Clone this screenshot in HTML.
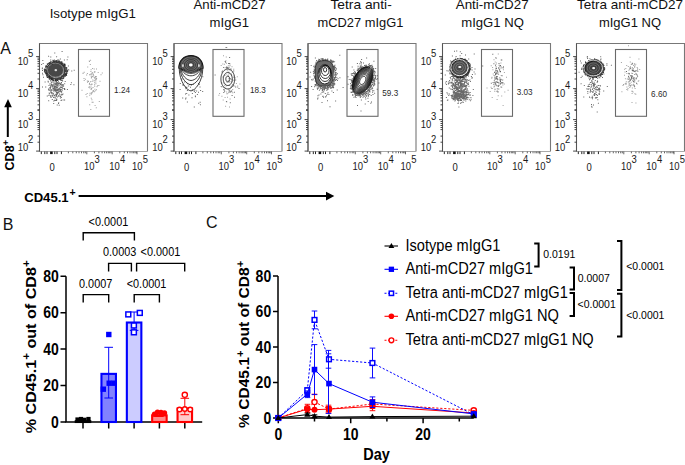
<!DOCTYPE html><html><head><meta charset="utf-8"><style>
html,body{margin:0;padding:0;background:#fff;}
svg{display:block;font-family:"Liberation Sans", sans-serif;}
</style></head><body>
<svg width="685" height="465" viewBox="0 0 685 465">
<defs><filter id="bl" x="-10%" y="-10%" width="120%" height="120%"><feGaussianBlur stdDeviation="0.3"/></filter></defs>
<g font-size="13" fill="#111" text-anchor="middle">
<text x="92.8" y="18.0" textLength="86.2" lengthAdjust="spacingAndGlyphs">Isotype mIgG1</text>
<text x="229.5" y="9.4" textLength="72.0" lengthAdjust="spacingAndGlyphs">Anti-mCD27</text>
<text x="229.3" y="26.6" textLength="39.4" lengthAdjust="spacingAndGlyphs">mIgG1</text>
<text x="361.1" y="9.4" textLength="61.3" lengthAdjust="spacingAndGlyphs">Tetra anti-</text>
<text x="360.4" y="26.6" textLength="85.8" lengthAdjust="spacingAndGlyphs">mCD27 mIgG1</text>
<text x="492.2" y="9.4" textLength="72.9" lengthAdjust="spacingAndGlyphs">Anti-mCD27</text>
<text x="492.6" y="26.6" textLength="62.7" lengthAdjust="spacingAndGlyphs">mIgG1 NQ</text>
<text x="630.0" y="9.4" textLength="106.0" lengthAdjust="spacingAndGlyphs">Tetra anti-mCD27</text>
<text x="630.0" y="26.6" textLength="62.1" lengthAdjust="spacingAndGlyphs">mIgG1 NQ</text>
</g>
<text x="0.3" y="53.7" font-size="16" fill="#111">A</text>
<text x="2.8" y="229.7" font-size="16" fill="#111">B</text>
<text x="206" y="228" font-size="16" fill="#111">C</text>
<path d="M39.5 151.5V43.5H147.5V151.5" fill="none" stroke="#777" stroke-width="1.1"/>
<path d="M39.5 151.5H147.5" fill="none" stroke="#aaa" stroke-width="1.1"/>
<path d="M39.5 151.5V43.5" fill="none" stroke="#555" stroke-width="1"/>
<rect x="78.5" y="49.5" width="31" height="66.8" fill="none" stroke="#6a6a6a" stroke-width="1.1"/>
<path d="M36.1 56.6H39.5 M36.1 88.6H39.5 M36.1 119.6H39.5 M36.1 151.1H39.5 M37.5 109.8H39.5 M37.5 121.5H39.5 M37.5 123.5H39.5 M37.5 125.5H39.5 M37.5 127.5H39.5 M37.5 129.6H39.5 M37.5 136.1H39.5 M37.5 142.2H39.5 M37.5 79.0H39.5 M37.5 73.3H39.5 M37.5 69.3H39.5 M37.5 66.2H39.5 M37.5 63.7H39.5 M37.5 61.6H39.5 M37.5 59.7H39.5 M37.5 58.1H39.5 M37.5 110.3H39.5 M37.5 104.8H39.5 M37.5 100.9H39.5 M37.5 97.9H39.5 M37.5 95.5H39.5 M37.5 93.4H39.5 M37.5 91.6H39.5 M37.5 90.0H39.5" stroke="#333" stroke-width="0.9" fill="none"/>
<path d="M41.3 151.5V154.1 M44.8 151.5V154.1 M47.0 151.5V154.1 M54.8 151.5V154.1 M57.0 151.5V154.1 M61.4 151.5V154.1" stroke="#222" stroke-width="1" fill="none"/>
<rect x="50.1" y="151.5" width="2.6" height="2.6" fill="#111"/>
<path d="M86.8 151.5V154.3 M112.2 151.5V154.3 M137.0 151.5V154.3 M94.4 151.5V153.3 M98.9 151.5V153.3 M102.1 151.5V153.3 M104.6 151.5V153.3 M106.6 151.5V153.3 M108.3 151.5V153.3 M109.7 151.5V153.3 M111.0 151.5V153.3 M119.8 151.5V153.3 M124.3 151.5V153.3 M127.5 151.5V153.3 M130.0 151.5V153.3 M132.0 151.5V153.3 M133.7 151.5V153.3 M135.1 151.5V153.3 M136.4 151.5V153.3 M68.4 151.5V153.3 M72.8 151.5V153.3 M76.3 151.5V153.3 M79.0 151.5V153.3 M81.5 151.5V153.3 M83.7 151.5V153.3 M85.3 151.5V153.3" stroke="#555" stroke-width="0.9" fill="none"/>
<g font-size="10.2" fill="#1a1a1a">
<text transform="translate(17.70,65.20) scale(0.93,1)">10</text><text transform="translate(28.10,57.40) scale(0.93,1)">5</text>
<text transform="translate(17.70,97.20) scale(0.93,1)">10</text><text transform="translate(28.10,89.40) scale(0.93,1)">4</text>
<text transform="translate(17.70,128.20) scale(0.93,1)">10</text><text transform="translate(28.10,120.40) scale(0.93,1)">3</text>
<text transform="translate(17.70,151.00) scale(0.93,1)">10</text><text transform="translate(28.10,143.20) scale(0.93,1)">2</text>
<text transform="translate(49.40,170.60) scale(0.93,1)">0</text>
<text transform="translate(83.90,170.20) scale(0.93,1)">10</text><text transform="translate(94.50,162.90) scale(0.93,1)">3</text>
<text transform="translate(109.30,170.20) scale(0.93,1)">10</text><text transform="translate(119.90,162.90) scale(0.93,1)">4</text>
<text transform="translate(132.10,170.20) scale(0.93,1)">10</text><text transform="translate(142.70,162.90) scale(0.93,1)">5</text>
</g>
<g filter="url(#bl)">
<path d="M56.0 91.9h1v1h-1zM54.8 84.2h1v1h-1zM54.0 83.6h1v1h-1zM56.3 98.7h1v1h-1zM53.9 86.0h1v1h-1zM58.1 92.3h1v1h-1zM56.5 84.0h1v1h-1zM55.9 94.5h1v1h-1zM50.2 87.0h1v1h-1zM47.8 81.6h1v1h-1zM48.1 88.5h1v1h-1zM50.5 91.8h1v1h-1zM56.7 88.8h1v1h-1zM45.2 86.5h1v1h-1zM55.8 90.7h1v1h-1zM49.4 86.9h1v1h-1zM51.8 84.7h1v1h-1zM60.6 84.8h1v1h-1zM55.9 95.7h1v1h-1zM53.5 89.3h1v1h-1zM56.5 90.4h1v1h-1zM50.7 90.5h1v1h-1zM61.8 79.9h1v1h-1zM59.7 90.8h1v1h-1zM53.2 103.0h1v1h-1zM59.3 82.2h1v1h-1zM56.3 93.7h1v1h-1zM55.2 94.4h1v1h-1zM55.7 94.3h1v1h-1zM62.2 85.6h1v1h-1zM56.9 87.0h1v1h-1zM56.5 82.3h1v1h-1zM53.5 88.7h1v1h-1zM59.9 97.4h1v1h-1zM50.3 84.8h1v1h-1zM54.0 89.4h1v1h-1zM61.4 94.5h1v1h-1zM54.6 87.6h1v1h-1zM54.9 99.9h1v1h-1zM54.2 88.0h1v1h-1zM57.5 89.2h1v1h-1zM55.2 82.8h1v1h-1zM56.0 87.1h1v1h-1zM61.0 94.2h1v1h-1zM55.9 94.3h1v1h-1zM54.5 96.8h1v1h-1zM56.0 93.8h1v1h-1zM50.4 92.3h1v1h-1zM48.7 76.8h1v1h-1zM54.7 84.2h1v1h-1zM56.7 104.6h1v1h-1zM52.4 85.9h1v1h-1zM56.9 93.2h1v1h-1zM55.2 88.7h1v1h-1zM59.0 93.4h1v1h-1zM51.6 89.5h1v1h-1zM56.2 83.1h1v1h-1zM57.1 84.4h1v1h-1zM60.2 91.3h1v1h-1zM56.4 86.2h1v1h-1zM51.1 92.4h1v1h-1zM46.8 95.5h1v1h-1zM48.5 94.9h1v1h-1zM52.4 95.1h1v1h-1zM56.6 80.0h1v1h-1zM61.4 99.4h1v1h-1zM55.7 88.2h1v1h-1zM55.3 83.7h1v1h-1zM60.7 86.5h1v1h-1zM55.8 84.8h1v1h-1zM53.3 81.7h1v1h-1zM61.4 89.0h1v1h-1zM60.2 90.1h1v1h-1zM53.0 87.9h1v1h-1zM53.6 90.1h1v1h-1zM54.4 88.1h1v1h-1zM50.1 84.8h1v1h-1zM63.1 85.6h1v1h-1zM51.5 92.2h1v1h-1zM62.1 80.5h1v1h-1zM55.1 85.9h1v1h-1zM48.4 94.8h1v1h-1zM55.9 90.5h1v1h-1zM52.8 93.0h1v1h-1zM53.7 89.1h1v1h-1zM51.2 82.1h1v1h-1zM61.7 86.7h1v1h-1zM57.3 89.8h1v1h-1zM54.1 86.7h1v1h-1zM58.7 88.0h1v1h-1zM55.3 90.1h1v1h-1zM61.1 94.4h1v1h-1zM57.6 86.3h1v1h-1zM50.1 96.2h1v1h-1zM60.2 89.1h1v1h-1zM58.3 95.1h1v1h-1zM59.6 96.0h1v1h-1zM54.0 99.8h1v1h-1zM50.6 95.6h1v1h-1zM58.1 95.7h1v1h-1zM64.1 99.6h1v1h-1zM51.1 79.0h1v1h-1zM59.5 83.4h1v1h-1zM55.9 95.5h1v1h-1zM48.9 76.3h1v1h-1zM57.1 90.3h1v1h-1zM54.9 90.3h1v1h-1zM52.3 80.2h1v1h-1zM55.3 83.7h1v1h-1zM48.9 93.3h1v1h-1zM55.7 92.6h1v1h-1zM51.7 85.7h1v1h-1zM51.7 84.2h1v1h-1zM56.8 84.9h1v1h-1zM57.5 92.2h1v1h-1zM64.7 80.9h1v1h-1zM59.8 89.4h1v1h-1zM55.9 80.6h1v1h-1zM54.0 94.8h1v1h-1zM55.6 90.5h1v1h-1zM54.7 97.5h1v1h-1zM42.0 86.6h1v1h-1zM61.7 90.3h1v1h-1zM51.0 83.9h1v1h-1zM60.9 91.0h1v1h-1zM56.2 89.7h1v1h-1zM56.2 95.2h1v1h-1zM58.4 91.4h1v1h-1zM51.5 93.3h1v1h-1zM53.1 97.1h1v1h-1zM50.5 89.1h1v1h-1zM56.0 81.4h1v1h-1zM63.4 99.5h1v1h-1zM54.0 95.0h1v1h-1zM57.1 89.6h1v1h-1zM56.4 83.0h1v1h-1zM54.8 88.8h1v1h-1zM61.1 92.2h1v1h-1zM56.0 99.9h1v1h-1zM53.6 87.5h1v1h-1zM48.2 100.2h1v1h-1zM60.1 96.0h1v1h-1zM58.9 90.7h1v1h-1zM56.9 88.4h1v1h-1zM55.1 90.4h1v1h-1zM62.5 93.6h1v1h-1zM55.7 86.2h1v1h-1zM53.3 100.4h1v1h-1zM58.2 90.4h1v1h-1zM54.5 82.8h1v1h-1zM55.7 95.7h1v1h-1zM54.3 88.5h1v1h-1zM55.0 90.7h1v1h-1zM49.2 88.5h1v1h-1zM52.3 95.7h1v1h-1zM52.7 93.8h1v1h-1zM62.6 88.0h1v1h-1zM53.4 91.2h1v1h-1zM56.0 83.5h1v1h-1zM58.0 103.1h1v1h-1zM54.9 88.7h1v1h-1zM51.5 92.1h1v1h-1zM50.6 82.8h1v1h-1zM61.5 84.1h1v1h-1zM60.6 99.9h1v1h-1zM57.1 93.6h1v1h-1zM64.4 88.7h1v1h-1zM53.5 81.2h1v1h-1zM56.2 99.6h1v1h-1zM60.1 83.9h1v1h-1zM52.3 86.7h1v1h-1zM57.3 88.7h1v1h-1zM56.9 91.9h1v1h-1zM54.7 89.7h1v1h-1zM56.9 89.5h1v1h-1zM58.2 102.2h1v1h-1zM58.5 90.4h1v1h-1zM48.7 92.5h1v1h-1zM47.6 80.8h1v1h-1zM59.7 94.6h1v1h-1zM55.4 78.9h1v1h-1zM54.4 85.6h1v1h-1zM58.7 104.7h1v1h-1zM56.9 84.9h1v1h-1zM51.0 89.6h1v1h-1zM55.2 82.5h1v1h-1zM56.5 82.5h1v1h-1zM60.8 96.9h1v1h-1zM60.7 86.9h1v1h-1zM58.2 89.1h1v1h-1zM54.3 87.8h1v1h-1zM50.4 80.6h1v1h-1zM59.4 88.8h1v1h-1zM56.9 96.5h1v1h-1zM48.5 84.9h1v1h-1zM56.8 92.5h1v1h-1zM54.4 96.7h1v1h-1zM56.9 82.1h1v1h-1zM52.0 95.2h1v1h-1zM61.8 93.9h1v1h-1zM61.8 87.5h1v1h-1zM54.7 82.7h1v1h-1zM66.9 88.9h1v1h-1zM62.8 85.8h1v1h-1zM56.7 79.1h1v1h-1zM54.4 96.4h1v1h-1zM50.6 97.0h1v1h-1zM57.5 83.2h1v1h-1zM53.8 87.0h1v1h-1zM55.8 86.5h1v1h-1zM52.4 88.0h1v1h-1zM51.6 81.6h1v1h-1zM55.8 95.7h1v1h-1zM49.4 90.0h1v1h-1zM53.2 83.6h1v1h-1zM59.7 86.6h1v1h-1zM62.4 84.9h1v1h-1zM57.7 88.5h1v1h-1zM52.8 93.8h1v1h-1zM55.3 93.9h1v1h-1zM55.8 82.9h1v1h-1zM55.6 90.3h1v1h-1zM60.1 84.1h1v1h-1zM55.8 78.8h1v1h-1zM58.8 83.0h1v1h-1zM48.2 89.6h1v1h-1zM60.8 80.1h1v1h-1zM51.3 85.2h1v1h-1zM51.1 92.5h1v1h-1zM52.5 85.3h1v1h-1zM58.5 85.1h1v1h-1zM57.9 83.7h1v1h-1zM50.8 78.1h1v1h-1zM64.0 87.9h1v1h-1zM57.0 89.8h1v1h-1zM56.7 90.3h1v1h-1zM64.2 83.2h1v1h-1zM49.3 83.4h1v1h-1zM50.3 94.9h1v1h-1zM59.5 83.8h1v1h-1zM50.0 87.7h1v1h-1zM58.3 83.0h1v1h-1zM60.5 83.0h1v1h-1zM54.8 80.2h1v1h-1zM51.8 99.0h1v1h-1zM59.5 87.4h1v1h-1zM54.3 89.8h1v1h-1zM55.6 89.4h1v1h-1zM51.2 89.6h1v1h-1zM55.8 98.4h1v1h-1zM64.0 89.1h1v1h-1zM52.7 89.6h1v1h-1zM53.4 85.2h1v1h-1zM55.7 83.2h1v1h-1zM58.6 89.3h1v1h-1zM57.1 88.8h1v1h-1zM52.9 83.8h1v1h-1zM55.0 86.4h1v1h-1zM57.0 90.0h1v1h-1zM50.1 90.4h1v1h-1zM50.2 86.0h1v1h-1zM56.2 61.8h1v1h-1zM59.9 58.5h1v1h-1zM57.2 59.6h1v1h-1zM59.8 78.4h1v1h-1zM43.0 76.8h1v1h-1zM54.3 52.5h1v1h-1zM58.5 59.8h1v1h-1zM45.1 65.8h1v1h-1zM65.7 67.6h1v1h-1zM57.7 82.4h1v1h-1zM68.3 69.5h1v1h-1zM53.6 61.4h1v1h-1zM63.5 64.8h1v1h-1zM60.2 77.7h1v1h-1zM42.4 74.3h1v1h-1zM41.9 67.6h1v1h-1zM61.6 50.9h1v1h-1zM61.0 82.1h1v1h-1zM62.7 83.9h1v1h-1zM57.1 79.6h1v1h-1zM55.3 80.5h1v1h-1zM63.9 59.6h1v1h-1zM50.2 59.5h1v1h-1zM64.3 63.8h1v1h-1zM52.0 78.7h1v1h-1zM73.4 84.2h1v1h-1zM67.8 69.3h1v1h-1zM42.3 60.1h1v1h-1zM42.7 62.9h1v1h-1zM52.5 87.9h1v1h-1zM61.2 84.6h1v1h-1zM65.2 73.7h1v1h-1zM70.9 82.2h1v1h-1zM42.0 72.8h1v1h-1zM71.3 70.4h1v1h-1zM41.1 63.9h1v1h-1zM45.8 66.7h1v1h-1zM56.1 56.2h1v1h-1zM58.2 59.6h1v1h-1zM42.0 70.0h1v1h-1zM70.3 84.1h1v1h-1zM66.1 75.1h1v1h-1zM50.1 80.3h1v1h-1zM73.7 69.7h1v1h-1zM61.2 62.4h1v1h-1zM67.9 65.5h1v1h-1zM67.4 56.5h1v1h-1zM66.7 59.2h1v1h-1zM48.1 55.7h1v1h-1zM52.5 59.7h1v1h-1zM58.0 81.3h1v1h-1zM53.9 59.5h1v1h-1zM45.8 73.2h1v1h-1zM50.3 56.4h1v1h-1zM65.4 73.2h1v1h-1zM43.8 69.0h1v1h-1zM44.6 81.6h1v1h-1zM56.3 61.7h1v1h-1zM41.8 68.2h1v1h-1z" fill="#2a2a2a" fill-opacity="0.7"/>
<path d="M90.6 75.5h1v1h-1zM91.4 76.3h1v1h-1zM93.3 75.4h1v1h-1zM90.8 93.3h1v1h-1zM101.8 72.4h1v1h-1zM89.0 74.2h1v1h-1zM94.3 70.9h1v1h-1zM89.0 82.7h1v1h-1zM86.9 72.9h1v1h-1zM89.0 60.9h1v1h-1zM84.9 78.7h1v1h-1zM91.6 81.0h1v1h-1zM83.5 78.1h1v1h-1zM94.4 88.8h1v1h-1zM90.7 73.7h1v1h-1zM93.7 76.9h1v1h-1zM86.1 74.6h1v1h-1zM97.1 85.3h1v1h-1zM95.9 78.0h1v1h-1zM94.9 76.7h1v1h-1zM90.3 109.1h1v1h-1zM94.2 77.7h1v1h-1zM90.6 86.4h1v1h-1zM96.1 77.9h1v1h-1zM83.7 80.1h1v1h-1zM91.1 84.2h1v1h-1zM96.5 86.3h1v1h-1zM94.4 71.4h1v1h-1zM94.6 105.0h1v1h-1zM94.2 85.7h1v1h-1zM91.6 101.8h1v1h-1zM87.1 81.8h1v1h-1zM92.9 90.8h1v1h-1zM89.2 86.2h1v1h-1zM89.8 84.3h1v1h-1zM90.4 71.0h1v1h-1zM90.9 92.2h1v1h-1zM86.9 80.5h1v1h-1zM93.8 71.8h1v1h-1zM91.8 71.9h1v1h-1zM95.8 107.3h1v1h-1zM99.5 80.7h1v1h-1zM94.1 84.3h1v1h-1zM91.4 99.3h1v1h-1zM85.5 94.1h1v1h-1zM90.8 97.8h1v1h-1zM91.8 75.9h1v1h-1zM92.2 90.7h1v1h-1zM91.2 88.1h1v1h-1zM88.8 60.6h1v1h-1zM94.8 90.3h1v1h-1zM91.6 83.7h1v1h-1zM95.4 78.2h1v1h-1zM88.0 81.0h1v1h-1zM96.0 68.4h1v1h-1zM96.0 76.3h1v1h-1zM86.4 96.2h1v1h-1zM90.6 69.3h1v1h-1zM89.5 92.8h1v1h-1zM96.0 78.5h1v1h-1zM92.7 90.5h1v1h-1zM88.3 86.7h1v1h-1zM90.9 77.4h1v1h-1zM88.9 83.7h1v1h-1zM91.1 77.1h1v1h-1zM89.2 94.7h1v1h-1zM91.9 92.3h1v1h-1zM96.0 89.2h1v1h-1zM100.5 74.3h1v1h-1zM94.4 79.7h1v1h-1zM98.8 100.9h1v1h-1zM82.8 72.8h1v1h-1zM93.8 91.3h1v1h-1zM94.1 82.3h1v1h-1zM92.9 89.9h1v1h-1zM90.7 93.8h1v1h-1zM81.5 89.7h1v1h-1zM86.7 93.1h1v1h-1zM90.0 73.7h1v1h-1zM92.6 73.4h1v1h-1zM87.2 66.5h1v1h-1zM90.9 88.2h1v1h-1zM95.3 81.5h1v1h-1zM95.4 83.2h1v1h-1zM90.6 89.0h1v1h-1zM95.4 79.4h1v1h-1zM90.0 81.3h1v1h-1zM91.3 73.5h1v1h-1zM95.3 78.8h1v1h-1zM92.9 74.3h1v1h-1zM92.5 87.1h1v1h-1zM89.2 104.2h1v1h-1zM92.6 101.7h1v1h-1zM95.0 76.0h1v1h-1zM89.4 87.6h1v1h-1zM91.3 83.5h1v1h-1zM89.8 64.0h1v1h-1zM90.1 59.7h1v1h-1zM92.6 75.4h1v1h-1zM88.0 80.7h1v1h-1zM92.1 68.0h1v1h-1zM83.7 71.8h1v1h-1zM82.4 72.8h1v1h-1zM97.7 71.9h1v1h-1zM93.7 68.6h1v1h-1zM92.3 79.6h1v1h-1zM90.7 89.0h1v1h-1zM98.4 85.0h1v1h-1zM91.5 72.8h1v1h-1zM93.5 80.4h1v1h-1z" fill="#555" fill-opacity="0.55"/>
<ellipse cx="55.50" cy="70.2" rx="8.69" ry="7.63" fill="#474747"/>
<path d="M54.5 62.5h1v1h-1zM65.8 69.7h1v1h-1zM47.3 73.9h1v1h-1zM57.1 62.7h1v1h-1zM48.9 63.2h1v1h-1zM44.5 69.2h1v1h-1zM46.3 71.8h1v1h-1zM53.1 79.8h1v1h-1zM51.4 78.4h1v1h-1zM46.0 75.6h1v1h-1zM63.5 67.8h1v1h-1zM65.4 69.9h1v1h-1zM64.0 73.9h1v1h-1zM64.7 72.8h1v1h-1zM59.1 77.6h1v1h-1zM52.2 78.4h1v1h-1zM60.5 61.3h1v1h-1zM50.9 77.7h1v1h-1zM64.6 70.5h1v1h-1zM63.8 68.4h1v1h-1zM62.4 63.7h1v1h-1zM52.6 79.2h1v1h-1zM52.8 79.7h1v1h-1zM63.0 73.9h1v1h-1zM55.5 62.0h1v1h-1zM61.3 76.9h1v1h-1zM52.7 78.3h1v1h-1zM55.1 60.6h1v1h-1zM64.7 73.3h1v1h-1zM64.8 69.4h1v1h-1zM56.5 62.7h1v1h-1zM62.4 64.1h1v1h-1zM63.6 64.2h1v1h-1zM61.3 64.7h1v1h-1zM53.6 62.7h1v1h-1zM54.6 78.1h1v1h-1zM47.1 65.4h1v1h-1zM63.2 67.1h1v1h-1zM58.7 77.7h1v1h-1zM59.5 62.5h1v1h-1zM45.0 69.5h1v1h-1zM50.5 63.7h1v1h-1zM63.5 74.5h1v1h-1zM62.7 64.3h1v1h-1zM64.3 72.9h1v1h-1zM48.2 75.9h1v1h-1zM45.8 65.0h1v1h-1zM50.6 77.1h1v1h-1zM47.1 63.8h1v1h-1zM52.9 62.2h1v1h-1zM59.2 62.6h1v1h-1zM64.2 68.4h1v1h-1zM63.1 77.0h1v1h-1zM52.3 79.4h1v1h-1zM48.1 64.9h1v1h-1zM64.6 75.1h1v1h-1zM66.0 74.3h1v1h-1zM61.9 64.7h1v1h-1zM63.2 77.2h1v1h-1zM47.0 71.2h1v1h-1zM46.7 70.3h1v1h-1zM47.1 75.0h1v1h-1zM64.7 65.4h1v1h-1zM60.5 77.2h1v1h-1zM43.9 70.7h1v1h-1zM63.7 74.6h1v1h-1zM63.4 66.1h1v1h-1zM54.8 78.7h1v1h-1zM50.7 79.2h1v1h-1zM63.0 74.1h1v1h-1zM64.4 74.8h1v1h-1zM52.5 79.6h1v1h-1zM64.4 64.0h1v1h-1zM55.2 77.6h1v1h-1zM46.8 76.7h1v1h-1zM56.2 62.8h1v1h-1zM52.2 60.8h1v1h-1zM65.6 68.4h1v1h-1zM62.6 63.0h1v1h-1zM50.1 76.0h1v1h-1zM54.3 62.7h1v1h-1zM46.8 77.0h1v1h-1zM46.6 67.1h1v1h-1zM63.9 67.7h1v1h-1zM66.7 70.2h1v1h-1zM49.6 76.2h1v1h-1zM63.4 77.2h1v1h-1zM58.8 77.0h1v1h-1zM63.1 64.7h1v1h-1zM50.6 62.1h1v1h-1zM63.7 72.2h1v1h-1zM47.0 70.2h1v1h-1zM45.1 70.0h1v1h-1zM50.0 62.9h1v1h-1zM63.9 72.4h1v1h-1zM62.4 65.7h1v1h-1zM47.2 68.7h1v1h-1zM63.5 67.4h1v1h-1zM47.3 74.8h1v1h-1zM53.3 60.4h1v1h-1zM54.7 62.3h1v1h-1zM64.7 74.3h1v1h-1zM63.9 68.9h1v1h-1zM56.8 62.7h1v1h-1zM46.2 72.3h1v1h-1zM46.8 63.5h1v1h-1zM52.0 62.8h1v1h-1zM53.4 62.1h1v1h-1zM47.7 74.4h1v1h-1zM46.6 70.5h1v1h-1zM55.9 77.8h1v1h-1zM47.2 73.1h1v1h-1zM61.2 62.0h1v1h-1zM50.0 77.5h1v1h-1zM62.9 65.6h1v1h-1zM46.7 67.4h1v1h-1zM48.8 62.1h1v1h-1zM62.9 77.9h1v1h-1zM50.1 62.1h1v1h-1zM48.2 62.9h1v1h-1zM50.7 78.2h1v1h-1zM54.7 78.6h1v1h-1zM51.9 63.2h1v1h-1zM65.4 73.7h1v1h-1zM59.2 61.9h1v1h-1zM51.1 78.2h1v1h-1zM64.3 74.7h1v1h-1zM46.7 66.2h1v1h-1zM47.2 72.7h1v1h-1zM54.1 62.0h1v1h-1zM55.2 62.2h1v1h-1zM63.7 74.6h1v1h-1zM47.4 63.3h1v1h-1zM62.0 65.4h1v1h-1zM56.7 62.5h1v1h-1zM52.5 62.6h1v1h-1zM51.3 77.7h1v1h-1zM45.4 68.5h1v1h-1zM48.9 63.4h1v1h-1zM47.9 76.1h1v1h-1zM49.9 77.4h1v1h-1zM46.1 72.4h1v1h-1zM65.0 71.1h1v1h-1zM57.2 78.1h1v1h-1zM64.5 74.2h1v1h-1zM62.6 65.3h1v1h-1zM63.4 75.6h1v1h-1zM63.3 77.2h1v1h-1zM62.0 75.8h1v1h-1zM46.9 70.5h1v1h-1zM51.8 77.3h1v1h-1zM52.9 60.3h1v1h-1zM48.6 77.3h1v1h-1zM61.7 76.8h1v1h-1zM47.4 73.4h1v1h-1zM60.1 61.9h1v1h-1zM61.4 76.0h1v1h-1zM60.4 61.0h1v1h-1zM47.1 64.0h1v1h-1zM65.9 69.3h1v1h-1zM50.1 64.1h1v1h-1zM48.7 76.6h1v1h-1zM63.5 66.7h1v1h-1zM48.8 74.8h1v1h-1zM52.4 62.5h1v1h-1zM58.1 62.8h1v1h-1zM50.0 62.7h1v1h-1zM47.0 71.9h1v1h-1zM46.9 75.5h1v1h-1zM58.7 77.2h1v1h-1zM46.9 72.0h1v1h-1zM58.9 61.2h1v1h-1zM65.7 67.0h1v1h-1zM50.3 64.1h1v1h-1zM60.1 62.0h1v1h-1zM55.3 61.2h1v1h-1zM59.8 63.3h1v1h-1zM51.0 62.8h1v1h-1zM50.8 76.9h1v1h-1zM60.8 77.1h1v1h-1zM49.2 76.2h1v1h-1zM61.6 63.0h1v1h-1zM50.6 61.0h1v1h-1zM57.4 78.4h1v1h-1zM63.2 74.6h1v1h-1zM63.6 67.9h1v1h-1zM56.0 60.6h1v1h-1zM44.8 69.7h1v1h-1zM47.0 73.1h1v1h-1zM46.8 69.9h1v1h-1zM52.3 77.6h1v1h-1zM64.5 69.6h1v1h-1zM57.0 80.1h1v1h-1zM62.9 77.9h1v1h-1zM61.6 63.2h1v1h-1zM47.7 73.6h1v1h-1zM62.2 74.9h1v1h-1zM50.1 76.8h1v1h-1zM64.1 66.3h1v1h-1zM65.8 69.7h1v1h-1zM61.4 77.0h1v1h-1zM60.1 76.5h1v1h-1zM64.0 67.5h1v1h-1zM58.7 77.2h1v1h-1zM50.1 63.5h1v1h-1zM65.8 70.9h1v1h-1zM55.1 79.5h1v1h-1zM45.9 70.8h1v1h-1zM45.7 72.6h1v1h-1zM66.2 69.6h1v1h-1zM64.1 73.7h1v1h-1zM56.3 77.7h1v1h-1zM58.5 77.5h1v1h-1zM65.6 67.9h1v1h-1zM61.7 63.0h1v1h-1zM51.8 77.6h1v1h-1zM47.2 73.1h1v1h-1zM46.2 74.6h1v1h-1zM63.4 73.8h1v1h-1zM45.4 71.4h1v1h-1zM49.2 63.0h1v1h-1zM62.4 74.9h1v1h-1zM52.3 77.5h1v1h-1zM55.9 60.0h1v1h-1zM52.0 63.4h1v1h-1zM52.3 79.2h1v1h-1zM64.3 66.2h1v1h-1zM50.2 76.7h1v1h-1zM48.1 63.0h1v1h-1zM50.8 76.6h1v1h-1zM64.1 70.3h1v1h-1zM61.4 63.2h1v1h-1zM64.0 69.8h1v1h-1zM48.4 77.2h1v1h-1zM51.0 63.9h1v1h-1zM47.3 75.3h1v1h-1zM51.9 62.6h1v1h-1zM59.9 79.5h1v1h-1zM45.4 72.1h1v1h-1zM47.2 68.6h1v1h-1zM56.2 77.6h1v1h-1zM58.7 77.3h1v1h-1zM47.8 74.2h1v1h-1zM48.5 77.4h1v1h-1zM64.0 71.2h1v1h-1zM58.9 62.3h1v1h-1zM47.3 73.1h1v1h-1zM47.0 68.2h1v1h-1zM62.3 62.8h1v1h-1zM51.8 76.9h1v1h-1zM62.3 65.1h1v1h-1zM49.4 62.2h1v1h-1zM58.8 61.0h1v1h-1zM44.6 70.9h1v1h-1zM46.9 72.1h1v1h-1zM46.5 71.1h1v1h-1zM56.7 60.7h1v1h-1zM61.0 76.1h1v1h-1zM48.5 75.7h1v1h-1zM66.4 67.5h1v1h-1zM65.7 68.3h1v1h-1zM51.6 63.2h1v1h-1zM49.6 75.5h1v1h-1zM59.9 63.4h1v1h-1zM63.4 74.0h1v1h-1zM50.9 78.4h1v1h-1zM64.3 70.5h1v1h-1zM64.2 64.4h1v1h-1zM48.8 64.0h1v1h-1zM57.4 79.8h1v1h-1zM56.1 61.8h1v1h-1zM60.1 76.7h1v1h-1zM49.0 75.6h1v1h-1zM64.1 73.2h1v1h-1zM47.0 72.7h1v1h-1zM48.8 75.5h1v1h-1zM48.4 76.3h1v1h-1zM46.8 70.3h1v1h-1zM58.2 62.1h1v1h-1zM45.5 72.5h1v1h-1zM55.6 60.6h1v1h-1zM59.3 61.9h1v1h-1zM53.9 62.7h1v1h-1zM52.7 62.8h1v1h-1zM55.1 77.7h1v1h-1zM48.7 74.7h1v1h-1zM49.7 62.5h1v1h-1zM56.9 62.8h1v1h-1zM48.6 62.8h1v1h-1zM64.0 71.9h1v1h-1zM54.5 78.4h1v1h-1zM60.0 77.7h1v1h-1zM49.9 77.6h1v1h-1zM45.5 68.4h1v1h-1zM55.7 79.2h1v1h-1zM54.5 61.1h1v1h-1zM65.9 74.4h1v1h-1zM47.6 66.6h1v1h-1zM46.7 73.6h1v1h-1zM46.7 69.3h1v1h-1zM54.6 78.2h1v1h-1zM57.3 62.2h1v1h-1zM64.6 72.2h1v1h-1zM58.1 77.3h1v1h-1zM64.3 69.1h1v1h-1zM46.7 68.3h1v1h-1zM66.0 73.4h1v1h-1zM63.5 67.2h1v1h-1zM47.5 74.2h1v1h-1zM60.5 77.9h1v1h-1zM57.6 61.1h1v1h-1zM51.7 63.6h1v1h-1zM56.7 78.5h1v1h-1zM52.8 62.5h1v1h-1zM45.2 73.2h1v1h-1zM64.3 71.3h1v1h-1zM52.6 80.1h1v1h-1zM56.7 77.6h1v1h-1zM46.8 74.6h1v1h-1zM61.7 78.0h1v1h-1zM58.9 78.7h1v1h-1zM61.3 78.5h1v1h-1zM58.6 78.9h1v1h-1zM60.2 63.6h1v1h-1zM63.7 75.0h1v1h-1zM46.0 70.3h1v1h-1zM57.3 62.1h1v1h-1zM46.0 70.4h1v1h-1zM46.6 72.5h1v1h-1zM60.2 76.8h1v1h-1zM54.7 77.9h1v1h-1zM57.3 62.8h1v1h-1zM58.2 78.3h1v1h-1zM52.1 77.3h1v1h-1zM48.8 76.2h1v1h-1zM50.2 61.2h1v1h-1zM61.1 63.7h1v1h-1zM46.7 72.6h1v1h-1zM56.3 80.2h1v1h-1zM63.4 73.4h1v1h-1zM50.3 62.8h1v1h-1zM53.5 80.0h1v1h-1zM47.2 74.9h1v1h-1zM64.9 75.5h1v1h-1zM62.8 75.1h1v1h-1zM64.1 63.6h1v1h-1zM64.4 64.8h1v1h-1zM56.4 77.6h1v1h-1zM47.4 72.4h1v1h-1zM63.7 68.4h1v1h-1zM51.5 77.0h1v1h-1zM65.0 70.9h1v1h-1zM65.4 74.7h1v1h-1zM52.0 62.8h1v1h-1zM61.3 62.3h1v1h-1zM50.5 78.7h1v1h-1zM64.5 66.4h1v1h-1zM48.8 78.1h1v1h-1zM64.0 67.4h1v1h-1zM64.9 75.2h1v1h-1zM51.0 63.6h1v1h-1zM47.3 67.0h1v1h-1zM63.4 66.3h1v1h-1zM58.3 77.2h1v1h-1zM49.1 78.7h1v1h-1zM57.4 78.3h1v1h-1zM63.9 68.9h1v1h-1zM52.5 79.3h1v1h-1zM64.8 75.8h1v1h-1zM59.9 63.7h1v1h-1zM47.4 65.5h1v1h-1zM52.4 62.8h1v1h-1zM48.9 75.3h1v1h-1zM53.2 77.6h1v1h-1zM64.7 64.7h1v1h-1zM49.0 77.1h1v1h-1zM46.6 70.7h1v1h-1zM48.8 78.4h1v1h-1zM50.2 77.4h1v1h-1zM63.9 67.5h1v1h-1zM58.6 63.2h1v1h-1zM54.4 60.8h1v1h-1zM61.5 61.6h1v1h-1zM52.7 60.4h1v1h-1zM53.8 78.5h1v1h-1zM57.4 77.5h1v1h-1zM45.9 73.6h1v1h-1zM57.0 62.9h1v1h-1zM63.7 67.5h1v1h-1zM52.7 79.4h1v1h-1zM63.7 64.6h1v1h-1zM50.8 77.4h1v1h-1zM60.1 63.3h1v1h-1zM59.1 61.4h1v1h-1zM44.6 72.1h1v1h-1zM47.7 76.3h1v1h-1zM49.7 64.1h1v1h-1zM45.8 68.5h1v1h-1zM47.2 68.5h1v1h-1zM67.0 69.7h1v1h-1zM66.6 72.5h1v1h-1zM47.1 68.7h1v1h-1zM59.5 62.8h1v1h-1zM53.0 61.0h1v1h-1zM47.2 68.4h1v1h-1zM60.0 62.1h1v1h-1zM63.0 66.0h1v1h-1zM57.9 60.8h1v1h-1zM49.8 76.6h1v1h-1zM51.2 76.6h1v1h-1zM56.5 78.1h1v1h-1zM63.7 76.0h1v1h-1zM46.7 74.0h1v1h-1zM53.5 78.0h1v1h-1zM55.7 61.9h1v1h-1zM47.9 65.6h1v1h-1zM45.1 66.8h1v1h-1zM54.5 78.6h1v1h-1zM52.2 63.3h1v1h-1zM64.8 68.2h1v1h-1zM55.8 79.4h1v1h-1zM59.5 62.2h1v1h-1zM62.9 66.4h1v1h-1zM45.2 68.6h1v1h-1zM64.2 65.8h1v1h-1zM48.2 65.4h1v1h-1zM46.7 66.5h1v1h-1zM64.5 64.9h1v1h-1zM54.6 60.3h1v1h-1zM65.2 73.9h1v1h-1zM45.3 72.3h1v1h-1zM52.8 78.1h1v1h-1zM59.3 63.6h1v1h-1zM53.1 78.3h1v1h-1zM60.8 63.9h1v1h-1zM59.4 63.3h1v1h-1zM52.3 78.3h1v1h-1zM49.2 62.2h1v1h-1zM61.9 64.9h1v1h-1zM55.2 61.4h1v1h-1zM47.5 76.3h1v1h-1zM63.1 65.2h1v1h-1zM62.9 66.4h1v1h-1zM60.8 78.2h1v1h-1zM52.1 78.3h1v1h-1zM46.9 70.3h1v1h-1zM55.8 61.0h1v1h-1zM60.9 76.3h1v1h-1zM59.0 60.8h1v1h-1zM62.0 64.1h1v1h-1zM49.2 76.3h1v1h-1zM59.7 77.7h1v1h-1zM56.5 77.7h1v1h-1zM49.3 75.3h1v1h-1zM45.4 71.9h1v1h-1zM48.8 62.0h1v1h-1zM63.0 64.4h1v1h-1zM63.0 65.3h1v1h-1zM58.2 62.8h1v1h-1zM44.1 68.5h1v1h-1zM47.7 65.3h1v1h-1zM57.6 62.5h1v1h-1zM59.6 63.7h1v1h-1zM56.1 77.8h1v1h-1zM55.0 80.2h1v1h-1zM64.3 71.4h1v1h-1zM46.3 66.1h1v1h-1zM56.9 62.2h1v1h-1zM57.5 79.6h1v1h-1zM61.6 75.4h1v1h-1zM56.6 78.5h1v1h-1zM65.2 67.0h1v1h-1zM46.7 66.9h1v1h-1zM52.0 62.0h1v1h-1zM51.1 76.6h1v1h-1zM58.7 79.1h1v1h-1zM48.4 63.2h1v1h-1zM66.2 72.9h1v1h-1zM47.2 76.9h1v1h-1zM47.5 65.4h1v1h-1zM59.6 62.2h1v1h-1zM51.6 63.5h1v1h-1zM48.3 65.3h1v1h-1zM63.2 73.7h1v1h-1zM46.7 71.2h1v1h-1zM56.3 62.7h1v1h-1zM67.1 71.1h1v1h-1zM51.8 77.9h1v1h-1zM57.7 77.6h1v1h-1zM46.8 75.6h1v1h-1zM66.0 72.5h1v1h-1zM65.2 69.7h1v1h-1zM49.9 76.1h1v1h-1zM59.2 77.4h1v1h-1zM60.6 64.2h1v1h-1zM57.8 61.5h1v1h-1zM64.0 71.1h1v1h-1zM54.5 61.3h1v1h-1zM51.2 79.1h1v1h-1zM57.8 78.1h1v1h-1zM63.0 76.0h1v1h-1zM62.9 74.2h1v1h-1zM56.5 61.9h1v1h-1zM50.0 62.4h1v1h-1zM48.7 65.5h1v1h-1zM52.8 63.1h1v1h-1zM54.3 78.3h1v1h-1zM61.9 75.2h1v1h-1zM49.5 62.7h1v1h-1zM49.2 76.1h1v1h-1zM58.0 78.3h1v1h-1zM45.6 65.4h1v1h-1zM66.3 72.7h1v1h-1zM64.5 69.7h1v1h-1zM53.9 60.8h1v1h-1zM50.3 63.8h1v1h-1zM47.6 63.4h1v1h-1zM62.9 75.4h1v1h-1zM66.3 71.6h1v1h-1zM57.0 62.9h1v1h-1zM55.2 61.2h1v1h-1zM62.2 76.2h1v1h-1zM52.1 62.8h1v1h-1zM44.0 70.0h1v1h-1zM49.2 63.9h1v1h-1zM63.4 73.2h1v1h-1zM61.7 62.8h1v1h-1zM60.5 62.8h1v1h-1zM46.9 66.3h1v1h-1zM54.7 62.3h1v1h-1zM46.1 70.4h1v1h-1zM50.9 63.7h1v1h-1zM63.9 71.4h1v1h-1zM60.2 78.9h1v1h-1zM53.3 61.2h1v1h-1zM47.5 72.8h1v1h-1zM44.8 72.3h1v1h-1zM45.5 69.7h1v1h-1zM49.4 75.6h1v1h-1zM48.9 64.3h1v1h-1zM50.5 76.6h1v1h-1zM52.5 62.8h1v1h-1zM47.6 66.6h1v1h-1zM55.7 62.2h1v1h-1zM44.3 71.5h1v1h-1zM53.4 61.2h1v1h-1zM49.7 78.3h1v1h-1zM46.8 76.9h1v1h-1zM63.5 64.8h1v1h-1zM60.2 62.8h1v1h-1zM54.6 62.7h1v1h-1zM66.2 69.5h1v1h-1zM61.0 76.2h1v1h-1zM46.1 66.0h1v1h-1zM62.3 78.3h1v1h-1zM48.9 78.6h1v1h-1zM55.7 61.9h1v1h-1zM49.9 75.9h1v1h-1zM64.0 74.8h1v1h-1zM57.1 60.5h1v1h-1z" fill="#111" fill-opacity="0.8"/>
<ellipse cx="55.50" cy="70.2" rx="8.06" ry="7.07" fill="none" stroke="#ddd" stroke-width="0.5"/>
<ellipse cx="55.80" cy="70.2" rx="1.3" ry="1.1" fill="#ddd"/>
</g>

<text transform="translate(114.10,92.9) scale(0.95,1)" font-size="8.6" fill="#2a2a2a">1.24</text>
<path d="M174 151.5V43.5H282V151.5" fill="none" stroke="#777" stroke-width="1.1"/>
<path d="M174 151.5H282" fill="none" stroke="#aaa" stroke-width="1.1"/>
<path d="M174 151.5V43.5" fill="none" stroke="#555" stroke-width="1"/>
<rect x="213" y="49.5" width="31" height="66.8" fill="none" stroke="#6a6a6a" stroke-width="1.1"/>
<path d="M170.6 56.6H174 M170.6 88.6H174 M170.6 119.6H174 M170.6 151.1H174 M172 109.8H174 M172 121.5H174 M172 123.5H174 M172 125.5H174 M172 127.5H174 M172 129.6H174 M172 136.1H174 M172 142.2H174 M172 79.0H174 M172 73.3H174 M172 69.3H174 M172 66.2H174 M172 63.7H174 M172 61.6H174 M172 59.7H174 M172 58.1H174 M172 110.3H174 M172 104.8H174 M172 100.9H174 M172 97.9H174 M172 95.5H174 M172 93.4H174 M172 91.6H174 M172 90.0H174" stroke="#333" stroke-width="0.9" fill="none"/>
<path d="M175.8 151.5V154.1 M179.3 151.5V154.1 M181.5 151.5V154.1 M189.3 151.5V154.1 M191.5 151.5V154.1 M195.9 151.5V154.1" stroke="#222" stroke-width="1" fill="none"/>
<rect x="184.6" y="151.5" width="2.6" height="2.6" fill="#111"/>
<path d="M221.3 151.5V154.3 M246.7 151.5V154.3 M271.5 151.5V154.3 M228.9 151.5V153.3 M233.4 151.5V153.3 M236.6 151.5V153.3 M239.1 151.5V153.3 M241.1 151.5V153.3 M242.8 151.5V153.3 M244.2 151.5V153.3 M245.5 151.5V153.3 M254.3 151.5V153.3 M258.8 151.5V153.3 M262.0 151.5V153.3 M264.5 151.5V153.3 M266.5 151.5V153.3 M268.2 151.5V153.3 M269.6 151.5V153.3 M270.9 151.5V153.3 M202.9 151.5V153.3 M207.3 151.5V153.3 M210.8 151.5V153.3 M213.5 151.5V153.3 M216.0 151.5V153.3 M218.2 151.5V153.3 M219.8 151.5V153.3" stroke="#555" stroke-width="0.9" fill="none"/>
<g font-size="10.2" fill="#1a1a1a">
<text transform="translate(152.20,65.20) scale(0.93,1)">10</text><text transform="translate(162.60,57.40) scale(0.93,1)">5</text>
<text transform="translate(152.20,97.20) scale(0.93,1)">10</text><text transform="translate(162.60,89.40) scale(0.93,1)">4</text>
<text transform="translate(152.20,128.20) scale(0.93,1)">10</text><text transform="translate(162.60,120.40) scale(0.93,1)">3</text>
<text transform="translate(152.20,151.00) scale(0.93,1)">10</text><text transform="translate(162.60,143.20) scale(0.93,1)">2</text>
<text transform="translate(183.90,170.60) scale(0.93,1)">0</text>
<text transform="translate(218.40,170.20) scale(0.93,1)">10</text><text transform="translate(229.00,162.90) scale(0.93,1)">3</text>
<text transform="translate(243.80,170.20) scale(0.93,1)">10</text><text transform="translate(254.40,162.90) scale(0.93,1)">4</text>
<text transform="translate(266.60,170.20) scale(0.93,1)">10</text><text transform="translate(277.20,162.90) scale(0.93,1)">5</text>
</g>
<g filter="url(#bl)">
<path d="M194.9 96.3h1v1h-1zM185.1 98.6h1v1h-1zM185.4 88.2h1v1h-1zM198.0 91.7h1v1h-1zM188.2 85.6h1v1h-1zM193.8 90.9h1v1h-1zM194.3 89.7h1v1h-1zM200.1 89.9h1v1h-1zM196.1 90.5h1v1h-1zM198.7 83.9h1v1h-1zM179.8 82.9h1v1h-1zM186.9 90.0h1v1h-1zM182.2 97.5h1v1h-1zM192.6 84.0h1v1h-1zM184.2 81.6h1v1h-1zM191.0 84.6h1v1h-1zM182.5 83.9h1v1h-1zM185.6 87.3h1v1h-1zM202.2 91.0h1v1h-1zM191.5 97.2h1v1h-1zM186.9 83.3h1v1h-1zM186.2 93.0h1v1h-1zM193.8 106.6h1v1h-1zM185.0 93.6h1v1h-1zM189.3 84.1h1v1h-1zM186.9 101.4h1v1h-1zM179.6 89.0h1v1h-1zM191.9 93.0h1v1h-1zM191.9 89.3h1v1h-1zM199.9 104.2h1v1h-1zM196.9 94.1h1v1h-1zM182.6 85.1h1v1h-1zM190.0 86.7h1v1h-1zM202.3 76.3h1v1h-1zM198.2 102.8h1v1h-1zM188.4 94.5h1v1h-1zM185.5 97.6h1v1h-1zM199.5 86.6h1v1h-1zM194.9 92.0h1v1h-1zM198.1 83.0h1v1h-1zM186.4 86.8h1v1h-1zM181.4 78.5h1v1h-1zM199.7 101.7h1v1h-1zM194.9 95.5h1v1h-1zM187.9 85.4h1v1h-1zM185.1 86.8h1v1h-1zM230.2 91.6h1v1h-1zM223.3 92.0h1v1h-1zM225.6 47.1h1v1h-1zM228.1 62.9h1v1h-1zM228.6 90.2h1v1h-1zM224.2 90.7h1v1h-1zM226.6 93.2h1v1h-1zM226.2 101.2h1v1h-1zM227.0 67.3h1v1h-1zM223.2 67.0h1v1h-1zM226.5 66.9h1v1h-1zM231.1 90.4h1v1h-1zM238.5 87.9h1v1h-1zM214.6 74.6h1v1h-1zM233.2 70.4h1v1h-1zM226.0 67.5h1v1h-1zM233.9 91.7h1v1h-1zM230.6 69.2h1v1h-1zM226.2 66.6h1v1h-1zM221.4 71.5h1v1h-1zM223.2 86.7h1v1h-1zM229.8 102.3h1v1h-1zM229.1 56.9h1v1h-1zM227.5 67.8h1v1h-1zM235.2 86.4h1v1h-1zM228.7 90.7h1v1h-1zM231.6 95.0h1v1h-1zM224.7 61.1h1v1h-1zM225.1 61.8h1v1h-1zM221.3 86.2h1v1h-1zM234.0 96.8h1v1h-1zM223.1 89.3h1v1h-1zM222.2 70.6h1v1h-1zM229.2 63.0h1v1h-1z" fill="#2a2a2a" fill-opacity="0.7"/>
<path d="M227.8 73.6h1v1h-1zM231.9 79.4h1v1h-1zM227.8 80.1h1v1h-1zM230.9 74.8h1v1h-1zM232.8 85.1h1v1h-1zM228.4 80.5h1v1h-1zM230.0 91.2h1v1h-1zM232.0 84.1h1v1h-1zM231.6 81.3h1v1h-1zM233.3 79.7h1v1h-1zM218.4 94.7h1v1h-1zM228.2 67.1h1v1h-1zM226.8 70.3h1v1h-1zM237.2 85.5h1v1h-1zM220.6 86.0h1v1h-1zM225.9 101.1h1v1h-1zM223.0 55.3h1v1h-1zM228.0 76.2h1v1h-1zM225.8 56.4h1v1h-1zM229.6 98.4h1v1h-1zM219.1 92.9h1v1h-1zM225.1 105.8h1v1h-1zM229.7 77.9h1v1h-1zM232.7 85.8h1v1h-1zM225.0 87.8h1v1h-1zM225.4 60.3h1v1h-1zM236.8 76.2h1v1h-1zM225.0 83.7h1v1h-1zM220.7 65.1h1v1h-1zM225.5 74.3h1v1h-1zM228.0 92.3h1v1h-1zM225.6 85.4h1v1h-1zM230.4 68.1h1v1h-1zM228.7 69.6h1v1h-1zM232.5 85.0h1v1h-1zM227.8 65.3h1v1h-1zM228.2 71.6h1v1h-1zM230.9 78.7h1v1h-1zM224.0 90.2h1v1h-1zM230.9 73.5h1v1h-1zM232.9 76.7h1v1h-1zM226.3 81.4h1v1h-1zM224.3 75.1h1v1h-1zM227.0 96.8h1v1h-1zM234.4 77.2h1v1h-1zM234.9 79.5h1v1h-1zM229.4 89.7h1v1h-1zM229.0 106.6h1v1h-1zM228.8 66.8h1v1h-1zM233.6 75.5h1v1h-1zM226.3 47.1h1v1h-1zM232.2 89.0h1v1h-1zM231.3 90.8h1v1h-1zM235.3 79.5h1v1h-1zM231.9 71.8h1v1h-1zM226.1 91.6h1v1h-1zM229.5 65.3h1v1h-1zM229.3 78.0h1v1h-1zM224.0 84.8h1v1h-1zM225.9 62.7h1v1h-1zM222.7 99.5h1v1h-1zM220.9 82.5h1v1h-1zM230.4 87.0h1v1h-1zM222.2 76.5h1v1h-1zM228.3 88.8h1v1h-1zM224.8 67.2h1v1h-1zM232.2 92.2h1v1h-1zM229.4 73.3h1v1h-1zM229.5 81.2h1v1h-1zM231.5 66.3h1v1h-1zM228.2 78.3h1v1h-1zM222.7 82.4h1v1h-1zM227.9 75.5h1v1h-1zM229.5 64.4h1v1h-1zM227.5 84.7h1v1h-1zM229.0 91.8h1v1h-1zM222.3 63.4h1v1h-1zM228.8 85.0h1v1h-1zM237.2 86.8h1v1h-1zM223.8 88.9h1v1h-1zM223.9 63.7h1v1h-1zM239.4 83.6h1v1h-1zM230.9 86.2h1v1h-1zM235.9 83.1h1v1h-1zM233.2 68.7h1v1h-1zM221.4 95.7h1v1h-1zM234.3 85.6h1v1h-1zM228.7 81.8h1v1h-1zM224.6 96.9h1v1h-1zM230.7 85.6h1v1h-1z" fill="#555" fill-opacity="0.55"/>

</g>
<path d="M228.25 81.81 L227.75 81.88 L227.25 81.77 L227.00 81.64 L226.75 81.45 L226.50 81.18 L226.25 80.81 L226.10 80.50 L226.00 80.23 L225.88 79.75 L225.82 79.25 L225.82 78.75 L225.88 78.25 L226.00 77.77 L226.10 77.50 L226.25 77.19 L226.50 76.82 L226.75 76.55 L227.00 76.36 L227.25 76.23 L227.75 76.12 L228.25 76.19 L228.50 76.30 L228.79 76.50 L229.04 76.75 L229.25 77.02 L229.50 77.50 L229.59 77.75 L229.72 78.25 L229.76 78.50 L229.79 79.00 L229.76 79.50 L229.72 79.75 L229.59 80.25 L229.50 80.50 L229.25 80.98 L229.04 81.25 L228.79 81.50 L228.50 81.70 L228.25 81.81 M228.00 85.51 L227.50 85.50 L227.25 85.47 L226.75 85.34 L226.50 85.24 L226.04 85.00 L225.75 84.80 L225.50 84.60 L225.25 84.37 L225.00 84.10 L224.75 83.79 L224.54 83.50 L224.39 83.25 L224.25 83.00 L224.00 82.50 L223.90 82.25 L223.75 81.84 L223.64 81.50 L223.52 81.00 L223.46 80.75 L223.38 80.25 L223.33 79.75 L223.30 79.25 L223.30 78.75 L223.33 78.25 L223.38 77.75 L223.46 77.25 L223.52 77.00 L223.64 76.50 L223.75 76.16 L223.90 75.75 L224.00 75.50 L224.25 75.00 L224.39 74.75 L224.54 74.50 L224.75 74.21 L225.00 73.90 L225.25 73.63 L225.50 73.40 L225.75 73.20 L226.04 73.00 L226.50 72.76 L226.75 72.66 L227.25 72.53 L227.50 72.50 L228.00 72.49 L228.25 72.51 L228.75 72.63 L229.07 72.75 L229.50 72.96 L229.75 73.13 L230.00 73.31 L230.25 73.53 L230.50 73.79 L230.75 74.08 L231.00 74.42 L231.21 74.75 L231.35 75.00 L231.50 75.29 L231.70 75.75 L231.80 76.00 L231.96 76.50 L232.02 76.75 L232.14 77.25 L232.22 77.75 L232.25 78.03 L232.29 78.50 L232.30 79.00 L232.29 79.50 L232.25 79.97 L232.22 80.25 L232.14 80.75 L232.02 81.25 L231.96 81.50 L231.80 82.00 L231.70 82.25 L231.50 82.71 L231.35 83.00 L231.21 83.25 L231.00 83.58 L230.75 83.92 L230.50 84.21 L230.25 84.47 L230.00 84.69 L229.75 84.87 L229.50 85.04 L229.07 85.25 L228.75 85.37 L228.25 85.49 L228.00 85.51 M229.00 88.81 L228.50 88.91 L228.00 88.96 L227.50 88.96 L227.00 88.90 L226.50 88.78 L226.25 88.71 L225.75 88.51 L225.50 88.39 L225.24 88.25 L224.85 88.00 L224.51 87.75 L224.25 87.54 L224.00 87.31 L223.75 87.05 L223.50 86.78 L223.27 86.50 L223.08 86.25 L222.90 86.00 L222.74 85.75 L222.50 85.35 L222.31 85.00 L222.18 84.75 L222.00 84.36 L221.85 84.00 L221.75 83.74 L221.57 83.25 L221.50 83.00 L221.35 82.50 L221.25 82.04 L221.18 81.75 L221.09 81.25 L221.03 80.75 L221.00 80.50 L220.95 80.00 L220.93 79.50 L220.92 79.00 L220.93 78.50 L220.95 78.00 L221.00 77.50 L221.03 77.25 L221.09 76.75 L221.18 76.25 L221.25 75.96 L221.35 75.50 L221.50 75.00 L221.57 74.75 L221.75 74.26 L221.85 74.00 L222.00 73.64 L222.18 73.25 L222.31 73.00 L222.50 72.65 L222.74 72.25 L222.90 72.00 L223.08 71.75 L223.27 71.50 L223.50 71.22 L223.75 70.95 L224.00 70.69 L224.25 70.46 L224.51 70.25 L224.85 70.00 L225.24 69.75 L225.50 69.61 L225.75 69.49 L226.25 69.29 L226.50 69.22 L227.00 69.10 L227.50 69.04 L228.00 69.04 L228.50 69.09 L229.00 69.19 L229.25 69.26 L229.75 69.44 L230.00 69.56 L230.35 69.75 L230.75 70.00 L231.00 70.18 L231.25 70.38 L231.50 70.60 L231.75 70.84 L232.00 71.11 L232.25 71.40 L232.50 71.72 L232.70 72.00 L232.86 72.25 L233.01 72.50 L233.25 72.92 L233.42 73.25 L233.54 73.50 L233.75 74.00 L233.85 74.25 L234.00 74.68 L234.10 75.00 L234.24 75.50 L234.31 75.75 L234.42 76.25 L234.50 76.74 L234.54 77.00 L234.61 77.50 L234.65 78.00 L234.67 78.50 L234.68 79.00 L234.67 79.50 L234.65 80.00 L234.61 80.50 L234.54 81.00 L234.50 81.26 L234.42 81.75 L234.31 82.25 L234.24 82.50 L234.10 83.00 L234.00 83.32 L233.85 83.75 L233.75 84.00 L233.54 84.50 L233.42 84.75 L233.25 85.08 L233.01 85.50 L232.86 85.75 L232.70 86.00 L232.50 86.28 L232.25 86.60 L232.00 86.89 L231.75 87.16 L231.50 87.40 L231.25 87.62 L231.00 87.82 L230.75 88.00 L230.35 88.25 L230.00 88.44 L229.75 88.56 L229.25 88.74 L229.00 88.81" fill="none" stroke="#111" stroke-width="0.85"/>
<path d="M178.8 68.5 C178.6 60.5 184 55.6 191 55.6 C198 55.6 203.3 60.5 203.1 68.5 C199 71.2 195 71.8 191 71.8 C187 71.8 183 71.2 178.8 68.5Z" fill="#6a6a6a"/>
<path d="M178.8 68.5 C178.6 60.5 184 55.6 191 55.6 C198 55.6 203.3 60.5 203.1 68.5" fill="none" stroke="#111" stroke-width="1.1"/>
<ellipse cx="191" cy="64.8" rx="10.6" ry="8.8" fill="none" stroke="#222" stroke-width="0.7"/>
<ellipse cx="191" cy="64.9" rx="8.6" ry="7.0" fill="none" stroke="#333" stroke-width="0.7"/>
<ellipse cx="191" cy="65.0" rx="6.6" ry="5.4" fill="none" stroke="#222" stroke-width="0.7"/>
<ellipse cx="191" cy="65.0" rx="4.6" ry="3.8" fill="none" stroke="#333" stroke-width="0.7"/>
<ellipse cx="191" cy="65.0" rx="2.9" ry="2.4" fill="none" stroke="#222" stroke-width="0.7"/>
<ellipse cx="190.8" cy="65.0" rx="1.8" ry="1.4" fill="#fff"/>
<ellipse cx="182.9" cy="65.6" rx="0.9" ry="1.6" fill="#ddd"/>
<ellipse cx="198.9" cy="65.6" rx="0.9" ry="1.6" fill="#ddd"/>
<path d="M183.80 68.80 C183.80 71.08 187.04 72.60 191.00 72.60 C194.96 72.60 198.20 71.08 198.20 68.80" fill="none" stroke="#111" stroke-width="0.8"/>
<path d="M182.20 68.60 C182.20 72.92 187.04 75.80 191.00 75.80 C194.96 75.80 199.80 72.92 199.80 68.60" fill="none" stroke="#111" stroke-width="0.8"/>
<path d="M181.20 68.40 C181.20 75.66 187.08 80.50 191.00 80.50 C194.92 80.50 200.80 75.66 200.80 68.40" fill="none" stroke="#111" stroke-width="0.8"/>
<path d="M180.20 68.20 C180.20 78.10 187.22 84.70 191.00 84.70 C194.78 84.70 201.80 78.10 201.80 68.20" fill="none" stroke="#111" stroke-width="0.8"/>
<path d="M179.20 68.00 C179.20 82.20 187.46 90.90 191.00 90.90 C194.54 90.90 202.80 82.20 202.80 68.00" fill="none" stroke="#111" stroke-width="0.8"/>
<text transform="translate(250.00,92.9) scale(0.95,1)" font-size="8.6" fill="#2a2a2a">18.3</text>
<path d="M308 151.5V43.5H416V151.5" fill="none" stroke="#777" stroke-width="1.1"/>
<path d="M308 151.5H416" fill="none" stroke="#aaa" stroke-width="1.1"/>
<path d="M308 151.5V43.5" fill="none" stroke="#555" stroke-width="1"/>
<rect x="347" y="49.5" width="31" height="66.8" fill="none" stroke="#6a6a6a" stroke-width="1.1"/>
<path d="M304.6 56.6H308 M304.6 88.6H308 M304.6 119.6H308 M304.6 151.1H308 M306 109.8H308 M306 121.5H308 M306 123.5H308 M306 125.5H308 M306 127.5H308 M306 129.6H308 M306 136.1H308 M306 142.2H308 M306 79.0H308 M306 73.3H308 M306 69.3H308 M306 66.2H308 M306 63.7H308 M306 61.6H308 M306 59.7H308 M306 58.1H308 M306 110.3H308 M306 104.8H308 M306 100.9H308 M306 97.9H308 M306 95.5H308 M306 93.4H308 M306 91.6H308 M306 90.0H308" stroke="#333" stroke-width="0.9" fill="none"/>
<path d="M309.8 151.5V154.1 M313.3 151.5V154.1 M315.5 151.5V154.1 M323.3 151.5V154.1 M325.5 151.5V154.1 M329.9 151.5V154.1" stroke="#222" stroke-width="1" fill="none"/>
<rect x="318.6" y="151.5" width="2.6" height="2.6" fill="#111"/>
<path d="M355.3 151.5V154.3 M380.7 151.5V154.3 M405.5 151.5V154.3 M362.9 151.5V153.3 M367.4 151.5V153.3 M370.6 151.5V153.3 M373.1 151.5V153.3 M375.1 151.5V153.3 M376.8 151.5V153.3 M378.2 151.5V153.3 M379.5 151.5V153.3 M388.3 151.5V153.3 M392.8 151.5V153.3 M396.0 151.5V153.3 M398.5 151.5V153.3 M400.5 151.5V153.3 M402.2 151.5V153.3 M403.6 151.5V153.3 M404.9 151.5V153.3 M336.9 151.5V153.3 M341.3 151.5V153.3 M344.8 151.5V153.3 M347.5 151.5V153.3 M350.0 151.5V153.3 M352.2 151.5V153.3 M353.8 151.5V153.3" stroke="#555" stroke-width="0.9" fill="none"/>
<g font-size="10.2" fill="#1a1a1a">
<text transform="translate(286.20,65.20) scale(0.93,1)">10</text><text transform="translate(296.60,57.40) scale(0.93,1)">5</text>
<text transform="translate(286.20,97.20) scale(0.93,1)">10</text><text transform="translate(296.60,89.40) scale(0.93,1)">4</text>
<text transform="translate(286.20,128.20) scale(0.93,1)">10</text><text transform="translate(296.60,120.40) scale(0.93,1)">3</text>
<text transform="translate(286.20,151.00) scale(0.93,1)">10</text><text transform="translate(296.60,143.20) scale(0.93,1)">2</text>
<text transform="translate(317.90,170.60) scale(0.93,1)">0</text>
<text transform="translate(352.40,170.20) scale(0.93,1)">10</text><text transform="translate(363.00,162.90) scale(0.93,1)">3</text>
<text transform="translate(377.80,170.20) scale(0.93,1)">10</text><text transform="translate(388.40,162.90) scale(0.93,1)">4</text>
<text transform="translate(400.60,170.20) scale(0.93,1)">10</text><text transform="translate(411.20,162.90) scale(0.93,1)">5</text>
</g>
<g filter="url(#bl)">
<path d="M327.1 87.4h1v1h-1zM337.0 73.3h1v1h-1zM330.3 83.6h1v1h-1zM316.1 82.5h1v1h-1zM329.5 106.3h1v1h-1zM329.3 84.5h1v1h-1zM330.6 87.4h1v1h-1zM317.1 98.5h1v1h-1zM314.7 71.0h1v1h-1zM322.3 86.6h1v1h-1zM335.5 72.7h1v1h-1zM335.9 68.2h1v1h-1zM333.9 83.1h1v1h-1zM315.7 65.7h1v1h-1zM321.8 90.2h1v1h-1zM313.1 73.3h1v1h-1zM335.4 71.9h1v1h-1zM331.4 90.4h1v1h-1zM336.1 79.0h1v1h-1zM324.0 89.6h1v1h-1zM334.7 66.8h1v1h-1zM321.0 85.8h1v1h-1zM330.4 86.9h1v1h-1zM333.6 67.6h1v1h-1zM310.7 64.9h1v1h-1zM321.5 102.1h1v1h-1zM320.9 86.0h1v1h-1zM325.0 59.9h1v1h-1zM317.9 84.7h1v1h-1zM332.7 79.9h1v1h-1zM320.4 93.4h1v1h-1zM333.1 87.2h1v1h-1zM312.6 89.0h1v1h-1zM314.6 84.1h1v1h-1zM328.4 93.9h1v1h-1zM327.0 85.9h1v1h-1zM321.6 92.0h1v1h-1zM310.1 71.8h1v1h-1zM339.3 54.7h1v1h-1zM332.9 92.0h1v1h-1zM323.5 87.0h1v1h-1zM328.2 86.4h1v1h-1zM336.7 89.6h1v1h-1zM333.0 86.5h1v1h-1zM332.5 80.8h1v1h-1zM323.7 88.7h1v1h-1zM322.5 60.3h1v1h-1zM324.9 96.4h1v1h-1zM330.3 87.9h1v1h-1zM317.8 87.5h1v1h-1zM327.8 86.6h1v1h-1zM318.5 94.4h1v1h-1zM314.9 57.4h1v1h-1zM316.2 80.4h1v1h-1zM313.4 75.3h1v1h-1zM322.3 96.1h1v1h-1zM316.3 85.0h1v1h-1zM322.5 90.5h1v1h-1zM311.1 86.0h1v1h-1zM337.6 78.2h1v1h-1zM335.1 67.3h1v1h-1zM333.6 76.8h1v1h-1zM317.4 87.9h1v1h-1zM325.2 96.3h1v1h-1zM312.7 78.6h1v1h-1zM317.5 97.4h1v1h-1zM323.0 96.7h1v1h-1zM331.5 81.9h1v1h-1zM332.4 85.4h1v1h-1zM336.4 77.3h1v1h-1zM342.6 87.0h1v1h-1zM309.5 76.6h1v1h-1zM326.0 95.3h1v1h-1zM317.4 95.2h1v1h-1zM311.0 79.3h1v1h-1zM330.2 84.3h1v1h-1zM328.3 87.1h1v1h-1zM332.4 84.4h1v1h-1zM336.9 80.1h1v1h-1zM318.9 89.7h1v1h-1zM327.0 100.3h1v1h-1zM324.5 87.0h1v1h-1zM328.0 86.3h1v1h-1zM319.5 84.9h1v1h-1zM327.5 92.3h1v1h-1zM332.3 87.0h1v1h-1zM327.6 87.2h1v1h-1zM322.4 95.8h1v1h-1zM334.1 83.5h1v1h-1zM320.3 86.6h1v1h-1zM324.8 93.0h1v1h-1zM329.0 85.5h1v1h-1zM328.6 86.3h1v1h-1zM339.4 77.2h1v1h-1zM317.0 88.7h1v1h-1zM335.1 100.6h1v1h-1zM320.1 87.5h1v1h-1zM333.8 83.5h1v1h-1zM326.9 89.2h1v1h-1zM326.8 93.8h1v1h-1zM326.4 59.6h1v1h-1zM324.9 86.9h1v1h-1zM315.3 79.0h1v1h-1zM331.4 87.3h1v1h-1zM322.5 88.8h1v1h-1zM323.2 91.6h1v1h-1zM357.5 68.9h1v1h-1zM370.4 85.0h1v1h-1zM353.0 76.6h1v1h-1zM354.8 72.0h1v1h-1zM369.2 94.1h1v1h-1zM370.6 84.8h1v1h-1zM351.5 75.1h1v1h-1zM360.5 96.1h1v1h-1zM372.1 66.0h1v1h-1zM365.5 66.2h1v1h-1zM371.9 82.3h1v1h-1zM374.7 72.3h1v1h-1zM364.7 103.6h1v1h-1zM368.8 91.1h1v1h-1zM371.0 101.4h1v1h-1zM351.5 84.9h1v1h-1zM354.4 92.9h1v1h-1zM351.7 73.0h1v1h-1zM353.4 96.8h1v1h-1zM359.7 65.8h1v1h-1zM373.0 85.3h1v1h-1zM358.4 95.2h1v1h-1zM356.5 73.8h1v1h-1zM373.4 60.7h1v1h-1zM365.0 96.7h1v1h-1zM357.5 67.8h1v1h-1zM367.9 95.7h1v1h-1zM360.8 62.1h1v1h-1zM370.7 94.9h1v1h-1zM350.8 73.6h1v1h-1zM361.8 93.8h1v1h-1zM372.5 94.1h1v1h-1zM359.3 63.3h1v1h-1zM357.6 65.8h1v1h-1zM360.7 61.8h1v1h-1zM350.7 84.6h1v1h-1zM360.9 99.6h1v1h-1zM369.4 91.6h1v1h-1zM353.9 73.2h1v1h-1zM353.7 91.6h1v1h-1zM357.8 71.5h1v1h-1zM356.9 63.0h1v1h-1zM359.4 94.9h1v1h-1zM351.0 80.0h1v1h-1zM375.7 78.9h1v1h-1zM360.5 110.4h1v1h-1zM361.0 68.7h1v1h-1zM348.7 78.9h1v1h-1zM353.5 78.1h1v1h-1zM373.3 90.2h1v1h-1zM367.8 92.2h1v1h-1zM366.1 57.6h1v1h-1zM366.2 94.8h1v1h-1zM374.0 82.5h1v1h-1zM371.9 69.1h1v1h-1zM367.7 100.9h1v1h-1zM372.1 88.3h1v1h-1zM361.1 59.1h1v1h-1zM376.7 88.8h1v1h-1zM352.3 94.9h1v1h-1zM358.0 71.9h1v1h-1zM367.4 97.7h1v1h-1zM366.1 95.8h1v1h-1zM370.3 102.8h1v1h-1zM360.0 61.2h1v1h-1zM375.2 68.0h1v1h-1zM366.7 90.9h1v1h-1zM351.7 66.4h1v1h-1zM364.7 92.3h1v1h-1zM347.6 83.8h1v1h-1zM372.1 91.7h1v1h-1zM347.5 76.2h1v1h-1zM359.7 66.9h1v1h-1zM369.2 91.4h1v1h-1zM355.5 97.1h1v1h-1zM365.0 94.5h1v1h-1zM360.8 63.6h1v1h-1zM353.9 91.8h1v1h-1zM372.1 90.3h1v1h-1zM360.7 65.3h1v1h-1zM358.3 70.7h1v1h-1zM374.3 83.8h1v1h-1zM362.8 66.6h1v1h-1zM374.1 92.8h1v1h-1zM352.8 72.9h1v1h-1zM353.4 69.6h1v1h-1zM363.8 92.4h1v1h-1zM369.9 85.5h1v1h-1zM354.8 74.9h1v1h-1zM367.9 94.7h1v1h-1zM366.8 93.4h1v1h-1zM359.8 96.9h1v1h-1zM365.3 98.5h1v1h-1zM363.0 93.1h1v1h-1zM372.7 71.6h1v1h-1zM357.0 105.1h1v1h-1zM371.6 68.7h1v1h-1zM350.1 79.3h1v1h-1zM355.2 73.2h1v1h-1zM351.3 88.7h1v1h-1zM364.9 93.6h1v1h-1zM373.1 79.3h1v1h-1zM356.5 73.3h1v1h-1zM373.2 67.9h1v1h-1zM355.5 73.5h1v1h-1zM363.7 93.4h1v1h-1zM377.0 78.3h1v1h-1zM354.9 95.5h1v1h-1zM364.1 66.9h1v1h-1zM373.2 80.5h1v1h-1zM361.9 94.5h1v1h-1zM351.4 87.6h1v1h-1zM350.2 86.6h1v1h-1zM351.3 87.4h1v1h-1zM364.7 93.6h1v1h-1zM358.7 70.3h1v1h-1zM372.5 67.7h1v1h-1zM368.1 88.5h1v1h-1zM353.0 80.8h1v1h-1zM373.7 73.3h1v1h-1zM352.8 79.5h1v1h-1zM368.5 89.7h1v1h-1zM371.8 87.3h1v1h-1zM357.0 72.0h1v1h-1zM351.0 91.9h1v1h-1zM371.5 64.7h1v1h-1zM352.0 81.3h1v1h-1zM373.0 82.5h1v1h-1zM372.2 84.0h1v1h-1zM351.1 79.4h1v1h-1zM354.2 78.0h1v1h-1zM365.2 91.7h1v1h-1zM370.3 66.3h1v1h-1zM369.0 87.6h1v1h-1zM370.0 86.3h1v1h-1zM373.1 70.2h1v1h-1zM352.4 80.6h1v1h-1zM374.1 82.9h1v1h-1zM358.0 68.6h1v1h-1zM362.5 96.8h1v1h-1zM368.6 88.9h1v1h-1zM354.1 75.5h1v1h-1zM368.5 90.7h1v1h-1zM352.6 79.5h1v1h-1zM369.4 66.1h1v1h-1zM372.5 79.5h1v1h-1zM351.7 81.9h1v1h-1zM369.3 88.6h1v1h-1zM351.1 88.6h1v1h-1zM374.1 80.6h1v1h-1zM354.1 72.9h1v1h-1zM363.1 93.1h1v1h-1zM351.1 88.3h1v1h-1zM356.7 73.3h1v1h-1zM373.4 84.5h1v1h-1zM356.7 69.7h1v1h-1zM371.1 66.4h1v1h-1zM354.2 77.8h1v1h-1zM355.3 94.8h1v1h-1zM358.7 94.0h1v1h-1zM367.6 89.4h1v1h-1zM373.1 68.4h1v1h-1zM374.9 76.3h1v1h-1zM360.9 68.2h1v1h-1zM368.3 64.0h1v1h-1zM351.7 88.1h1v1h-1zM352.6 92.1h1v1h-1zM362.8 66.6h1v1h-1zM360.5 94.2h1v1h-1zM366.3 92.4h1v1h-1zM369.0 64.9h1v1h-1zM372.4 67.7h1v1h-1zM369.9 87.0h1v1h-1zM361.6 66.0h1v1h-1zM357.9 71.4h1v1h-1zM372.2 70.1h1v1h-1zM366.4 66.8h1v1h-1zM370.6 64.9h1v1h-1zM356.1 95.1h1v1h-1zM373.4 70.8h1v1h-1zM358.5 70.2h1v1h-1zM350.1 83.0h1v1h-1zM372.8 85.6h1v1h-1zM352.1 87.3h1v1h-1zM359.5 95.5h1v1h-1zM372.5 80.5h1v1h-1zM370.6 87.8h1v1h-1zM358.5 69.7h1v1h-1zM360.1 94.7h1v1h-1zM361.4 66.7h1v1h-1zM353.7 79.0h1v1h-1zM352.5 80.3h1v1h-1zM372.4 68.3h1v1h-1zM373.9 79.7h1v1h-1zM354.6 72.3h1v1h-1zM365.6 91.0h1v1h-1zM369.0 66.5h1v1h-1zM351.0 81.4h1v1h-1zM352.4 90.6h1v1h-1zM369.2 89.9h1v1h-1zM352.3 86.4h1v1h-1zM371.2 66.9h1v1h-1zM364.8 64.7h1v1h-1zM363.5 95.2h1v1h-1zM353.1 75.6h1v1h-1zM350.5 91.8h1v1h-1zM362.2 67.7h1v1h-1zM353.9 73.7h1v1h-1zM375.0 77.3h1v1h-1zM354.7 94.2h1v1h-1zM355.6 74.6h1v1h-1zM367.1 90.5h1v1h-1zM373.4 74.9h1v1h-1zM358.2 94.5h1v1h-1zM368.9 63.2h1v1h-1zM369.5 66.1h1v1h-1zM350.8 84.2h1v1h-1zM366.4 91.1h1v1h-1zM357.1 94.3h1v1h-1zM364.5 92.1h1v1h-1zM359.2 95.1h1v1h-1zM371.9 66.5h1v1h-1zM362.0 94.7h1v1h-1zM361.2 93.8h1v1h-1zM362.8 93.9h1v1h-1zM351.5 79.7h1v1h-1zM373.2 79.7h1v1h-1zM351.9 74.7h1v1h-1zM355.0 74.6h1v1h-1zM360.3 66.7h1v1h-1zM359.8 68.0h1v1h-1zM365.4 66.4h1v1h-1zM351.6 91.5h1v1h-1zM371.5 87.5h1v1h-1zM354.3 70.9h1v1h-1zM360.1 65.4h1v1h-1zM374.1 84.4h1v1h-1zM355.2 94.0h1v1h-1zM373.4 69.9h1v1h-1zM373.5 78.1h1v1h-1zM370.5 88.9h1v1h-1zM351.5 80.8h1v1h-1zM351.0 87.4h1v1h-1zM366.6 65.8h1v1h-1zM352.1 81.5h1v1h-1zM369.2 87.1h1v1h-1zM354.3 75.9h1v1h-1zM353.4 77.3h1v1h-1zM349.9 88.2h1v1h-1zM375.1 76.3h1v1h-1zM372.7 78.7h1v1h-1zM372.9 69.3h1v1h-1zM374.4 71.1h1v1h-1zM353.6 77.3h1v1h-1zM358.8 70.1h1v1h-1zM354.7 96.2h1v1h-1zM355.0 72.4h1v1h-1zM371.7 68.9h1v1h-1zM363.6 95.9h1v1h-1zM373.7 81.2h1v1h-1zM351.0 88.1h1v1h-1zM352.4 90.9h1v1h-1zM362.6 93.8h1v1h-1zM360.2 69.4h1v1h-1zM357.7 71.3h1v1h-1zM354.3 93.5h1v1h-1zM359.0 94.3h1v1h-1zM358.0 68.7h1v1h-1zM356.9 70.1h1v1h-1zM364.0 64.9h1v1h-1zM353.1 75.6h1v1h-1zM367.2 89.4h1v1h-1zM370.6 86.0h1v1h-1zM359.1 94.7h1v1h-1zM355.2 95.1h1v1h-1zM373.7 73.2h1v1h-1zM358.5 69.2h1v1h-1zM378.4 82.6h1v1h-1zM355.0 94.2h1v1h-1zM359.5 68.3h1v1h-1zM369.3 90.4h1v1h-1zM364.8 65.6h1v1h-1zM371.2 84.6h1v1h-1zM353.2 79.2h1v1h-1zM352.3 94.0h1v1h-1zM351.8 78.2h1v1h-1zM375.2 78.2h1v1h-1zM355.3 94.2h1v1h-1zM351.8 81.3h1v1h-1zM368.1 93.5h1v1h-1zM366.8 66.4h1v1h-1zM357.3 95.3h1v1h-1zM371.8 67.6h1v1h-1zM351.1 88.6h1v1h-1zM367.6 90.0h1v1h-1zM372.8 79.5h1v1h-1zM368.5 89.7h1v1h-1zM361.9 67.6h1v1h-1zM354.1 93.2h1v1h-1zM366.0 64.8h1v1h-1zM368.0 66.0h1v1h-1zM354.4 75.4h1v1h-1zM352.5 79.4h1v1h-1zM352.1 85.9h1v1h-1zM362.8 94.2h1v1h-1zM371.0 85.5h1v1h-1zM350.9 85.5h1v1h-1zM352.5 88.9h1v1h-1zM368.5 89.9h1v1h-1zM353.8 75.5h1v1h-1zM354.8 75.7h1v1h-1zM372.1 82.1h1v1h-1zM349.9 88.1h1v1h-1zM354.5 75.7h1v1h-1zM364.1 93.6h1v1h-1zM370.4 84.6h1v1h-1zM350.4 85.3h1v1h-1zM362.9 67.6h1v1h-1zM368.5 65.3h1v1h-1zM352.2 84.4h1v1h-1zM369.4 65.4h1v1h-1zM362.7 92.9h1v1h-1zM352.6 92.0h1v1h-1zM372.0 84.1h1v1h-1zM364.7 65.8h1v1h-1zM351.4 74.8h1v1h-1zM369.4 66.5h1v1h-1zM358.2 68.4h1v1h-1zM370.5 84.9h1v1h-1zM376.8 75.2h1v1h-1zM355.7 93.8h1v1h-1zM372.2 83.8h1v1h-1zM369.0 66.8h1v1h-1zM371.6 67.6h1v1h-1zM361.0 67.3h1v1h-1zM358.0 70.8h1v1h-1zM359.3 69.8h1v1h-1zM358.9 67.7h1v1h-1zM351.6 82.3h1v1h-1zM372.9 70.3h1v1h-1zM374.3 80.8h1v1h-1zM373.8 79.1h1v1h-1zM373.8 78.2h1v1h-1zM366.2 91.3h1v1h-1zM358.9 70.6h1v1h-1zM374.2 74.5h1v1h-1zM365.9 92.9h1v1h-1zM360.3 93.9h1v1h-1zM363.0 62.6h1v1h-1zM375.1 75.0h1v1h-1zM373.1 78.8h1v1h-1zM353.0 77.6h1v1h-1zM369.9 65.1h1v1h-1zM350.8 87.6h1v1h-1zM371.2 68.2h1v1h-1zM354.5 93.2h1v1h-1zM354.5 76.0h1v1h-1zM353.1 77.9h1v1h-1zM372.8 80.2h1v1h-1zM352.2 90.3h1v1h-1zM373.4 71.7h1v1h-1zM373.2 76.7h1v1h-1zM354.2 77.1h1v1h-1zM374.8 77.6h1v1h-1zM372.7 71.2h1v1h-1zM353.0 91.3h1v1h-1zM357.5 70.2h1v1h-1zM355.5 73.4h1v1h-1zM362.1 67.8h1v1h-1zM368.2 89.9h1v1h-1zM353.2 77.9h1v1h-1zM353.2 72.3h1v1h-1zM332.5 61.9h1v1h-1zM312.9 70.7h1v1h-1zM313.3 72.4h1v1h-1zM316.4 84.3h1v1h-1zM331.6 61.3h1v1h-1zM322.5 86.6h1v1h-1zM327.0 59.4h1v1h-1zM331.2 62.1h1v1h-1zM329.4 60.5h1v1h-1zM332.7 82.7h1v1h-1zM315.6 64.1h1v1h-1zM315.5 81.3h1v1h-1zM333.2 81.5h1v1h-1zM318.7 86.6h1v1h-1zM329.8 85.8h1v1h-1zM330.4 87.3h1v1h-1zM314.5 76.0h1v1h-1zM327.9 60.7h1v1h-1zM323.3 59.4h1v1h-1zM334.3 76.9h1v1h-1zM334.6 78.6h1v1h-1zM319.5 86.2h1v1h-1zM335.2 77.1h1v1h-1zM334.2 67.0h1v1h-1zM329.8 60.2h1v1h-1zM333.2 80.1h1v1h-1zM327.3 59.8h1v1h-1zM329.5 86.5h1v1h-1zM324.1 88.6h1v1h-1zM321.1 58.6h1v1h-1zM326.9 87.0h1v1h-1zM314.0 76.8h1v1h-1zM329.7 85.2h1v1h-1zM326.2 89.7h1v1h-1zM323.5 59.4h1v1h-1zM316.8 61.3h1v1h-1zM335.1 76.1h1v1h-1zM334.6 79.4h1v1h-1zM330.9 60.0h1v1h-1zM333.6 78.4h1v1h-1zM316.1 59.9h1v1h-1zM334.3 71.6h1v1h-1zM335.2 69.9h1v1h-1zM320.1 86.2h1v1h-1zM330.5 60.1h1v1h-1zM330.2 59.5h1v1h-1zM333.5 81.2h1v1h-1zM322.0 59.6h1v1h-1zM318.2 58.7h1v1h-1zM315.8 62.7h1v1h-1zM323.0 59.7h1v1h-1zM334.4 64.8h1v1h-1zM314.6 64.8h1v1h-1zM333.4 84.8h1v1h-1zM333.5 79.6h1v1h-1zM334.1 78.5h1v1h-1zM326.7 88.2h1v1h-1zM323.0 87.3h1v1h-1zM321.8 89.5h1v1h-1zM334.5 70.3h1v1h-1zM316.7 61.6h1v1h-1zM333.0 61.0h1v1h-1zM333.8 66.8h1v1h-1zM332.2 85.1h1v1h-1zM317.7 62.6h1v1h-1zM330.9 60.3h1v1h-1zM314.1 72.6h1v1h-1zM333.5 79.4h1v1h-1zM316.5 84.5h1v1h-1zM329.9 60.6h1v1h-1zM324.0 88.0h1v1h-1zM312.9 70.9h1v1h-1zM319.0 61.2h1v1h-1zM325.1 88.1h1v1h-1zM333.7 79.2h1v1h-1zM322.3 89.3h1v1h-1zM314.6 66.2h1v1h-1zM326.9 87.4h1v1h-1zM331.8 84.4h1v1h-1zM314.2 71.2h1v1h-1zM334.7 74.3h1v1h-1zM330.2 85.1h1v1h-1zM333.9 82.8h1v1h-1zM335.0 72.6h1v1h-1zM314.7 85.3h1v1h-1zM330.5 85.0h1v1h-1zM331.6 85.7h1v1h-1zM332.0 83.0h1v1h-1zM324.3 60.0h1v1h-1zM319.1 59.8h1v1h-1zM328.1 88.4h1v1h-1zM314.8 68.7h1v1h-1zM332.4 60.2h1v1h-1zM332.3 86.8h1v1h-1zM327.0 60.5h1v1h-1zM329.8 86.1h1v1h-1zM333.6 78.6h1v1h-1zM331.9 61.6h1v1h-1zM328.4 86.5h1v1h-1zM334.0 67.9h1v1h-1zM327.3 86.6h1v1h-1zM313.2 65.7h1v1h-1zM316.0 66.3h1v1h-1zM318.7 86.0h1v1h-1zM318.0 60.9h1v1h-1zM317.6 60.7h1v1h-1zM319.6 86.1h1v1h-1zM327.0 86.3h1v1h-1zM316.5 85.4h1v1h-1zM334.0 77.6h1v1h-1zM313.8 66.5h1v1h-1zM317.7 61.6h1v1h-1zM313.7 68.7h1v1h-1zM332.2 83.3h1v1h-1zM322.8 60.1h1v1h-1zM335.6 72.0h1v1h-1zM321.9 87.5h1v1h-1zM320.4 87.4h1v1h-1zM327.2 86.5h1v1h-1zM325.4 86.9h1v1h-1zM316.9 84.8h1v1h-1zM324.7 86.5h1v1h-1zM334.2 74.7h1v1h-1zM332.3 61.1h1v1h-1zM334.8 70.1h1v1h-1zM319.9 86.0h1v1h-1zM332.2 82.5h1v1h-1zM321.9 87.6h1v1h-1zM315.6 62.6h1v1h-1zM324.6 59.2h1v1h-1zM315.8 82.3h1v1h-1zM317.2 83.4h1v1h-1zM335.9 74.4h1v1h-1zM314.1 86.3h1v1h-1zM321.9 86.7h1v1h-1zM333.0 66.5h1v1h-1zM315.3 80.2h1v1h-1zM318.5 85.7h1v1h-1zM332.0 84.4h1v1h-1zM315.1 78.1h1v1h-1zM314.8 69.0h1v1h-1zM313.6 72.7h1v1h-1zM322.2 58.0h1v1h-1zM325.2 86.4h1v1h-1zM319.3 60.2h1v1h-1zM318.9 59.3h1v1h-1zM334.9 80.0h1v1h-1zM314.1 76.7h1v1h-1zM326.1 87.7h1v1h-1zM330.4 61.3h1v1h-1zM319.3 59.1h1v1h-1zM314.7 75.9h1v1h-1zM328.5 86.3h1v1h-1zM334.1 68.8h1v1h-1zM314.1 75.7h1v1h-1zM334.0 65.8h1v1h-1zM318.9 59.3h1v1h-1zM329.5 85.1h1v1h-1zM314.9 84.4h1v1h-1zM329.9 86.2h1v1h-1zM335.1 75.5h1v1h-1zM328.1 86.9h1v1h-1zM318.3 86.2h1v1h-1zM327.0 87.5h1v1h-1zM334.1 61.2h1v1h-1zM331.4 62.8h1v1h-1zM323.4 88.0h1v1h-1zM317.9 59.9h1v1h-1zM316.3 64.1h1v1h-1zM332.9 65.9h1v1h-1zM333.6 80.8h1v1h-1zM314.4 71.8h1v1h-1zM317.7 85.3h1v1h-1zM317.0 62.8h1v1h-1zM327.0 60.0h1v1h-1zM330.3 59.3h1v1h-1zM315.6 61.7h1v1h-1zM322.8 58.4h1v1h-1zM333.8 71.6h1v1h-1zM313.2 65.7h1v1h-1zM314.3 77.6h1v1h-1zM314.6 78.1h1v1h-1zM323.0 60.1h1v1h-1zM333.8 78.6h1v1h-1zM332.3 86.5h1v1h-1zM319.7 88.4h1v1h-1zM333.3 82.9h1v1h-1zM321.6 59.1h1v1h-1zM315.4 83.9h1v1h-1zM314.1 69.9h1v1h-1zM326.8 60.0h1v1h-1zM314.1 76.0h1v1h-1zM327.7 86.8h1v1h-1zM325.0 59.8h1v1h-1zM314.5 76.2h1v1h-1zM334.1 69.3h1v1h-1zM334.4 83.4h1v1h-1zM332.8 83.6h1v1h-1zM321.8 58.7h1v1h-1zM327.1 87.1h1v1h-1zM314.7 67.2h1v1h-1zM334.3 73.5h1v1h-1zM327.1 58.7h1v1h-1zM314.8 85.3h1v1h-1zM319.0 61.1h1v1h-1zM334.4 73.4h1v1h-1zM314.2 75.8h1v1h-1zM314.4 69.9h1v1h-1zM319.5 60.5h1v1h-1zM324.0 86.5h1v1h-1zM335.6 74.1h1v1h-1zM322.7 86.6h1v1h-1zM320.6 58.3h1v1h-1zM332.6 82.5h1v1h-1zM334.1 77.8h1v1h-1zM325.1 58.8h1v1h-1zM325.9 60.4h1v1h-1zM319.9 60.2h1v1h-1zM321.8 88.7h1v1h-1zM331.6 85.8h1v1h-1zM318.8 60.9h1v1h-1zM330.7 85.1h1v1h-1zM320.1 87.4h1v1h-1zM331.3 61.1h1v1h-1zM314.7 80.5h1v1h-1zM312.3 79.4h1v1h-1zM333.7 84.1h1v1h-1zM317.8 61.6h1v1h-1zM324.1 59.2h1v1h-1zM323.6 88.6h1v1h-1zM327.2 58.6h1v1h-1zM318.8 61.5h1v1h-1zM325.5 59.5h1v1h-1zM321.3 88.1h1v1h-1zM333.9 69.0h1v1h-1zM315.4 63.1h1v1h-1zM325.2 59.1h1v1h-1zM322.4 60.6h1v1h-1zM331.3 84.3h1v1h-1zM328.2 86.3h1v1h-1zM325.5 87.2h1v1h-1zM316.7 87.5h1v1h-1zM316.0 83.1h1v1h-1zM333.5 65.7h1v1h-1zM333.1 78.9h1v1h-1zM332.2 64.8h1v1h-1zM319.7 60.1h1v1h-1zM327.2 59.4h1v1h-1zM335.6 68.8h1v1h-1z" fill="#2a2a2a" fill-opacity="0.7"/>
<path d="" fill="#555" fill-opacity="0.55"/>

</g>
<path d="M362.25 84.33 L361.75 84.46 L361.25 84.49 L360.75 84.37 L360.50 84.23 L360.22 84.00 L360.00 83.72 L359.78 83.25 L359.70 83.00 L359.62 82.50 L359.60 82.00 L359.64 81.50 L359.72 81.00 L359.78 80.75 L359.93 80.25 L360.02 80.00 L360.23 79.50 L360.36 79.25 L360.50 78.98 L360.75 78.58 L360.98 78.25 L361.17 78.00 L361.39 77.75 L361.63 77.50 L361.90 77.25 L362.20 77.00 L362.50 76.80 L362.75 76.65 L363.08 76.50 L363.50 76.36 L364.00 76.31 L364.50 76.38 L364.78 76.50 L365.12 76.75 L365.34 77.00 L365.50 77.26 L365.68 77.75 L365.75 78.05 L365.80 78.50 L365.79 79.00 L365.75 79.39 L365.69 79.75 L365.57 80.25 L365.49 80.50 L365.30 81.00 L365.19 81.25 L365.00 81.63 L364.79 82.00 L364.63 82.25 L364.46 82.50 L364.25 82.77 L364.00 83.06 L363.75 83.32 L363.50 83.56 L363.25 83.76 L362.90 84.00 L362.50 84.22 L362.25 84.33 M361.75 86.06 L361.25 86.17 L360.75 86.19 L360.25 86.11 L359.93 86.00 L359.50 85.76 L359.25 85.55 L359.00 85.26 L358.83 85.00 L358.70 84.75 L358.51 84.25 L358.44 84.00 L358.35 83.50 L358.31 83.00 L358.32 82.50 L358.36 82.00 L358.44 81.50 L358.50 81.19 L358.61 80.75 L358.75 80.28 L358.85 80.00 L359.00 79.61 L359.15 79.25 L359.27 79.00 L359.50 78.56 L359.67 78.25 L359.83 78.00 L360.00 77.73 L360.25 77.38 L360.50 77.05 L360.75 76.76 L360.98 76.50 L361.23 76.25 L361.50 76.00 L361.75 75.78 L362.00 75.59 L362.25 75.41 L362.50 75.25 L362.97 75.00 L363.25 74.87 L363.62 74.75 L364.00 74.66 L364.50 74.61 L365.00 74.65 L365.35 74.75 L365.75 74.94 L366.00 75.12 L366.25 75.36 L366.50 75.68 L366.68 76.00 L366.79 76.25 L366.95 76.75 L367.00 77.00 L367.07 77.50 L367.09 78.00 L367.07 78.50 L367.01 79.00 L366.97 79.25 L366.87 79.75 L366.75 80.20 L366.66 80.50 L366.50 80.94 L366.38 81.25 L366.25 81.54 L366.03 82.00 L365.90 82.25 L365.75 82.51 L365.50 82.91 L365.27 83.25 L365.09 83.50 L364.90 83.75 L364.69 84.00 L364.46 84.25 L364.22 84.50 L363.96 84.75 L363.67 85.00 L363.35 85.25 L363.00 85.49 L362.75 85.64 L362.50 85.77 L362.00 85.98 L361.75 86.06 M361.75 87.27 L361.25 87.41 L360.75 87.48 L360.25 87.48 L359.75 87.41 L359.28 87.25 L359.00 87.11 L358.75 86.94 L358.50 86.73 L358.25 86.46 L358.00 86.11 L357.81 85.75 L357.70 85.50 L357.53 85.00 L357.47 84.75 L357.38 84.25 L357.34 83.75 L357.33 83.25 L357.35 82.75 L357.40 82.25 L357.48 81.75 L357.53 81.50 L357.64 81.00 L357.75 80.61 L357.86 80.25 L358.00 79.86 L358.14 79.50 L358.25 79.23 L358.47 78.75 L358.59 78.50 L358.75 78.20 L359.00 77.76 L359.16 77.50 L359.32 77.25 L359.50 76.98 L359.75 76.63 L360.00 76.31 L360.25 76.01 L360.48 75.75 L360.71 75.50 L360.97 75.25 L361.24 75.00 L361.50 74.77 L361.75 74.58 L362.00 74.39 L362.25 74.22 L362.62 74.00 L363.00 73.80 L363.25 73.68 L363.75 73.50 L364.00 73.43 L364.50 73.34 L365.00 73.31 L365.50 73.36 L366.00 73.50 L366.25 73.61 L366.50 73.75 L366.82 74.00 L367.07 74.25 L367.27 74.50 L367.50 74.87 L367.68 75.25 L367.78 75.50 L367.92 76.00 L368.00 76.43 L368.04 76.75 L368.07 77.25 L368.07 77.75 L368.03 78.25 L368.00 78.55 L367.93 79.00 L367.83 79.50 L367.75 79.83 L367.63 80.25 L367.50 80.66 L367.38 81.00 L367.25 81.33 L367.07 81.75 L366.96 82.00 L366.75 82.41 L366.57 82.75 L366.43 83.00 L366.25 83.29 L366.00 83.68 L365.77 84.00 L365.59 84.25 L365.39 84.50 L365.19 84.75 L364.97 85.00 L364.73 85.25 L364.48 85.50 L364.22 85.75 L363.93 86.00 L363.61 86.25 L363.27 86.50 L363.00 86.67 L362.75 86.82 L362.40 87.00 L362.00 87.18 L361.75 87.27 M360.75 88.54 L360.25 88.59 L359.75 88.57 L359.33 88.50 L359.00 88.41 L358.62 88.25 L358.25 88.03 L358.00 87.84 L357.75 87.61 L357.50 87.32 L357.28 87.00 L357.13 86.75 L357.00 86.47 L356.82 86.00 L356.74 85.75 L356.62 85.25 L356.55 84.75 L356.51 84.25 L356.50 84.00 L356.50 83.52 L356.51 83.25 L356.55 82.75 L356.62 82.25 L356.71 81.75 L356.76 81.50 L356.88 81.00 L357.00 80.59 L357.10 80.25 L357.25 79.84 L357.37 79.50 L357.50 79.20 L357.69 78.75 L357.81 78.50 L358.00 78.12 L358.20 77.75 L358.34 77.50 L358.50 77.23 L358.75 76.83 L358.97 76.50 L359.14 76.25 L359.33 76.00 L359.52 75.75 L359.75 75.47 L360.00 75.18 L360.25 74.91 L360.50 74.65 L360.75 74.40 L361.00 74.17 L361.25 73.96 L361.51 73.75 L361.84 73.50 L362.21 73.25 L362.50 73.07 L362.75 72.93 L363.11 72.75 L363.50 72.58 L363.75 72.49 L364.25 72.34 L364.73 72.25 L365.00 72.22 L365.50 72.22 L365.80 72.25 L366.25 72.34 L366.67 72.50 L367.00 72.67 L367.25 72.84 L367.50 73.04 L367.75 73.30 L368.00 73.62 L368.24 74.00 L368.37 74.25 L368.50 74.57 L368.65 75.00 L368.75 75.43 L368.81 75.75 L368.87 76.25 L368.90 76.75 L368.90 77.25 L368.88 77.75 L368.82 78.25 L368.75 78.73 L368.70 79.00 L368.59 79.50 L368.50 79.86 L368.39 80.25 L368.25 80.68 L368.14 81.00 L368.00 81.36 L367.84 81.75 L367.73 82.00 L367.50 82.48 L367.37 82.75 L367.23 83.00 L367.00 83.40 L366.79 83.75 L366.63 84.00 L366.46 84.25 L366.25 84.56 L366.00 84.89 L365.75 85.21 L365.50 85.50 L365.28 85.75 L365.05 86.00 L364.80 86.25 L364.54 86.50 L364.26 86.75 L364.00 86.97 L363.75 87.16 L363.50 87.34 L363.25 87.51 L362.87 87.75 L362.50 87.95 L362.25 88.07 L361.82 88.25 L361.50 88.37 L361.00 88.49 L360.75 88.54 M360.50 89.50 L360.00 89.55 L359.50 89.54 L359.15 89.50 L358.75 89.41 L358.30 89.25 L358.00 89.11 L357.75 88.95 L357.48 88.75 L357.21 88.50 L356.98 88.25 L356.75 87.95 L356.50 87.54 L356.35 87.25 L356.25 87.00 L356.07 86.50 L356.00 86.24 L355.89 85.75 L355.82 85.25 L355.78 84.75 L355.76 84.25 L355.77 83.75 L355.80 83.25 L355.86 82.75 L355.94 82.25 L356.00 81.93 L356.09 81.50 L356.22 81.00 L356.29 80.75 L356.44 80.25 L356.52 80.00 L356.71 79.50 L356.80 79.25 L357.00 78.79 L357.13 78.50 L357.25 78.25 L357.50 77.75 L357.63 77.50 L357.77 77.25 L358.00 76.86 L358.22 76.50 L358.38 76.25 L358.56 76.00 L358.75 75.73 L359.00 75.39 L359.25 75.07 L359.50 74.77 L359.74 74.50 L359.97 74.25 L360.21 74.00 L360.46 73.75 L360.73 73.50 L361.00 73.26 L361.25 73.06 L361.50 72.86 L361.75 72.68 L362.01 72.50 L362.40 72.25 L362.75 72.05 L363.00 71.92 L363.37 71.75 L363.75 71.59 L364.03 71.50 L364.50 71.37 L365.00 71.28 L365.43 71.25 L365.75 71.25 L366.00 71.27 L366.50 71.35 L366.98 71.50 L367.25 71.62 L367.50 71.75 L367.86 72.00 L368.14 72.25 L368.38 72.50 L368.58 72.75 L368.75 73.00 L369.00 73.45 L369.13 73.75 L369.25 74.06 L369.39 74.50 L369.50 75.00 L369.54 75.25 L369.60 75.75 L369.63 76.25 L369.64 76.75 L369.62 77.25 L369.58 77.75 L369.51 78.25 L369.47 78.50 L369.38 79.00 L369.26 79.50 L369.20 79.75 L369.06 80.25 L368.98 80.50 L368.81 81.00 L368.71 81.25 L368.51 81.75 L368.41 82.00 L368.25 82.34 L368.06 82.75 L367.93 83.00 L367.75 83.33 L367.51 83.75 L367.37 84.00 L367.21 84.25 L367.00 84.57 L366.75 84.93 L366.52 85.25 L366.33 85.50 L366.13 85.75 L365.92 86.00 L365.71 86.25 L365.48 86.50 L365.24 86.75 L364.99 87.00 L364.72 87.25 L364.44 87.50 L364.14 87.75 L363.82 88.00 L363.50 88.23 L363.25 88.40 L363.00 88.55 L362.65 88.75 L362.25 88.95 L362.00 89.07 L361.52 89.25 L361.25 89.34 L360.75 89.46 L360.50 89.50 M360.75 90.28 L360.25 90.38 L359.75 90.43 L359.25 90.42 L358.75 90.36 L358.30 90.25 L358.00 90.15 L357.68 90.00 L357.25 89.75 L357.00 89.56 L356.75 89.34 L356.50 89.08 L356.25 88.77 L356.07 88.50 L355.92 88.25 L355.75 87.91 L355.58 87.50 L355.49 87.25 L355.35 86.75 L355.25 86.29 L355.20 86.00 L355.14 85.50 L355.11 85.00 L355.10 84.50 L355.11 84.00 L355.15 83.50 L355.20 83.00 L355.25 82.70 L355.32 82.25 L355.42 81.75 L355.50 81.44 L355.61 81.00 L355.75 80.53 L355.84 80.25 L356.00 79.78 L356.10 79.50 L356.25 79.12 L356.40 78.75 L356.51 78.50 L356.75 78.00 L356.87 77.75 L357.00 77.50 L357.25 77.04 L357.41 76.75 L357.56 76.50 L357.75 76.20 L358.00 75.82 L358.22 75.50 L358.39 75.25 L358.58 75.00 L358.77 74.75 L359.00 74.47 L359.25 74.17 L359.50 73.89 L359.75 73.62 L360.00 73.36 L360.25 73.11 L360.50 72.88 L360.75 72.66 L361.00 72.45 L361.25 72.25 L361.58 72.00 L361.93 71.75 L362.25 71.54 L362.50 71.39 L362.76 71.25 L363.25 71.00 L363.50 70.89 L363.87 70.75 L364.25 70.62 L364.73 70.50 L365.00 70.44 L365.50 70.38 L366.00 70.37 L366.50 70.41 L366.92 70.50 L367.25 70.60 L367.62 70.75 L368.00 70.95 L368.25 71.12 L368.50 71.32 L368.75 71.56 L369.00 71.84 L369.25 72.18 L369.45 72.50 L369.58 72.75 L369.75 73.12 L369.89 73.50 L370.00 73.86 L370.10 74.25 L370.19 74.75 L370.25 75.22 L370.28 75.50 L370.30 76.00 L370.30 76.50 L370.27 77.00 L370.25 77.29 L370.20 77.75 L370.13 78.25 L370.04 78.75 L369.98 79.00 L369.87 79.50 L369.75 79.93 L369.66 80.25 L369.50 80.73 L369.41 81.00 L369.25 81.42 L369.12 81.75 L369.00 82.04 L368.80 82.50 L368.68 82.75 L368.50 83.11 L368.29 83.50 L368.16 83.75 L368.00 84.02 L367.75 84.44 L367.55 84.75 L367.39 85.00 L367.22 85.25 L367.00 85.56 L366.75 85.89 L366.50 86.21 L366.26 86.50 L366.05 86.75 L365.82 87.00 L365.59 87.25 L365.34 87.50 L365.08 87.75 L364.81 88.00 L364.52 88.25 L364.25 88.47 L364.00 88.67 L363.75 88.86 L363.50 89.03 L363.16 89.25 L362.75 89.49 L362.50 89.63 L362.25 89.75 L361.75 89.97 L361.50 90.06 L361.00 90.22 L360.75 90.28 M360.75 91.04 L360.25 91.15 L359.75 91.21 L359.25 91.23 L358.75 91.20 L358.25 91.12 L357.82 91.00 L357.50 90.88 L357.23 90.75 L356.82 90.50 L356.50 90.26 L356.25 90.04 L356.00 89.77 L355.78 89.50 L355.60 89.25 L355.45 89.00 L355.25 88.63 L355.08 88.25 L354.98 88.00 L354.82 87.50 L354.75 87.22 L354.65 86.75 L354.57 86.25 L354.52 85.75 L354.50 85.33 L354.49 85.00 L354.50 84.50 L354.51 84.25 L354.54 83.75 L354.60 83.25 L354.67 82.75 L354.75 82.32 L354.81 82.00 L354.92 81.50 L355.00 81.22 L355.13 80.75 L355.25 80.36 L355.36 80.00 L355.50 79.63 L355.64 79.25 L355.75 78.98 L355.95 78.50 L356.06 78.25 L356.25 77.85 L356.42 77.50 L356.55 77.25 L356.75 76.88 L356.97 76.50 L357.11 76.25 L357.27 76.00 L357.50 75.64 L357.75 75.26 L357.93 75.00 L358.11 74.75 L358.30 74.50 L358.50 74.25 L358.75 73.94 L359.00 73.64 L359.25 73.36 L359.50 73.09 L359.75 72.83 L360.00 72.58 L360.25 72.34 L360.50 72.12 L360.75 71.90 L361.00 71.70 L361.26 71.50 L361.59 71.25 L361.96 71.00 L362.25 70.81 L362.50 70.66 L362.80 70.50 L363.25 70.27 L363.50 70.16 L363.90 70.00 L364.25 69.87 L364.70 69.75 L365.00 69.68 L365.50 69.60 L366.00 69.57 L366.50 69.58 L367.00 69.65 L367.42 69.75 L367.75 69.86 L368.07 70.00 L368.50 70.24 L368.75 70.42 L369.00 70.62 L369.25 70.86 L369.50 71.15 L369.75 71.48 L369.92 71.75 L370.06 72.00 L370.25 72.39 L370.40 72.75 L370.50 73.05 L370.63 73.50 L370.74 74.00 L370.79 74.25 L370.85 74.75 L370.89 75.25 L370.91 75.75 L370.91 76.25 L370.88 76.75 L370.84 77.25 L370.77 77.75 L370.74 78.00 L370.65 78.50 L370.54 79.00 L370.48 79.25 L370.36 79.75 L370.25 80.12 L370.14 80.50 L370.00 80.89 L369.88 81.25 L369.75 81.57 L369.58 82.00 L369.47 82.25 L369.25 82.74 L369.13 83.00 L369.00 83.25 L368.75 83.73 L368.61 84.00 L368.46 84.25 L368.25 84.61 L368.01 85.00 L367.85 85.25 L367.68 85.50 L367.50 85.75 L367.25 86.10 L367.00 86.43 L366.75 86.74 L366.54 87.00 L366.32 87.25 L366.10 87.50 L365.86 87.75 L365.62 88.00 L365.37 88.25 L365.10 88.50 L364.82 88.75 L364.52 89.00 L364.25 89.22 L364.00 89.41 L363.75 89.59 L363.50 89.76 L363.13 90.00 L362.75 90.22 L362.50 90.36 L362.21 90.50 L361.75 90.71 L361.50 90.80 L361.00 90.97 L360.75 91.04 M360.50 91.80 L360.00 91.90 L359.50 91.96 L359.00 91.98 L358.50 91.95 L358.00 91.88 L357.54 91.75 L357.25 91.65 L356.93 91.50 L356.50 91.26 L356.25 91.08 L356.00 90.88 L355.75 90.65 L355.50 90.38 L355.25 90.06 L355.04 89.75 L354.89 89.50 L354.75 89.22 L354.54 88.75 L354.44 88.50 L354.28 88.00 L354.21 87.75 L354.10 87.25 L354.02 86.75 L353.99 86.50 L353.95 86.00 L353.92 85.50 L353.92 85.00 L353.94 84.50 L353.98 84.00 L354.01 83.75 L354.06 83.25 L354.14 82.75 L354.24 82.25 L354.29 82.00 L354.41 81.50 L354.50 81.16 L354.61 80.75 L354.75 80.31 L354.85 80.00 L355.00 79.58 L355.12 79.25 L355.25 78.93 L355.43 78.50 L355.54 78.25 L355.75 77.79 L355.89 77.50 L356.02 77.25 L356.25 76.80 L356.41 76.50 L356.56 76.25 L356.75 75.93 L357.00 75.53 L357.18 75.25 L357.34 75.00 L357.52 74.75 L357.75 74.42 L358.00 74.09 L358.25 73.77 L358.47 73.50 L358.68 73.25 L358.90 73.00 L359.12 72.75 L359.36 72.50 L359.60 72.25 L359.86 72.00 L360.12 71.75 L360.40 71.50 L360.70 71.25 L361.00 71.01 L361.25 70.81 L361.50 70.63 L361.75 70.45 L362.06 70.25 L362.47 70.00 L362.75 69.84 L363.00 69.71 L363.45 69.50 L363.75 69.37 L364.07 69.25 L364.50 69.10 L364.90 69.00 L365.25 68.92 L365.75 68.85 L366.25 68.82 L366.75 68.83 L367.25 68.90 L367.69 69.00 L368.00 69.09 L368.37 69.25 L368.75 69.45 L369.00 69.61 L369.25 69.79 L369.50 70.01 L369.75 70.26 L370.00 70.55 L370.25 70.89 L370.48 71.25 L370.61 71.50 L370.75 71.79 L370.94 72.25 L371.03 72.50 L371.17 73.00 L371.25 73.34 L371.33 73.75 L371.40 74.25 L371.45 74.75 L371.47 75.25 L371.48 75.75 L371.46 76.25 L371.43 76.75 L371.38 77.25 L371.31 77.75 L371.25 78.07 L371.17 78.50 L371.07 79.00 L371.00 79.26 L370.88 79.75 L370.75 80.17 L370.65 80.50 L370.50 80.94 L370.39 81.25 L370.25 81.62 L370.10 82.00 L369.99 82.25 L369.77 82.75 L369.66 83.00 L369.50 83.32 L369.28 83.75 L369.15 84.00 L369.00 84.27 L368.75 84.70 L368.57 85.00 L368.42 85.25 L368.25 85.51 L368.00 85.88 L367.75 86.24 L367.56 86.50 L367.37 86.75 L367.18 87.00 L366.97 87.25 L366.75 87.51 L366.50 87.80 L366.25 88.08 L366.00 88.34 L365.75 88.60 L365.50 88.84 L365.25 89.08 L365.00 89.30 L364.75 89.51 L364.46 89.75 L364.13 90.00 L363.79 90.25 L363.50 90.45 L363.25 90.61 L363.00 90.76 L362.57 91.00 L362.25 91.16 L362.00 91.28 L361.50 91.49 L361.25 91.58 L360.75 91.74 L360.50 91.80 M360.25 92.52 L359.75 92.62 L359.25 92.67 L358.75 92.68 L358.25 92.66 L357.75 92.58 L357.43 92.50 L357.00 92.36 L356.74 92.25 L356.26 92.00 L356.00 91.83 L355.75 91.65 L355.50 91.43 L355.25 91.19 L355.00 90.91 L354.75 90.58 L354.54 90.25 L354.39 90.00 L354.25 89.72 L354.04 89.25 L353.94 89.00 L353.78 88.50 L353.71 88.25 L353.60 87.75 L353.51 87.25 L353.48 87.00 L353.43 86.50 L353.40 86.00 L353.39 85.50 L353.40 85.00 L353.43 84.50 L353.47 84.00 L353.50 83.75 L353.57 83.25 L353.65 82.75 L353.75 82.25 L353.80 82.00 L353.92 81.50 L354.00 81.21 L354.13 80.75 L354.25 80.36 L354.36 80.00 L354.50 79.62 L354.63 79.25 L354.75 78.96 L354.94 78.50 L355.04 78.25 L355.25 77.80 L355.39 77.50 L355.51 77.25 L355.75 76.79 L355.90 76.50 L356.04 76.25 L356.25 75.89 L356.49 75.50 L356.64 75.25 L356.80 75.00 L357.00 74.70 L357.25 74.34 L357.50 74.00 L357.68 73.75 L357.87 73.50 L358.07 73.25 L358.28 73.00 L358.50 72.74 L358.75 72.46 L359.00 72.18 L359.25 71.92 L359.50 71.67 L359.75 71.43 L360.00 71.19 L360.25 70.97 L360.51 70.75 L360.81 70.50 L361.14 70.25 L361.48 70.00 L361.75 69.81 L362.00 69.65 L362.25 69.49 L362.67 69.25 L363.00 69.07 L363.25 68.95 L363.70 68.75 L364.00 68.62 L364.36 68.50 L364.75 68.38 L365.25 68.26 L365.50 68.21 L366.00 68.14 L366.50 68.12 L367.00 68.13 L367.50 68.19 L367.77 68.25 L368.25 68.38 L368.55 68.50 L369.00 68.72 L369.25 68.87 L369.50 69.04 L369.77 69.25 L370.04 69.50 L370.28 69.75 L370.50 70.02 L370.75 70.37 L370.98 70.75 L371.12 71.00 L371.25 71.29 L371.44 71.75 L371.53 72.00 L371.68 72.50 L371.75 72.82 L371.84 73.25 L371.92 73.75 L371.97 74.25 L372.00 74.75 L372.00 75.00 L372.01 75.50 L372.00 75.75 L371.98 76.25 L371.94 76.75 L371.88 77.25 L371.80 77.75 L371.75 78.03 L371.66 78.50 L371.55 79.00 L371.49 79.25 L371.36 79.75 L371.25 80.11 L371.14 80.50 L371.00 80.89 L370.88 81.25 L370.75 81.58 L370.59 82.00 L370.48 82.25 L370.27 82.75 L370.15 83.00 L370.00 83.32 L369.79 83.75 L369.66 84.00 L369.50 84.29 L369.25 84.73 L369.10 85.00 L368.95 85.25 L368.75 85.56 L368.50 85.95 L368.30 86.25 L368.12 86.50 L367.94 86.75 L367.75 87.00 L367.50 87.33 L367.25 87.64 L367.00 87.94 L366.75 88.23 L366.50 88.50 L366.27 88.75 L366.03 89.00 L365.78 89.25 L365.51 89.50 L365.25 89.74 L365.00 89.96 L364.75 90.17 L364.50 90.37 L364.25 90.56 L363.99 90.75 L363.63 91.00 L363.25 91.24 L363.00 91.40 L362.75 91.54 L362.35 91.75 L362.00 91.92 L361.75 92.03 L361.25 92.23 L361.00 92.32 L360.50 92.46 L360.25 92.52 M359.50 93.29 L359.00 93.34 L358.50 93.35 L358.00 93.32 L357.57 93.25 L357.25 93.18 L356.75 93.03 L356.50 92.93 L356.13 92.75 L355.75 92.53 L355.50 92.35 L355.25 92.15 L355.00 91.93 L354.75 91.67 L354.50 91.37 L354.25 91.02 L354.07 90.75 L353.93 90.50 L353.75 90.14 L353.58 89.75 L353.48 89.50 L353.32 89.00 L353.25 88.75 L353.13 88.25 L353.04 87.75 L353.00 87.49 L352.94 87.00 L352.90 86.50 L352.89 86.00 L352.89 85.50 L352.91 85.00 L352.94 84.50 L353.00 84.00 L353.02 83.75 L353.09 83.25 L353.18 82.75 L353.25 82.43 L353.34 82.00 L353.46 81.50 L353.53 81.25 L353.67 80.75 L353.75 80.50 L353.91 80.00 L354.00 79.74 L354.17 79.25 L354.27 79.00 L354.47 78.50 L354.58 78.25 L354.75 77.87 L354.92 77.50 L355.04 77.25 L355.25 76.83 L355.42 76.50 L355.56 76.25 L355.75 75.91 L355.99 75.50 L356.14 75.25 L356.29 75.00 L356.50 74.68 L356.75 74.31 L356.96 74.00 L357.14 73.75 L357.33 73.50 L357.52 73.25 L357.75 72.96 L358.00 72.65 L358.25 72.35 L358.50 72.07 L358.75 71.79 L359.00 71.53 L359.25 71.28 L359.50 71.03 L359.75 70.79 L360.00 70.56 L360.25 70.34 L360.50 70.13 L360.75 69.93 L361.00 69.74 L361.33 69.50 L361.68 69.25 L362.00 69.04 L362.25 68.88 L362.50 68.74 L362.94 68.50 L363.25 68.34 L363.50 68.23 L364.00 68.02 L364.25 67.92 L364.75 67.76 L365.00 67.69 L365.50 67.58 L366.00 67.50 L366.25 67.48 L366.75 67.45 L367.25 67.47 L367.52 67.50 L368.00 67.58 L368.50 67.72 L368.75 67.81 L369.18 68.00 L369.50 68.18 L369.75 68.34 L370.00 68.52 L370.27 68.75 L370.52 69.00 L370.75 69.25 L371.00 69.56 L371.25 69.93 L371.44 70.25 L371.57 70.50 L371.75 70.88 L371.90 71.25 L372.00 71.54 L372.14 72.00 L372.25 72.46 L372.31 72.75 L372.40 73.25 L372.45 73.75 L372.49 74.25 L372.50 74.50 L372.51 75.00 L372.50 75.50 L372.49 75.75 L372.46 76.25 L372.41 76.75 L372.35 77.25 L372.27 77.75 L372.22 78.00 L372.13 78.50 L372.01 79.00 L371.95 79.25 L371.82 79.75 L371.74 80.00 L371.59 80.50 L371.50 80.77 L371.34 81.25 L371.24 81.50 L371.05 82.00 L370.95 82.25 L370.75 82.71 L370.62 83.00 L370.50 83.25 L370.26 83.75 L370.14 84.00 L370.00 84.25 L369.75 84.71 L369.59 85.00 L369.44 85.25 L369.25 85.57 L369.00 85.96 L368.81 86.25 L368.65 86.50 L368.47 86.75 L368.25 87.06 L368.00 87.40 L367.75 87.72 L367.52 88.00 L367.32 88.25 L367.11 88.50 L366.89 88.75 L366.66 89.00 L366.42 89.25 L366.18 89.50 L365.92 89.75 L365.66 90.00 L365.38 90.25 L365.10 90.50 L364.79 90.75 L364.50 90.98 L364.25 91.17 L364.00 91.36 L363.75 91.53 L363.41 91.75 L363.00 92.00 L362.75 92.15 L362.50 92.28 L362.05 92.50 L361.75 92.64 L361.48 92.75 L361.00 92.93 L360.75 93.01 L360.25 93.15 L359.75 93.25 L359.50 93.29 M360.00 93.80 L359.50 93.90 L359.00 93.95 L358.50 93.98 L358.00 93.97 L357.50 93.91 L357.00 93.81 L356.75 93.74 L356.25 93.57 L356.00 93.45 L355.62 93.25 L355.25 93.01 L355.00 92.82 L354.75 92.61 L354.50 92.37 L354.25 92.09 L354.00 91.77 L353.81 91.50 L353.65 91.25 L353.50 90.98 L353.26 90.50 L353.15 90.25 L353.00 89.85 L352.88 89.50 L352.75 89.01 L352.68 88.75 L352.59 88.25 L352.51 87.75 L352.48 87.50 L352.44 87.00 L352.41 86.50 L352.41 86.00 L352.42 85.50 L352.44 85.00 L352.49 84.50 L352.51 84.25 L352.57 83.75 L352.65 83.25 L352.74 82.75 L352.79 82.50 L352.90 82.00 L353.00 81.61 L353.09 81.25 L353.24 80.75 L353.31 80.50 L353.47 80.00 L353.56 79.75 L353.74 79.25 L353.83 79.00 L354.00 78.59 L354.14 78.25 L354.25 78.00 L354.47 77.50 L354.59 77.25 L354.75 76.93 L354.97 76.50 L355.10 76.25 L355.25 75.98 L355.50 75.54 L355.66 75.25 L355.82 75.00 L356.00 74.71 L356.25 74.32 L356.47 74.00 L356.64 73.75 L356.82 73.50 L357.00 73.25 L357.25 72.92 L357.50 72.60 L357.75 72.30 L358.00 72.00 L358.22 71.75 L358.44 71.50 L358.67 71.25 L358.91 71.00 L359.16 70.75 L359.42 70.50 L359.69 70.25 L359.97 70.00 L360.25 69.76 L360.50 69.55 L360.75 69.35 L361.00 69.15 L361.25 68.97 L361.57 68.75 L361.95 68.50 L362.25 68.31 L362.50 68.16 L362.80 68.00 L363.25 67.77 L363.50 67.65 L363.85 67.50 L364.25 67.34 L364.52 67.25 L365.00 67.10 L365.42 67.00 L365.75 66.93 L366.25 66.86 L366.75 66.82 L367.25 66.82 L367.75 66.87 L368.25 66.95 L368.50 67.02 L369.00 67.18 L369.25 67.28 L369.69 67.50 L370.00 67.69 L370.25 67.86 L370.50 68.06 L370.75 68.29 L371.00 68.54 L371.25 68.83 L371.50 69.17 L371.72 69.50 L371.87 69.75 L372.00 70.01 L372.23 70.50 L372.33 70.75 L372.50 71.25 L372.58 71.50 L372.70 72.00 L372.75 72.25 L372.85 72.75 L372.91 73.25 L372.96 73.75 L372.98 74.25 L372.99 74.75 L372.98 75.25 L372.96 75.75 L372.92 76.25 L372.87 76.75 L372.80 77.25 L372.75 77.53 L372.67 78.00 L372.57 78.50 L372.50 78.78 L372.39 79.25 L372.25 79.75 L372.18 80.00 L372.03 80.50 L371.95 80.75 L371.77 81.25 L371.68 81.50 L371.50 81.96 L371.39 82.25 L371.25 82.57 L371.07 83.00 L370.95 83.25 L370.75 83.67 L370.59 84.00 L370.46 84.25 L370.25 84.64 L370.05 85.00 L369.91 85.25 L369.75 85.52 L369.50 85.93 L369.30 86.25 L369.14 86.50 L368.97 86.75 L368.75 87.06 L368.50 87.41 L368.25 87.75 L368.06 88.00 L367.86 88.25 L367.66 88.50 L367.45 88.75 L367.23 89.00 L367.00 89.25 L366.75 89.52 L366.50 89.79 L366.25 90.04 L366.00 90.28 L365.75 90.51 L365.49 90.75 L365.20 91.00 L364.90 91.25 L364.59 91.50 L364.25 91.75 L364.00 91.94 L363.75 92.11 L363.50 92.27 L363.13 92.50 L362.75 92.72 L362.50 92.86 L362.21 93.00 L361.75 93.22 L361.50 93.32 L361.03 93.50 L360.75 93.60 L360.25 93.74 L360.00 93.80" fill="none" stroke="#000" stroke-width="0.85"/>
<path d="M315.2 70 C315.2 63 318 60.6 324.2 60.6 C330.4 60.6 333.4 63 333.4 70 L333 78 C332.5 84 329.5 86.2 324.2 86.2 C319 86.2 315.8 84 315.4 78 Z" fill="#6a6a6a" stroke="#222" stroke-width="0.8"/>
<ellipse cx="324.75" cy="74.25" rx="6.9" ry="9.9" fill="#fff"/>
<ellipse cx="325.1" cy="69.75" rx="1.6" ry="2.25" fill="none" stroke="#000" stroke-width="0.8"/>
<ellipse cx="325.25" cy="70.75" rx="3.75" ry="4.75" fill="none" stroke="#000" stroke-width="0.8"/>
<ellipse cx="325.25" cy="72" rx="5.25" ry="6.5" fill="none" stroke="#000" stroke-width="0.8"/>
<ellipse cx="325" cy="73.25" rx="6" ry="8.25" fill="none" stroke="#000" stroke-width="0.8"/>
<ellipse cx="324.75" cy="74.25" rx="6.75" ry="9.75" fill="none" stroke="#000" stroke-width="0.8"/>
<text transform="translate(382.30,95.9) scale(0.95,1)" font-size="8.6" fill="#2a2a2a">59.3</text>
<path d="M442.5 151.5V43.5H550.5V151.5" fill="none" stroke="#777" stroke-width="1.1"/>
<path d="M442.5 151.5H550.5" fill="none" stroke="#aaa" stroke-width="1.1"/>
<path d="M442.5 151.5V43.5" fill="none" stroke="#555" stroke-width="1"/>
<rect x="481.5" y="49.5" width="31" height="66.8" fill="none" stroke="#6a6a6a" stroke-width="1.1"/>
<path d="M439.1 56.6H442.5 M439.1 88.6H442.5 M439.1 119.6H442.5 M439.1 151.1H442.5 M440.5 109.8H442.5 M440.5 121.5H442.5 M440.5 123.5H442.5 M440.5 125.5H442.5 M440.5 127.5H442.5 M440.5 129.6H442.5 M440.5 136.1H442.5 M440.5 142.2H442.5 M440.5 79.0H442.5 M440.5 73.3H442.5 M440.5 69.3H442.5 M440.5 66.2H442.5 M440.5 63.7H442.5 M440.5 61.6H442.5 M440.5 59.7H442.5 M440.5 58.1H442.5 M440.5 110.3H442.5 M440.5 104.8H442.5 M440.5 100.9H442.5 M440.5 97.9H442.5 M440.5 95.5H442.5 M440.5 93.4H442.5 M440.5 91.6H442.5 M440.5 90.0H442.5" stroke="#333" stroke-width="0.9" fill="none"/>
<path d="M444.3 151.5V154.1 M447.8 151.5V154.1 M450.0 151.5V154.1 M457.8 151.5V154.1 M460.0 151.5V154.1 M464.4 151.5V154.1" stroke="#222" stroke-width="1" fill="none"/>
<rect x="453.1" y="151.5" width="2.6" height="2.6" fill="#111"/>
<path d="M489.8 151.5V154.3 M515.2 151.5V154.3 M540.0 151.5V154.3 M497.4 151.5V153.3 M501.9 151.5V153.3 M505.1 151.5V153.3 M507.6 151.5V153.3 M509.6 151.5V153.3 M511.3 151.5V153.3 M512.7 151.5V153.3 M514.0 151.5V153.3 M522.8 151.5V153.3 M527.3 151.5V153.3 M530.5 151.5V153.3 M533.0 151.5V153.3 M535.0 151.5V153.3 M536.7 151.5V153.3 M538.1 151.5V153.3 M539.4 151.5V153.3 M471.4 151.5V153.3 M475.8 151.5V153.3 M479.3 151.5V153.3 M482.0 151.5V153.3 M484.5 151.5V153.3 M486.7 151.5V153.3 M488.3 151.5V153.3" stroke="#555" stroke-width="0.9" fill="none"/>
<g font-size="10.2" fill="#1a1a1a">
<text transform="translate(420.70,65.20) scale(0.93,1)">10</text><text transform="translate(431.10,57.40) scale(0.93,1)">5</text>
<text transform="translate(420.70,97.20) scale(0.93,1)">10</text><text transform="translate(431.10,89.40) scale(0.93,1)">4</text>
<text transform="translate(420.70,128.20) scale(0.93,1)">10</text><text transform="translate(431.10,120.40) scale(0.93,1)">3</text>
<text transform="translate(420.70,151.00) scale(0.93,1)">10</text><text transform="translate(431.10,143.20) scale(0.93,1)">2</text>
<text transform="translate(452.40,170.60) scale(0.93,1)">0</text>
<text transform="translate(486.90,170.20) scale(0.93,1)">10</text><text transform="translate(497.50,162.90) scale(0.93,1)">3</text>
<text transform="translate(512.30,170.20) scale(0.93,1)">10</text><text transform="translate(522.90,162.90) scale(0.93,1)">4</text>
<text transform="translate(535.10,170.20) scale(0.93,1)">10</text><text transform="translate(545.70,162.90) scale(0.93,1)">5</text>
</g>
<g filter="url(#bl)">
<path d="M460.4 91.5h1v1h-1zM458.9 77.2h1v1h-1zM460.3 96.3h1v1h-1zM452.7 87.7h1v1h-1zM459.9 83.7h1v1h-1zM457.9 82.5h1v1h-1zM464.8 88.0h1v1h-1zM455.0 93.8h1v1h-1zM453.6 88.4h1v1h-1zM460.7 91.6h1v1h-1zM461.5 90.8h1v1h-1zM459.7 90.3h1v1h-1zM461.5 97.3h1v1h-1zM456.5 91.6h1v1h-1zM462.1 85.5h1v1h-1zM457.1 87.1h1v1h-1zM452.8 76.2h1v1h-1zM463.3 75.1h1v1h-1zM466.7 82.8h1v1h-1zM461.1 84.9h1v1h-1zM461.9 82.8h1v1h-1zM458.1 83.7h1v1h-1zM464.9 91.3h1v1h-1zM466.0 86.6h1v1h-1zM462.9 89.5h1v1h-1zM457.9 89.3h1v1h-1zM466.1 85.0h1v1h-1zM464.9 86.3h1v1h-1zM451.5 81.6h1v1h-1zM457.9 87.6h1v1h-1zM455.7 81.8h1v1h-1zM455.2 84.2h1v1h-1zM460.2 90.3h1v1h-1zM463.7 85.4h1v1h-1zM461.0 85.1h1v1h-1zM460.4 93.7h1v1h-1zM447.9 83.4h1v1h-1zM461.4 91.2h1v1h-1zM454.6 86.5h1v1h-1zM464.0 81.8h1v1h-1zM450.7 82.3h1v1h-1zM454.1 88.4h1v1h-1zM455.8 95.1h1v1h-1zM460.5 79.6h1v1h-1zM457.4 77.9h1v1h-1zM461.7 93.4h1v1h-1zM458.8 90.0h1v1h-1zM455.3 86.3h1v1h-1zM470.9 76.0h1v1h-1zM465.8 91.5h1v1h-1zM450.8 75.9h1v1h-1zM455.2 90.3h1v1h-1zM457.8 83.5h1v1h-1zM463.3 85.2h1v1h-1zM461.0 82.5h1v1h-1zM465.3 79.8h1v1h-1zM467.9 82.4h1v1h-1zM456.0 88.3h1v1h-1zM460.9 76.4h1v1h-1zM455.9 89.2h1v1h-1zM455.7 86.6h1v1h-1zM458.0 96.0h1v1h-1zM459.4 77.4h1v1h-1zM454.5 79.0h1v1h-1zM460.5 84.4h1v1h-1zM464.5 85.4h1v1h-1zM460.4 86.4h1v1h-1zM459.2 86.2h1v1h-1zM463.6 89.1h1v1h-1zM455.9 86.1h1v1h-1zM447.9 81.5h1v1h-1zM462.0 81.0h1v1h-1zM454.4 94.9h1v1h-1zM466.4 82.8h1v1h-1zM466.1 92.2h1v1h-1zM454.4 100.4h1v1h-1zM455.3 82.8h1v1h-1zM454.5 84.8h1v1h-1zM453.5 84.3h1v1h-1zM465.0 85.6h1v1h-1zM458.5 93.6h1v1h-1zM455.5 90.1h1v1h-1zM458.3 85.6h1v1h-1zM459.9 85.1h1v1h-1zM459.5 79.6h1v1h-1zM457.0 86.9h1v1h-1zM459.2 77.3h1v1h-1zM456.3 80.1h1v1h-1zM459.5 85.3h1v1h-1zM460.2 80.3h1v1h-1zM459.8 76.0h1v1h-1zM445.9 83.9h1v1h-1zM451.8 78.6h1v1h-1zM453.9 88.0h1v1h-1zM453.9 85.9h1v1h-1zM457.3 76.8h1v1h-1zM452.1 87.0h1v1h-1zM461.5 88.8h1v1h-1zM468.4 85.8h1v1h-1zM461.0 83.4h1v1h-1zM460.1 82.0h1v1h-1zM455.3 96.1h1v1h-1zM450.7 85.6h1v1h-1zM461.7 85.0h1v1h-1zM455.0 82.9h1v1h-1zM457.4 77.6h1v1h-1zM459.3 81.6h1v1h-1zM456.9 88.1h1v1h-1zM454.4 86.7h1v1h-1zM456.6 86.6h1v1h-1zM459.8 85.5h1v1h-1zM454.8 79.4h1v1h-1zM455.4 85.0h1v1h-1zM463.1 90.4h1v1h-1zM457.1 84.5h1v1h-1zM455.3 80.0h1v1h-1zM452.0 73.3h1v1h-1zM462.0 79.1h1v1h-1zM451.4 97.8h1v1h-1zM460.3 82.0h1v1h-1zM462.7 79.4h1v1h-1zM467.0 74.7h1v1h-1zM453.2 83.1h1v1h-1zM455.7 92.3h1v1h-1zM451.7 79.5h1v1h-1zM460.5 87.2h1v1h-1zM464.2 85.9h1v1h-1zM469.9 81.0h1v1h-1zM460.2 88.9h1v1h-1zM457.8 82.1h1v1h-1zM457.1 79.9h1v1h-1zM453.9 80.5h1v1h-1zM451.9 86.1h1v1h-1zM451.7 96.1h1v1h-1zM467.4 90.4h1v1h-1zM458.3 80.2h1v1h-1zM465.2 84.8h1v1h-1zM462.0 79.4h1v1h-1zM464.4 79.0h1v1h-1zM456.1 86.7h1v1h-1zM457.1 81.0h1v1h-1zM463.0 83.3h1v1h-1zM462.0 86.7h1v1h-1zM451.9 75.9h1v1h-1zM463.5 77.3h1v1h-1zM456.2 87.3h1v1h-1zM457.7 86.5h1v1h-1zM455.1 85.5h1v1h-1zM464.4 85.6h1v1h-1zM448.8 87.6h1v1h-1zM459.5 78.3h1v1h-1zM465.9 73.3h1v1h-1zM468.2 79.9h1v1h-1zM466.8 83.4h1v1h-1zM452.9 84.2h1v1h-1zM460.8 86.9h1v1h-1zM464.3 78.3h1v1h-1zM461.6 88.1h1v1h-1zM457.9 78.1h1v1h-1zM454.7 88.2h1v1h-1zM463.1 78.7h1v1h-1zM452.8 91.1h1v1h-1zM451.8 84.6h1v1h-1zM459.8 82.5h1v1h-1zM466.1 97.2h1v1h-1zM458.3 89.8h1v1h-1zM464.2 80.5h1v1h-1zM455.1 93.3h1v1h-1zM457.5 83.5h1v1h-1zM457.8 82.9h1v1h-1zM456.3 88.1h1v1h-1zM465.2 81.4h1v1h-1zM452.6 84.0h1v1h-1zM452.1 79.8h1v1h-1zM465.1 97.5h1v1h-1zM461.0 77.3h1v1h-1zM455.9 92.8h1v1h-1zM462.8 75.4h1v1h-1zM451.3 88.8h1v1h-1zM459.0 80.1h1v1h-1zM461.2 80.2h1v1h-1zM450.1 88.5h1v1h-1zM456.1 77.7h1v1h-1zM452.9 85.2h1v1h-1zM455.4 87.4h1v1h-1zM458.0 90.1h1v1h-1zM457.4 79.8h1v1h-1zM449.8 77.1h1v1h-1zM462.7 101.9h1v1h-1zM453.3 77.5h1v1h-1zM460.8 86.5h1v1h-1zM456.0 84.1h1v1h-1zM451.6 81.9h1v1h-1zM463.5 93.4h1v1h-1zM458.4 82.1h1v1h-1zM461.4 90.3h1v1h-1zM461.6 79.2h1v1h-1zM460.9 89.4h1v1h-1zM455.8 75.7h1v1h-1zM461.7 85.9h1v1h-1zM463.9 84.2h1v1h-1zM456.2 81.1h1v1h-1zM454.3 78.0h1v1h-1zM456.6 80.8h1v1h-1zM464.6 76.4h1v1h-1zM459.0 80.2h1v1h-1zM466.4 85.3h1v1h-1zM457.5 88.6h1v1h-1zM459.6 80.9h1v1h-1zM466.6 87.9h1v1h-1zM467.5 90.6h1v1h-1zM463.0 84.5h1v1h-1zM454.1 87.9h1v1h-1zM459.6 87.8h1v1h-1zM459.2 79.6h1v1h-1zM454.5 87.9h1v1h-1zM465.4 82.0h1v1h-1zM461.5 92.0h1v1h-1zM455.3 81.7h1v1h-1zM454.0 90.8h1v1h-1zM460.5 81.0h1v1h-1zM451.4 82.7h1v1h-1zM464.1 82.0h1v1h-1zM457.3 87.6h1v1h-1zM453.4 84.1h1v1h-1zM462.2 79.1h1v1h-1zM455.4 85.2h1v1h-1zM458.8 82.4h1v1h-1zM460.3 85.1h1v1h-1zM454.9 79.8h1v1h-1zM461.5 90.5h1v1h-1zM465.8 78.7h1v1h-1zM464.5 88.3h1v1h-1zM459.2 86.7h1v1h-1zM463.3 94.4h1v1h-1zM454.3 87.4h1v1h-1zM458.7 82.6h1v1h-1zM464.8 88.7h1v1h-1zM454.5 82.1h1v1h-1zM463.5 83.4h1v1h-1zM460.1 85.8h1v1h-1zM467.9 84.0h1v1h-1zM457.6 94.1h1v1h-1zM457.0 80.7h1v1h-1zM452.8 90.2h1v1h-1zM460.6 86.6h1v1h-1zM460.1 83.0h1v1h-1zM455.6 79.2h1v1h-1zM461.4 84.6h1v1h-1zM467.1 79.3h1v1h-1zM457.0 77.8h1v1h-1zM465.9 76.5h1v1h-1zM463.0 92.4h1v1h-1zM458.7 88.1h1v1h-1zM449.3 81.5h1v1h-1zM451.5 84.9h1v1h-1zM459.4 79.3h1v1h-1zM463.9 85.9h1v1h-1zM456.9 80.8h1v1h-1zM452.4 82.7h1v1h-1zM469.4 79.6h1v1h-1zM461.4 80.6h1v1h-1zM463.2 86.5h1v1h-1zM456.9 91.0h1v1h-1zM458.2 87.6h1v1h-1zM461.4 85.7h1v1h-1zM456.6 81.7h1v1h-1zM460.8 80.3h1v1h-1zM461.0 82.6h1v1h-1zM448.2 83.0h1v1h-1zM456.6 78.9h1v1h-1zM461.3 81.0h1v1h-1zM461.9 90.3h1v1h-1zM455.9 89.3h1v1h-1zM458.2 79.1h1v1h-1zM459.0 86.9h1v1h-1zM460.6 87.7h1v1h-1zM455.5 82.2h1v1h-1zM458.2 83.7h1v1h-1zM449.5 82.5h1v1h-1zM453.0 92.1h1v1h-1zM466.8 93.8h1v1h-1zM463.2 81.0h1v1h-1zM464.0 82.7h1v1h-1zM462.3 78.5h1v1h-1zM456.6 86.6h1v1h-1zM467.8 83.7h1v1h-1zM470.1 100.2h1v1h-1zM453.3 83.7h1v1h-1zM454.9 83.1h1v1h-1zM456.9 83.5h1v1h-1zM464.0 89.5h1v1h-1zM460.7 83.9h1v1h-1zM460.0 84.7h1v1h-1zM462.1 83.9h1v1h-1zM461.8 76.1h1v1h-1zM463.2 94.3h1v1h-1zM465.8 82.0h1v1h-1zM445.2 82.6h1v1h-1zM462.3 86.2h1v1h-1zM465.3 87.6h1v1h-1zM454.1 85.0h1v1h-1zM462.7 77.8h1v1h-1zM456.5 86.7h1v1h-1zM450.4 72.4h1v1h-1zM458.3 85.4h1v1h-1zM459.5 76.0h1v1h-1zM462.5 83.3h1v1h-1zM460.7 87.7h1v1h-1zM456.9 88.8h1v1h-1zM465.3 86.3h1v1h-1zM465.8 80.2h1v1h-1zM463.8 85.5h1v1h-1zM454.8 83.5h1v1h-1zM456.9 80.6h1v1h-1zM459.9 90.2h1v1h-1zM457.9 84.7h1v1h-1zM452.5 84.6h1v1h-1zM464.9 88.7h1v1h-1zM461.7 80.8h1v1h-1zM454.8 83.4h1v1h-1zM453.1 76.6h1v1h-1zM463.9 78.5h1v1h-1zM468.0 75.4h1v1h-1zM461.5 77.0h1v1h-1zM460.3 77.8h1v1h-1zM459.6 83.0h1v1h-1zM457.3 87.0h1v1h-1zM466.6 80.4h1v1h-1zM463.6 84.4h1v1h-1zM459.3 97.0h1v1h-1zM449.1 79.9h1v1h-1zM450.8 82.1h1v1h-1zM458.4 106.6h1v1h-1zM461.1 94.6h1v1h-1zM465.6 81.3h1v1h-1zM461.7 93.9h1v1h-1zM460.3 85.2h1v1h-1zM455.6 85.9h1v1h-1zM462.0 78.5h1v1h-1zM457.9 83.2h1v1h-1zM458.7 88.0h1v1h-1zM459.9 84.9h1v1h-1zM452.7 77.7h1v1h-1zM461.0 90.7h1v1h-1zM460.7 93.5h1v1h-1zM455.5 97.4h1v1h-1zM456.1 92.9h1v1h-1zM456.1 95.6h1v1h-1zM472.8 89.1h1v1h-1zM459.3 94.7h1v1h-1zM464.0 94.3h1v1h-1zM447.4 99.4h1v1h-1zM454.1 95.3h1v1h-1zM452.7 92.2h1v1h-1zM457.0 98.0h1v1h-1zM463.5 93.7h1v1h-1zM461.8 94.3h1v1h-1zM459.9 95.9h1v1h-1zM462.4 93.6h1v1h-1zM458.7 96.1h1v1h-1zM459.8 93.0h1v1h-1zM467.8 94.0h1v1h-1zM463.1 96.0h1v1h-1zM465.3 88.9h1v1h-1zM469.4 94.8h1v1h-1zM453.4 95.8h1v1h-1zM470.4 96.9h1v1h-1zM453.4 94.0h1v1h-1zM465.9 91.2h1v1h-1zM458.5 94.5h1v1h-1zM469.9 94.5h1v1h-1zM465.7 93.4h1v1h-1zM455.4 98.4h1v1h-1zM462.4 90.3h1v1h-1zM462.5 97.3h1v1h-1zM456.4 96.1h1v1h-1zM460.7 94.0h1v1h-1zM456.5 93.4h1v1h-1zM458.0 91.4h1v1h-1zM459.1 91.0h1v1h-1zM459.7 95.2h1v1h-1zM454.3 97.9h1v1h-1zM468.8 99.3h1v1h-1zM452.7 99.2h1v1h-1zM460.4 95.2h1v1h-1zM456.4 95.4h1v1h-1zM466.1 97.0h1v1h-1zM457.3 93.4h1v1h-1zM457.3 97.1h1v1h-1zM468.4 92.2h1v1h-1zM459.3 94.3h1v1h-1zM455.7 96.6h1v1h-1zM462.0 91.2h1v1h-1zM454.3 99.0h1v1h-1zM460.9 96.9h1v1h-1zM456.9 94.3h1v1h-1zM461.6 93.9h1v1h-1zM453.9 95.4h1v1h-1zM463.7 92.3h1v1h-1zM464.5 97.5h1v1h-1zM455.1 95.4h1v1h-1zM459.1 97.3h1v1h-1zM462.6 91.5h1v1h-1zM452.8 98.5h1v1h-1zM459.9 96.6h1v1h-1zM461.0 99.9h1v1h-1zM453.5 98.6h1v1h-1zM455.4 97.6h1v1h-1zM465.8 91.3h1v1h-1zM461.3 94.6h1v1h-1zM457.9 95.5h1v1h-1zM454.2 92.5h1v1h-1zM462.5 97.9h1v1h-1zM456.6 91.1h1v1h-1zM470.6 98.7h1v1h-1zM461.1 92.3h1v1h-1zM456.5 96.1h1v1h-1zM454.7 100.1h1v1h-1zM460.0 96.6h1v1h-1zM454.4 92.7h1v1h-1zM455.5 96.2h1v1h-1zM458.0 94.5h1v1h-1zM460.9 96.1h1v1h-1zM466.5 94.8h1v1h-1zM454.4 95.4h1v1h-1zM466.4 93.8h1v1h-1zM459.6 94.3h1v1h-1zM461.3 96.2h1v1h-1zM455.4 94.7h1v1h-1zM463.9 98.6h1v1h-1zM463.8 97.9h1v1h-1zM457.7 94.3h1v1h-1zM463.8 91.9h1v1h-1zM459.1 89.9h1v1h-1zM457.5 93.3h1v1h-1zM453.5 97.1h1v1h-1zM455.8 94.3h1v1h-1zM458.1 93.2h1v1h-1zM466.2 93.9h1v1h-1zM460.3 91.6h1v1h-1zM457.1 94.4h1v1h-1zM457.9 93.7h1v1h-1zM460.0 100.0h1v1h-1zM458.7 95.0h1v1h-1zM457.5 102.9h1v1h-1zM467.1 97.0h1v1h-1zM462.7 93.3h1v1h-1zM458.6 96.0h1v1h-1zM459.9 92.9h1v1h-1zM455.6 96.9h1v1h-1zM460.8 89.2h1v1h-1zM459.8 99.1h1v1h-1zM456.2 96.1h1v1h-1zM452.4 97.9h1v1h-1zM454.0 91.7h1v1h-1zM457.8 102.4h1v1h-1zM456.4 91.7h1v1h-1zM461.6 96.1h1v1h-1zM467.3 91.7h1v1h-1zM451.7 94.5h1v1h-1zM461.2 96.5h1v1h-1zM464.6 91.0h1v1h-1zM455.4 95.0h1v1h-1zM463.4 96.8h1v1h-1zM457.3 92.4h1v1h-1zM463.6 98.2h1v1h-1zM472.4 94.9h1v1h-1zM467.2 91.9h1v1h-1zM456.7 93.4h1v1h-1zM457.1 92.8h1v1h-1zM456.7 95.3h1v1h-1zM457.2 97.4h1v1h-1zM459.0 95.4h1v1h-1zM466.4 96.3h1v1h-1zM460.1 95.4h1v1h-1zM459.7 97.1h1v1h-1zM455.5 98.8h1v1h-1zM466.9 98.8h1v1h-1zM457.0 90.7h1v1h-1zM457.3 95.9h1v1h-1zM463.3 94.9h1v1h-1zM457.9 99.9h1v1h-1zM456.1 98.5h1v1h-1zM463.7 91.5h1v1h-1zM460.7 93.8h1v1h-1zM454.8 90.0h1v1h-1zM451.8 96.6h1v1h-1zM457.5 96.2h1v1h-1zM454.3 94.5h1v1h-1zM458.1 90.9h1v1h-1zM451.4 96.7h1v1h-1zM460.1 92.7h1v1h-1zM458.9 97.4h1v1h-1zM468.1 92.8h1v1h-1zM462.3 101.6h1v1h-1zM459.7 99.7h1v1h-1zM446.9 99.7h1v1h-1zM459.3 89.9h1v1h-1zM463.1 98.5h1v1h-1zM465.2 98.9h1v1h-1zM459.2 93.2h1v1h-1zM457.1 95.3h1v1h-1zM461.3 94.0h1v1h-1zM459.6 98.0h1v1h-1zM460.9 102.2h1v1h-1zM469.7 92.0h1v1h-1zM456.6 91.6h1v1h-1zM453.8 97.0h1v1h-1zM454.6 92.3h1v1h-1zM458.1 97.8h1v1h-1zM457.6 94.4h1v1h-1zM463.8 96.8h1v1h-1zM461.6 98.2h1v1h-1zM454.5 96.0h1v1h-1zM456.3 98.4h1v1h-1zM463.3 92.3h1v1h-1zM465.8 92.0h1v1h-1zM465.0 96.0h1v1h-1zM455.2 92.1h1v1h-1zM457.9 95.3h1v1h-1zM455.9 97.1h1v1h-1zM452.6 95.4h1v1h-1zM459.4 89.9h1v1h-1zM460.8 91.7h1v1h-1zM447.3 93.6h1v1h-1zM458.3 98.1h1v1h-1zM457.0 99.8h1v1h-1zM466.3 98.6h1v1h-1zM465.7 96.4h1v1h-1zM456.7 97.3h1v1h-1zM464.0 96.1h1v1h-1zM458.2 90.8h1v1h-1zM462.6 96.4h1v1h-1zM453.1 95.7h1v1h-1zM462.8 95.1h1v1h-1zM463.1 97.6h1v1h-1zM452.2 94.5h1v1h-1zM461.7 98.1h1v1h-1zM466.2 89.7h1v1h-1zM459.0 97.5h1v1h-1zM465.3 100.4h1v1h-1zM454.8 94.3h1v1h-1zM454.3 97.8h1v1h-1zM452.9 98.9h1v1h-1zM463.9 96.9h1v1h-1zM448.8 93.4h1v1h-1zM463.0 91.2h1v1h-1zM458.2 95.1h1v1h-1zM463.7 96.2h1v1h-1zM460.7 94.1h1v1h-1zM459.4 95.0h1v1h-1zM462.9 94.9h1v1h-1zM464.4 90.4h1v1h-1zM465.2 94.9h1v1h-1zM464.8 95.7h1v1h-1zM463.5 99.8h1v1h-1zM456.7 95.6h1v1h-1zM458.5 96.0h1v1h-1zM451.5 94.9h1v1h-1zM458.1 93.1h1v1h-1zM458.4 90.8h1v1h-1zM466.1 96.7h1v1h-1zM468.5 92.8h1v1h-1zM453.7 96.2h1v1h-1zM451.3 96.1h1v1h-1zM455.9 94.4h1v1h-1zM460.6 95.5h1v1h-1zM468.3 97.3h1v1h-1zM453.1 98.3h1v1h-1zM452.8 95.7h1v1h-1zM453.3 92.9h1v1h-1zM465.7 93.7h1v1h-1zM456.2 93.7h1v1h-1zM457.8 99.7h1v1h-1zM453.6 91.7h1v1h-1zM462.1 90.7h1v1h-1zM457.5 98.7h1v1h-1zM459.3 94.0h1v1h-1zM455.9 92.7h1v1h-1zM456.4 95.8h1v1h-1zM465.3 98.2h1v1h-1zM456.6 93.2h1v1h-1zM462.7 90.0h1v1h-1zM457.2 94.4h1v1h-1zM453.9 92.4h1v1h-1zM461.0 90.5h1v1h-1zM454.8 93.4h1v1h-1zM459.6 91.3h1v1h-1zM464.5 94.4h1v1h-1zM458.0 94.3h1v1h-1zM456.0 92.4h1v1h-1zM464.8 95.9h1v1h-1zM458.7 98.3h1v1h-1zM455.8 97.2h1v1h-1zM459.3 92.7h1v1h-1zM462.9 90.9h1v1h-1zM462.3 92.7h1v1h-1zM461.1 99.4h1v1h-1zM461.9 93.5h1v1h-1zM459.0 94.2h1v1h-1zM453.5 92.0h1v1h-1zM459.4 96.9h1v1h-1zM450.6 95.1h1v1h-1zM461.6 95.6h1v1h-1zM454.3 98.3h1v1h-1zM453.2 97.2h1v1h-1zM466.8 89.2h1v1h-1zM460.3 96.2h1v1h-1zM460.2 93.0h1v1h-1zM457.6 91.1h1v1h-1zM459.7 96.8h1v1h-1zM455.9 92.5h1v1h-1zM456.8 95.2h1v1h-1zM459.3 94.9h1v1h-1zM459.4 91.4h1v1h-1zM445.9 97.0h1v1h-1zM465.9 91.0h1v1h-1zM455.8 96.1h1v1h-1zM463.6 97.1h1v1h-1zM465.2 95.1h1v1h-1zM461.0 96.4h1v1h-1zM457.0 98.7h1v1h-1zM462.0 98.1h1v1h-1zM457.2 98.2h1v1h-1zM454.0 96.4h1v1h-1zM446.5 92.2h1v1h-1zM462.6 93.9h1v1h-1zM459.9 90.4h1v1h-1zM466.4 97.0h1v1h-1zM458.9 96.4h1v1h-1zM460.6 99.4h1v1h-1zM460.0 90.9h1v1h-1zM457.8 99.0h1v1h-1zM461.7 94.0h1v1h-1zM461.9 95.5h1v1h-1zM461.9 90.5h1v1h-1zM454.7 97.2h1v1h-1zM457.9 96.2h1v1h-1zM468.4 94.3h1v1h-1zM460.2 93.6h1v1h-1zM456.0 95.0h1v1h-1zM452.1 89.0h1v1h-1zM465.6 94.9h1v1h-1zM464.4 95.6h1v1h-1zM459.7 97.2h1v1h-1zM462.5 91.7h1v1h-1zM464.8 92.4h1v1h-1zM460.0 102.7h1v1h-1zM459.4 100.1h1v1h-1zM457.4 97.0h1v1h-1zM459.3 96.4h1v1h-1zM454.9 92.5h1v1h-1zM460.6 90.6h1v1h-1zM455.0 97.1h1v1h-1zM456.1 92.6h1v1h-1zM453.7 95.6h1v1h-1zM457.3 95.6h1v1h-1zM458.1 100.6h1v1h-1zM456.9 89.5h1v1h-1zM459.6 95.2h1v1h-1zM459.8 90.5h1v1h-1zM464.4 95.1h1v1h-1zM458.8 90.6h1v1h-1zM461.3 95.0h1v1h-1zM465.5 94.0h1v1h-1zM453.1 95.6h1v1h-1zM454.7 96.4h1v1h-1zM453.9 94.8h1v1h-1zM457.9 95.1h1v1h-1zM456.6 92.8h1v1h-1zM458.7 93.5h1v1h-1zM459.7 94.4h1v1h-1zM448.3 95.0h1v1h-1zM469.6 68.8h1v1h-1zM455.2 57.7h1v1h-1zM465.1 73.9h1v1h-1zM456.2 50.4h1v1h-1zM459.8 51.3h1v1h-1zM473.6 71.6h1v1h-1zM450.1 65.3h1v1h-1zM463.5 59.7h1v1h-1zM471.5 77.8h1v1h-1zM471.5 67.1h1v1h-1zM456.4 76.6h1v1h-1zM468.2 58.5h1v1h-1zM469.4 70.3h1v1h-1zM463.3 58.8h1v1h-1zM482.2 65.4h1v1h-1zM470.0 63.8h1v1h-1zM466.6 60.7h1v1h-1zM450.1 60.6h1v1h-1zM465.0 54.6h1v1h-1zM453.4 60.8h1v1h-1zM469.8 65.1h1v1h-1zM473.7 53.5h1v1h-1zM459.8 82.6h1v1h-1zM468.2 72.3h1v1h-1zM464.2 78.0h1v1h-1zM444.8 74.4h1v1h-1zM451.3 61.2h1v1h-1zM459.6 57.7h1v1h-1zM449.6 73.4h1v1h-1zM455.6 56.1h1v1h-1zM471.9 74.0h1v1h-1zM449.2 72.6h1v1h-1zM464.0 75.0h1v1h-1zM474.6 73.5h1v1h-1zM446.4 70.2h1v1h-1zM455.4 74.9h1v1h-1zM465.1 59.0h1v1h-1zM447.7 70.4h1v1h-1zM465.1 78.9h1v1h-1zM471.6 69.6h1v1h-1zM454.0 50.8h1v1h-1zM461.2 53.0h1v1h-1zM459.6 55.3h1v1h-1zM474.5 68.6h1v1h-1zM450.6 72.6h1v1h-1zM464.6 58.6h1v1h-1zM469.6 67.8h1v1h-1zM451.9 55.5h1v1h-1zM471.7 76.9h1v1h-1zM450.2 78.2h1v1h-1zM470.3 68.4h1v1h-1zM445.8 81.1h1v1h-1zM493.4 63.2h1v1h-1zM497.5 91.5h1v1h-1zM501.6 75.3h1v1h-1zM495.9 76.4h1v1h-1zM500.0 65.0h1v1h-1zM491.5 87.9h1v1h-1zM497.8 86.0h1v1h-1zM497.7 85.2h1v1h-1zM495.2 78.4h1v1h-1zM501.6 82.0h1v1h-1zM495.6 81.2h1v1h-1zM495.0 65.2h1v1h-1zM498.5 84.7h1v1h-1zM499.5 66.3h1v1h-1zM499.6 79.7h1v1h-1zM495.6 57.8h1v1h-1zM500.0 81.1h1v1h-1zM498.5 63.0h1v1h-1zM492.6 82.0h1v1h-1zM499.4 78.4h1v1h-1zM496.3 77.7h1v1h-1zM495.4 72.8h1v1h-1zM494.4 76.8h1v1h-1zM495.8 81.6h1v1h-1zM499.1 69.3h1v1h-1zM502.5 67.2h1v1h-1zM498.3 82.5h1v1h-1zM500.8 59.6h1v1h-1zM500.0 83.5h1v1h-1zM501.3 59.5h1v1h-1zM495.0 74.3h1v1h-1zM495.7 84.4h1v1h-1zM495.0 83.6h1v1h-1zM498.7 64.8h1v1h-1zM494.0 71.7h1v1h-1zM497.3 81.9h1v1h-1zM496.5 81.4h1v1h-1zM492.3 53.7h1v1h-1zM496.0 78.2h1v1h-1zM495.9 67.9h1v1h-1zM498.3 88.5h1v1h-1zM496.7 69.9h1v1h-1zM494.5 88.8h1v1h-1zM496.9 79.3h1v1h-1zM500.7 82.5h1v1h-1zM494.2 81.7h1v1h-1zM499.5 78.4h1v1h-1zM500.0 71.1h1v1h-1zM496.8 71.3h1v1h-1zM499.3 70.4h1v1h-1zM498.2 67.3h1v1h-1zM496.6 72.5h1v1h-1zM496.7 75.9h1v1h-1zM496.4 73.5h1v1h-1zM490.8 82.7h1v1h-1zM495.1 73.3h1v1h-1zM494.5 82.0h1v1h-1zM494.3 78.5h1v1h-1zM500.5 86.5h1v1h-1zM500.6 79.3h1v1h-1z" fill="#2a2a2a" fill-opacity="0.7"/>
<path d="M500.5 67.8h1v1h-1zM495.6 69.6h1v1h-1zM497.2 81.7h1v1h-1zM497.9 72.4h1v1h-1zM493.9 85.9h1v1h-1zM496.6 99.0h1v1h-1zM493.8 85.4h1v1h-1zM497.2 70.9h1v1h-1zM502.3 79.2h1v1h-1zM493.5 75.0h1v1h-1zM501.0 66.6h1v1h-1zM502.4 84.4h1v1h-1zM495.9 90.7h1v1h-1zM503.9 83.6h1v1h-1zM497.7 95.3h1v1h-1zM502.9 69.3h1v1h-1zM496.2 76.0h1v1h-1zM495.4 64.0h1v1h-1zM500.5 78.8h1v1h-1zM497.4 91.2h1v1h-1zM494.8 77.5h1v1h-1zM498.1 73.9h1v1h-1zM496.6 85.2h1v1h-1zM497.0 90.5h1v1h-1zM494.0 79.9h1v1h-1zM491.4 76.9h1v1h-1zM494.2 90.8h1v1h-1zM499.9 82.8h1v1h-1zM504.3 91.6h1v1h-1zM499.8 71.5h1v1h-1zM491.3 77.7h1v1h-1zM495.6 71.9h1v1h-1zM495.9 62.4h1v1h-1zM502.9 67.3h1v1h-1zM494.3 83.4h1v1h-1zM490.6 86.7h1v1h-1zM500.7 75.1h1v1h-1zM492.7 73.5h1v1h-1zM489.7 91.1h1v1h-1zM497.2 71.1h1v1h-1zM493.4 83.4h1v1h-1zM503.0 66.0h1v1h-1zM494.7 61.4h1v1h-1zM499.7 79.5h1v1h-1zM506.0 76.8h1v1h-1zM495.3 71.3h1v1h-1zM500.4 62.6h1v1h-1zM500.0 80.3h1v1h-1zM495.0 69.5h1v1h-1zM501.2 95.6h1v1h-1zM495.2 83.0h1v1h-1zM503.9 72.1h1v1h-1zM496.0 66.4h1v1h-1zM496.4 77.2h1v1h-1zM495.3 71.0h1v1h-1zM490.7 65.2h1v1h-1zM493.1 84.1h1v1h-1zM495.0 69.9h1v1h-1zM499.6 83.3h1v1h-1zM494.0 72.0h1v1h-1zM499.6 81.5h1v1h-1zM493.7 80.3h1v1h-1zM496.9 88.6h1v1h-1zM493.5 86.4h1v1h-1zM498.7 68.4h1v1h-1zM501.2 86.7h1v1h-1zM491.7 96.9h1v1h-1zM492.4 69.2h1v1h-1zM495.7 85.3h1v1h-1zM499.3 77.1h1v1h-1zM502.5 81.9h1v1h-1zM502.6 104.9h1v1h-1zM497.8 53.4h1v1h-1zM495.2 67.7h1v1h-1zM497.4 78.9h1v1h-1zM492.1 66.9h1v1h-1zM495.9 76.1h1v1h-1zM486.5 87.4h1v1h-1zM497.1 77.9h1v1h-1zM498.2 68.1h1v1h-1zM496.8 88.0h1v1h-1zM501.4 82.5h1v1h-1zM495.9 70.1h1v1h-1zM502.4 83.1h1v1h-1zM495.3 57.0h1v1h-1zM493.5 59.3h1v1h-1zM502.1 79.8h1v1h-1zM494.0 75.3h1v1h-1zM507.6 89.8h1v1h-1zM491.5 76.7h1v1h-1z" fill="#555" fill-opacity="0.55"/>
<ellipse cx="459.50" cy="67.6" rx="8.64" ry="8.10" fill="#4a4a4a"/>
<path d="M466.5 60.2h1v1h-1zM457.3 58.9h1v1h-1zM468.0 65.7h1v1h-1zM462.1 58.8h1v1h-1zM458.2 59.3h1v1h-1zM467.2 71.5h1v1h-1zM455.5 60.1h1v1h-1zM467.8 65.0h1v1h-1zM463.1 59.6h1v1h-1zM457.1 75.6h1v1h-1zM454.0 74.3h1v1h-1zM460.8 75.8h1v1h-1zM468.5 66.1h1v1h-1zM452.5 61.2h1v1h-1zM454.4 76.1h1v1h-1zM457.1 75.5h1v1h-1zM468.0 69.9h1v1h-1zM468.3 71.0h1v1h-1zM451.8 63.9h1v1h-1zM468.8 64.8h1v1h-1zM449.6 64.6h1v1h-1zM450.9 66.1h1v1h-1zM461.4 58.0h1v1h-1zM468.1 70.8h1v1h-1zM461.0 77.1h1v1h-1zM467.7 72.9h1v1h-1zM462.1 76.2h1v1h-1zM456.0 58.9h1v1h-1zM468.2 70.4h1v1h-1zM465.6 73.4h1v1h-1zM464.1 74.6h1v1h-1zM468.1 64.1h1v1h-1zM459.3 76.3h1v1h-1zM467.8 70.4h1v1h-1zM452.7 61.1h1v1h-1zM451.6 61.0h1v1h-1zM469.5 66.4h1v1h-1zM449.9 69.6h1v1h-1zM459.6 77.1h1v1h-1zM459.9 77.5h1v1h-1zM469.4 68.4h1v1h-1zM449.5 67.6h1v1h-1zM449.5 66.4h1v1h-1zM457.0 58.9h1v1h-1zM467.8 65.1h1v1h-1zM467.8 63.7h1v1h-1zM457.0 58.9h1v1h-1zM452.2 73.1h1v1h-1zM468.6 66.1h1v1h-1zM467.0 63.5h1v1h-1zM450.8 63.5h1v1h-1zM452.6 72.6h1v1h-1zM462.1 58.7h1v1h-1zM453.1 73.1h1v1h-1zM464.8 59.7h1v1h-1zM464.6 59.5h1v1h-1zM458.7 76.5h1v1h-1zM450.6 69.4h1v1h-1zM451.3 72.4h1v1h-1zM468.7 67.5h1v1h-1zM453.1 74.3h1v1h-1zM453.2 61.4h1v1h-1zM453.7 60.4h1v1h-1zM459.3 59.4h1v1h-1zM454.3 60.6h1v1h-1zM466.4 61.5h1v1h-1zM463.2 58.9h1v1h-1zM461.5 75.5h1v1h-1zM460.0 59.5h1v1h-1zM468.7 64.7h1v1h-1zM450.9 71.8h1v1h-1zM466.0 74.2h1v1h-1zM467.1 63.7h1v1h-1zM467.8 64.4h1v1h-1zM451.2 73.5h1v1h-1zM462.1 59.5h1v1h-1zM468.1 66.6h1v1h-1zM454.5 60.2h1v1h-1zM466.1 62.3h1v1h-1zM455.5 75.4h1v1h-1zM468.1 71.6h1v1h-1zM465.4 59.7h1v1h-1zM465.2 74.5h1v1h-1zM468.1 66.8h1v1h-1zM457.0 59.6h1v1h-1zM467.5 62.8h1v1h-1zM466.4 62.7h1v1h-1zM452.3 62.3h1v1h-1zM466.6 72.9h1v1h-1zM459.0 58.8h1v1h-1zM452.1 63.0h1v1h-1zM450.3 67.1h1v1h-1zM468.1 62.5h1v1h-1zM450.9 70.9h1v1h-1zM457.0 76.1h1v1h-1zM466.6 74.8h1v1h-1zM452.1 71.7h1v1h-1zM456.5 76.9h1v1h-1zM456.2 75.5h1v1h-1zM469.3 66.1h1v1h-1zM453.9 73.9h1v1h-1zM452.5 73.0h1v1h-1zM466.9 62.2h1v1h-1zM468.9 63.1h1v1h-1zM465.7 61.4h1v1h-1zM452.3 73.2h1v1h-1zM455.2 59.0h1v1h-1zM463.2 60.0h1v1h-1zM458.7 59.2h1v1h-1zM460.9 59.6h1v1h-1zM465.2 60.2h1v1h-1zM464.9 74.2h1v1h-1zM456.0 75.7h1v1h-1zM468.2 62.1h1v1h-1zM452.6 62.7h1v1h-1zM469.8 66.3h1v1h-1zM467.7 72.4h1v1h-1zM454.7 59.8h1v1h-1zM458.2 59.6h1v1h-1zM456.3 75.4h1v1h-1zM454.4 61.0h1v1h-1zM458.1 75.7h1v1h-1zM468.3 70.1h1v1h-1zM462.1 75.9h1v1h-1zM462.2 76.6h1v1h-1zM467.1 73.6h1v1h-1zM454.7 60.8h1v1h-1zM453.0 73.5h1v1h-1zM450.2 70.1h1v1h-1zM468.2 68.4h1v1h-1zM456.7 59.9h1v1h-1zM464.5 60.6h1v1h-1zM469.1 69.7h1v1h-1zM459.8 77.5h1v1h-1zM468.5 63.1h1v1h-1zM466.0 62.2h1v1h-1zM468.5 69.0h1v1h-1zM451.5 71.7h1v1h-1zM451.3 62.3h1v1h-1zM462.0 58.2h1v1h-1zM455.0 59.0h1v1h-1zM466.8 72.0h1v1h-1zM449.8 70.5h1v1h-1zM453.0 73.0h1v1h-1zM465.7 73.5h1v1h-1zM465.4 61.2h1v1h-1zM466.1 60.1h1v1h-1zM461.1 58.0h1v1h-1zM459.2 75.8h1v1h-1zM459.9 75.7h1v1h-1zM467.5 64.1h1v1h-1zM453.4 61.5h1v1h-1zM450.6 65.5h1v1h-1zM457.9 59.5h1v1h-1zM457.4 75.5h1v1h-1zM454.9 76.0h1v1h-1zM467.9 65.8h1v1h-1zM465.0 60.0h1v1h-1zM467.2 71.5h1v1h-1zM465.3 61.4h1v1h-1zM467.3 62.8h1v1h-1zM468.7 66.7h1v1h-1zM466.0 74.1h1v1h-1zM451.3 70.3h1v1h-1zM463.8 58.9h1v1h-1zM468.8 65.6h1v1h-1zM451.9 63.5h1v1h-1zM469.1 65.5h1v1h-1zM454.7 59.7h1v1h-1zM464.4 60.5h1v1h-1zM467.5 74.0h1v1h-1zM468.2 69.2h1v1h-1zM450.9 68.0h1v1h-1zM455.7 76.5h1v1h-1zM452.8 61.3h1v1h-1zM468.6 68.6h1v1h-1zM466.0 73.5h1v1h-1zM452.5 73.1h1v1h-1zM455.5 76.1h1v1h-1zM449.5 69.8h1v1h-1zM454.6 74.4h1v1h-1zM453.3 75.1h1v1h-1zM453.2 74.9h1v1h-1zM456.4 59.8h1v1h-1zM462.6 75.2h1v1h-1zM450.3 70.4h1v1h-1zM456.7 77.0h1v1h-1zM469.4 68.4h1v1h-1zM464.6 76.3h1v1h-1zM467.9 73.2h1v1h-1zM452.3 72.4h1v1h-1zM468.0 69.7h1v1h-1zM451.8 74.1h1v1h-1zM468.0 66.0h1v1h-1zM451.5 64.5h1v1h-1zM467.1 73.0h1v1h-1zM449.4 66.0h1v1h-1zM466.7 62.9h1v1h-1zM452.8 60.6h1v1h-1zM460.8 58.9h1v1h-1zM450.1 66.9h1v1h-1zM451.5 72.2h1v1h-1zM466.5 62.3h1v1h-1zM451.0 70.7h1v1h-1zM465.4 61.4h1v1h-1zM450.4 71.0h1v1h-1zM451.6 73.6h1v1h-1zM451.1 65.7h1v1h-1zM453.7 73.7h1v1h-1zM451.1 70.7h1v1h-1zM454.1 75.6h1v1h-1zM467.4 62.0h1v1h-1zM460.5 58.0h1v1h-1zM467.1 63.5h1v1h-1zM466.5 62.7h1v1h-1zM458.1 76.8h1v1h-1zM466.0 75.3h1v1h-1zM467.4 64.2h1v1h-1zM452.7 60.3h1v1h-1zM450.4 65.4h1v1h-1zM451.5 63.0h1v1h-1zM451.1 63.1h1v1h-1zM467.8 65.4h1v1h-1zM460.4 75.7h1v1h-1zM467.5 71.0h1v1h-1zM466.8 62.8h1v1h-1zM452.3 62.6h1v1h-1zM468.3 67.0h1v1h-1zM452.4 72.8h1v1h-1zM461.5 75.5h1v1h-1zM452.7 72.8h1v1h-1zM469.6 69.0h1v1h-1zM454.7 74.4h1v1h-1zM452.6 61.8h1v1h-1zM456.2 59.7h1v1h-1zM465.6 74.5h1v1h-1zM451.3 73.3h1v1h-1zM455.4 74.9h1v1h-1zM463.0 75.2h1v1h-1zM460.2 76.3h1v1h-1zM452.2 74.7h1v1h-1zM462.5 76.9h1v1h-1zM454.8 75.0h1v1h-1zM469.1 65.2h1v1h-1zM468.3 64.7h1v1h-1zM455.5 75.8h1v1h-1zM456.1 60.2h1v1h-1zM467.6 73.7h1v1h-1zM457.7 58.3h1v1h-1zM463.5 76.7h1v1h-1zM456.8 75.4h1v1h-1zM453.8 74.1h1v1h-1zM468.9 71.0h1v1h-1zM465.5 61.6h1v1h-1zM449.8 64.6h1v1h-1zM452.8 73.6h1v1h-1zM459.8 76.2h1v1h-1zM455.7 76.3h1v1h-1zM464.2 74.4h1v1h-1zM466.6 62.8h1v1h-1zM450.2 64.8h1v1h-1zM454.7 76.2h1v1h-1zM454.9 74.6h1v1h-1zM468.9 71.4h1v1h-1zM461.7 77.0h1v1h-1zM449.5 70.2h1v1h-1zM468.2 72.5h1v1h-1zM469.2 66.4h1v1h-1zM466.5 75.0h1v1h-1zM462.3 59.8h1v1h-1zM468.0 66.1h1v1h-1zM465.4 73.5h1v1h-1zM451.9 62.9h1v1h-1zM467.4 72.1h1v1h-1zM465.9 62.1h1v1h-1zM453.9 61.3h1v1h-1zM450.5 67.0h1v1h-1zM458.1 75.6h1v1h-1zM451.4 63.5h1v1h-1zM456.3 59.9h1v1h-1zM468.1 66.8h1v1h-1zM462.7 76.1h1v1h-1zM465.4 73.8h1v1h-1zM449.6 67.5h1v1h-1zM465.4 61.3h1v1h-1zM454.8 60.8h1v1h-1zM467.0 61.9h1v1h-1zM466.7 62.8h1v1h-1zM449.7 67.8h1v1h-1zM469.5 69.1h1v1h-1zM456.9 58.6h1v1h-1zM464.7 75.5h1v1h-1zM451.5 64.3h1v1h-1zM466.3 74.6h1v1h-1zM452.4 72.6h1v1h-1zM452.9 74.3h1v1h-1zM465.2 73.8h1v1h-1zM453.5 59.8h1v1h-1zM454.6 59.0h1v1h-1zM457.6 75.9h1v1h-1zM453.2 73.7h1v1h-1zM458.3 76.9h1v1h-1zM457.6 76.0h1v1h-1zM449.1 69.3h1v1h-1zM454.9 75.6h1v1h-1zM454.8 75.9h1v1h-1zM452.9 72.9h1v1h-1zM450.6 66.4h1v1h-1zM458.7 75.9h1v1h-1zM469.3 67.7h1v1h-1zM450.4 65.0h1v1h-1zM451.3 64.0h1v1h-1zM450.6 69.8h1v1h-1zM467.3 63.4h1v1h-1zM464.5 74.3h1v1h-1zM454.6 75.1h1v1h-1zM451.0 63.1h1v1h-1zM454.8 60.7h1v1h-1zM452.6 73.0h1v1h-1zM466.7 73.4h1v1h-1zM460.8 59.6h1v1h-1zM450.9 66.1h1v1h-1zM461.1 58.9h1v1h-1zM468.0 71.1h1v1h-1zM460.0 75.8h1v1h-1zM455.0 60.2h1v1h-1zM468.8 63.4h1v1h-1zM465.0 60.8h1v1h-1zM466.7 63.0h1v1h-1zM461.0 59.3h1v1h-1zM465.2 61.5h1v1h-1zM451.8 63.9h1v1h-1zM456.9 76.1h1v1h-1zM465.7 74.6h1v1h-1zM450.7 66.9h1v1h-1zM450.6 65.6h1v1h-1zM469.0 69.5h1v1h-1zM457.2 58.2h1v1h-1zM467.9 64.6h1v1h-1zM453.6 60.6h1v1h-1zM468.8 70.6h1v1h-1zM458.2 76.1h1v1h-1zM452.8 61.6h1v1h-1zM457.6 77.0h1v1h-1zM467.4 72.5h1v1h-1zM463.6 76.5h1v1h-1zM468.5 64.0h1v1h-1zM466.9 61.4h1v1h-1zM453.9 60.0h1v1h-1zM467.0 63.2h1v1h-1zM458.4 59.5h1v1h-1zM450.8 69.6h1v1h-1zM453.1 60.9h1v1h-1zM467.8 62.2h1v1h-1zM467.5 70.9h1v1h-1zM468.9 70.1h1v1h-1zM453.5 75.7h1v1h-1zM461.8 77.1h1v1h-1zM459.9 58.3h1v1h-1zM451.5 61.6h1v1h-1zM460.5 77.1h1v1h-1zM466.5 61.5h1v1h-1zM454.8 60.6h1v1h-1zM450.1 68.1h1v1h-1zM456.0 75.0h1v1h-1zM469.0 64.7h1v1h-1zM453.3 74.2h1v1h-1zM450.7 62.3h1v1h-1zM450.4 64.3h1v1h-1zM462.3 59.9h1v1h-1zM450.5 62.8h1v1h-1zM464.1 58.9h1v1h-1zM464.7 75.5h1v1h-1zM457.7 77.0h1v1h-1zM461.4 59.3h1v1h-1zM451.4 63.5h1v1h-1zM468.3 64.4h1v1h-1zM467.8 71.7h1v1h-1zM468.2 68.6h1v1h-1zM450.3 68.1h1v1h-1zM467.7 71.1h1v1h-1zM457.4 75.7h1v1h-1zM451.4 70.4h1v1h-1zM468.1 69.3h1v1h-1zM457.3 58.1h1v1h-1zM459.8 59.5h1v1h-1zM464.1 59.2h1v1h-1zM465.0 60.0h1v1h-1zM458.9 76.3h1v1h-1zM451.5 70.6h1v1h-1zM450.9 65.5h1v1h-1zM468.7 64.9h1v1h-1zM462.7 60.1h1v1h-1zM457.1 58.5h1v1h-1zM450.9 69.6h1v1h-1zM450.2 68.3h1v1h-1zM451.3 71.0h1v1h-1zM454.5 59.2h1v1h-1zM458.3 77.1h1v1h-1zM468.6 70.7h1v1h-1z" fill="#111" fill-opacity="0.8"/>
<ellipse cx="459.50" cy="67.6" rx="8.64" ry="8.10" fill="none" stroke="#fff" stroke-width="0.8"/>
<ellipse cx="459.50" cy="67.6" rx="5.95" ry="5.58" fill="none" stroke="#aaa" stroke-width="0.5"/>
<ellipse cx="459.50" cy="67.6" rx="3.84" ry="3.60" fill="none" stroke="#999" stroke-width="0.5"/>
<ellipse cx="459.80" cy="67.0" rx="1.6" ry="1.1" fill="#fff"/>
</g>

<text transform="translate(516.70,94.9) scale(0.95,1)" font-size="8.6" fill="#2a2a2a">3.03</text>
<path d="M576.5 151.5V43.5H684.5V151.5" fill="none" stroke="#777" stroke-width="1.1"/>
<path d="M576.5 151.5H684.5" fill="none" stroke="#aaa" stroke-width="1.1"/>
<path d="M576.5 151.5V43.5" fill="none" stroke="#555" stroke-width="1"/>
<rect x="615.5" y="49.5" width="31" height="66.8" fill="none" stroke="#6a6a6a" stroke-width="1.1"/>
<path d="M573.1 56.6H576.5 M573.1 88.6H576.5 M573.1 119.6H576.5 M573.1 151.1H576.5 M574.5 109.8H576.5 M574.5 121.5H576.5 M574.5 123.5H576.5 M574.5 125.5H576.5 M574.5 127.5H576.5 M574.5 129.6H576.5 M574.5 136.1H576.5 M574.5 142.2H576.5 M574.5 79.0H576.5 M574.5 73.3H576.5 M574.5 69.3H576.5 M574.5 66.2H576.5 M574.5 63.7H576.5 M574.5 61.6H576.5 M574.5 59.7H576.5 M574.5 58.1H576.5 M574.5 110.3H576.5 M574.5 104.8H576.5 M574.5 100.9H576.5 M574.5 97.9H576.5 M574.5 95.5H576.5 M574.5 93.4H576.5 M574.5 91.6H576.5 M574.5 90.0H576.5" stroke="#333" stroke-width="0.9" fill="none"/>
<path d="M578.3 151.5V154.1 M581.8 151.5V154.1 M584.0 151.5V154.1 M591.8 151.5V154.1 M594.0 151.5V154.1 M598.4 151.5V154.1" stroke="#222" stroke-width="1" fill="none"/>
<rect x="587.1" y="151.5" width="2.6" height="2.6" fill="#111"/>
<path d="M623.8 151.5V154.3 M649.2 151.5V154.3 M674.0 151.5V154.3 M631.4 151.5V153.3 M635.9 151.5V153.3 M639.1 151.5V153.3 M641.6 151.5V153.3 M643.6 151.5V153.3 M645.3 151.5V153.3 M646.7 151.5V153.3 M648.0 151.5V153.3 M656.8 151.5V153.3 M661.3 151.5V153.3 M664.5 151.5V153.3 M667.0 151.5V153.3 M669.0 151.5V153.3 M670.7 151.5V153.3 M672.1 151.5V153.3 M673.4 151.5V153.3 M605.4 151.5V153.3 M609.8 151.5V153.3 M613.3 151.5V153.3 M616.0 151.5V153.3 M618.5 151.5V153.3 M620.7 151.5V153.3 M622.3 151.5V153.3" stroke="#555" stroke-width="0.9" fill="none"/>
<g font-size="10.2" fill="#1a1a1a">
<text transform="translate(554.70,65.20) scale(0.93,1)">10</text><text transform="translate(565.10,57.40) scale(0.93,1)">5</text>
<text transform="translate(554.70,97.20) scale(0.93,1)">10</text><text transform="translate(565.10,89.40) scale(0.93,1)">4</text>
<text transform="translate(554.70,128.20) scale(0.93,1)">10</text><text transform="translate(565.10,120.40) scale(0.93,1)">3</text>
<text transform="translate(554.70,151.00) scale(0.93,1)">10</text><text transform="translate(565.10,143.20) scale(0.93,1)">2</text>
<text transform="translate(586.40,170.60) scale(0.93,1)">0</text>
<text transform="translate(620.90,170.20) scale(0.93,1)">10</text><text transform="translate(631.50,162.90) scale(0.93,1)">3</text>
<text transform="translate(646.30,170.20) scale(0.93,1)">10</text><text transform="translate(656.90,162.90) scale(0.93,1)">4</text>
<text transform="translate(669.10,170.20) scale(0.93,1)">10</text><text transform="translate(679.70,162.90) scale(0.93,1)">5</text>
</g>
<g filter="url(#bl)">
<path d="M598.3 89.1h1v1h-1zM598.5 90.2h1v1h-1zM596.6 81.7h1v1h-1zM592.2 77.8h1v1h-1zM592.7 85.6h1v1h-1zM597.2 78.0h1v1h-1zM606.8 86.0h1v1h-1zM598.9 94.1h1v1h-1zM583.8 85.0h1v1h-1zM597.0 80.4h1v1h-1zM592.0 88.4h1v1h-1zM586.4 88.2h1v1h-1zM591.3 81.6h1v1h-1zM596.7 111.4h1v1h-1zM595.3 90.7h1v1h-1zM593.7 81.7h1v1h-1zM594.9 97.4h1v1h-1zM594.6 93.0h1v1h-1zM593.0 104.4h1v1h-1zM587.3 90.9h1v1h-1zM596.0 88.7h1v1h-1zM589.4 78.8h1v1h-1zM592.9 87.5h1v1h-1zM589.0 79.3h1v1h-1zM596.1 94.0h1v1h-1zM591.6 81.9h1v1h-1zM591.0 104.1h1v1h-1zM595.8 86.3h1v1h-1zM597.9 102.8h1v1h-1zM598.5 76.8h1v1h-1zM593.5 83.9h1v1h-1zM592.5 78.2h1v1h-1zM592.3 79.1h1v1h-1zM595.2 87.1h1v1h-1zM588.2 74.8h1v1h-1zM591.9 91.3h1v1h-1zM595.8 86.3h1v1h-1zM580.6 83.3h1v1h-1zM590.9 84.4h1v1h-1zM589.0 83.7h1v1h-1zM591.2 105.8h1v1h-1zM596.7 85.4h1v1h-1zM593.6 85.9h1v1h-1zM594.6 83.9h1v1h-1zM593.8 93.9h1v1h-1zM597.2 88.9h1v1h-1zM599.2 88.3h1v1h-1zM591.0 86.3h1v1h-1zM595.4 94.3h1v1h-1zM591.5 81.1h1v1h-1zM596.9 95.0h1v1h-1zM591.9 89.1h1v1h-1zM599.4 89.0h1v1h-1zM599.2 91.2h1v1h-1zM594.3 83.5h1v1h-1zM588.8 86.0h1v1h-1zM593.4 94.4h1v1h-1zM589.0 96.8h1v1h-1zM594.0 95.1h1v1h-1zM589.9 89.2h1v1h-1zM598.7 87.5h1v1h-1zM587.9 84.4h1v1h-1zM596.0 76.9h1v1h-1zM588.0 88.4h1v1h-1zM590.0 91.5h1v1h-1zM590.7 97.2h1v1h-1zM590.4 86.7h1v1h-1zM594.8 80.1h1v1h-1zM598.2 88.0h1v1h-1zM593.1 85.1h1v1h-1zM596.7 97.1h1v1h-1zM592.8 84.8h1v1h-1zM595.7 97.5h1v1h-1zM590.5 91.1h1v1h-1zM592.9 84.4h1v1h-1zM597.1 81.2h1v1h-1zM589.6 91.4h1v1h-1zM593.8 84.9h1v1h-1zM593.3 90.2h1v1h-1zM592.4 92.1h1v1h-1zM595.5 97.1h1v1h-1zM598.9 92.8h1v1h-1zM593.0 87.6h1v1h-1zM591.5 106.7h1v1h-1zM593.0 90.6h1v1h-1zM599.3 77.2h1v1h-1zM590.6 84.0h1v1h-1zM589.9 77.9h1v1h-1zM591.8 95.8h1v1h-1zM596.8 87.0h1v1h-1zM596.7 89.8h1v1h-1zM589.5 88.2h1v1h-1zM593.1 83.1h1v1h-1zM589.9 82.0h1v1h-1zM590.1 90.0h1v1h-1zM595.3 89.0h1v1h-1zM593.1 83.9h1v1h-1zM602.0 73.7h1v1h-1zM598.7 89.3h1v1h-1zM594.2 83.2h1v1h-1zM593.0 78.5h1v1h-1zM588.3 86.0h1v1h-1zM587.3 92.7h1v1h-1zM587.7 88.7h1v1h-1zM594.7 87.6h1v1h-1zM595.6 92.0h1v1h-1zM597.3 99.3h1v1h-1zM594.0 92.9h1v1h-1zM587.4 85.9h1v1h-1zM589.0 96.6h1v1h-1zM603.2 90.6h1v1h-1zM588.7 86.0h1v1h-1zM594.0 88.2h1v1h-1zM598.3 93.5h1v1h-1zM583.3 96.4h1v1h-1zM591.9 82.9h1v1h-1zM599.6 85.0h1v1h-1zM588.4 77.6h1v1h-1zM594.1 93.2h1v1h-1zM599.9 85.6h1v1h-1zM592.0 98.2h1v1h-1zM592.1 97.0h1v1h-1zM591.3 80.1h1v1h-1zM580.0 60.5h1v1h-1zM602.0 77.0h1v1h-1zM594.3 76.0h1v1h-1zM580.8 62.5h1v1h-1zM606.4 64.7h1v1h-1zM586.9 55.9h1v1h-1zM587.1 57.9h1v1h-1zM600.2 56.2h1v1h-1zM586.8 56.8h1v1h-1zM581.7 75.8h1v1h-1zM581.1 69.0h1v1h-1zM586.5 88.6h1v1h-1zM585.0 61.2h1v1h-1zM600.6 75.8h1v1h-1zM600.1 59.4h1v1h-1zM589.4 58.2h1v1h-1zM610.9 64.7h1v1h-1zM587.1 73.8h1v1h-1zM592.5 77.2h1v1h-1zM606.4 63.2h1v1h-1zM600.5 58.6h1v1h-1zM594.2 58.0h1v1h-1zM592.3 78.7h1v1h-1zM603.4 73.6h1v1h-1zM587.5 74.8h1v1h-1zM580.6 76.9h1v1h-1zM578.6 71.7h1v1h-1zM581.0 67.7h1v1h-1zM584.0 70.6h1v1h-1zM598.1 85.1h1v1h-1zM628.0 76.2h1v1h-1zM636.0 78.2h1v1h-1zM631.7 63.6h1v1h-1zM630.0 67.7h1v1h-1zM633.6 70.9h1v1h-1zM632.3 69.4h1v1h-1zM637.1 68.4h1v1h-1zM631.6 90.8h1v1h-1zM631.8 70.1h1v1h-1zM633.1 81.1h1v1h-1zM633.9 63.6h1v1h-1zM631.8 62.7h1v1h-1zM637.1 75.7h1v1h-1zM629.7 79.3h1v1h-1zM632.7 68.3h1v1h-1zM636.3 73.9h1v1h-1zM625.6 83.6h1v1h-1zM636.0 82.7h1v1h-1zM632.9 70.0h1v1h-1zM634.1 86.3h1v1h-1zM633.7 84.8h1v1h-1zM628.7 81.3h1v1h-1zM634.1 66.5h1v1h-1zM626.0 71.0h1v1h-1zM631.4 78.0h1v1h-1zM630.4 74.9h1v1h-1zM630.8 75.8h1v1h-1zM633.0 78.3h1v1h-1zM631.0 76.9h1v1h-1zM629.7 80.0h1v1h-1zM629.6 85.1h1v1h-1zM631.1 76.9h1v1h-1zM628.8 73.3h1v1h-1zM631.7 75.4h1v1h-1zM629.2 68.4h1v1h-1z" fill="#2a2a2a" fill-opacity="0.7"/>
<path d="M634.6 79.6h1v1h-1zM636.7 66.9h1v1h-1zM635.3 70.9h1v1h-1zM628.3 85.5h1v1h-1zM631.9 87.6h1v1h-1zM624.9 78.2h1v1h-1zM628.7 73.4h1v1h-1zM623.0 84.1h1v1h-1zM631.8 67.1h1v1h-1zM625.3 68.1h1v1h-1zM636.7 74.9h1v1h-1zM629.5 80.2h1v1h-1zM631.0 77.9h1v1h-1zM634.0 78.8h1v1h-1zM634.6 65.3h1v1h-1zM631.2 72.7h1v1h-1zM631.4 75.5h1v1h-1zM628.3 72.8h1v1h-1zM634.9 71.0h1v1h-1zM625.8 81.2h1v1h-1zM635.0 73.5h1v1h-1zM631.5 68.5h1v1h-1zM630.1 85.7h1v1h-1zM634.3 77.3h1v1h-1zM629.8 61.6h1v1h-1zM632.3 80.0h1v1h-1zM635.3 93.7h1v1h-1zM632.5 84.4h1v1h-1zM626.4 86.6h1v1h-1zM634.6 88.0h1v1h-1zM633.8 80.0h1v1h-1zM637.1 70.2h1v1h-1zM633.7 85.5h1v1h-1zM627.8 65.9h1v1h-1zM632.8 77.1h1v1h-1zM633.5 81.7h1v1h-1zM627.9 79.0h1v1h-1zM635.7 72.9h1v1h-1zM629.9 66.2h1v1h-1zM634.4 93.2h1v1h-1zM625.4 82.8h1v1h-1zM634.7 71.2h1v1h-1zM629.5 66.9h1v1h-1zM627.8 77.6h1v1h-1zM633.7 77.2h1v1h-1zM634.6 77.9h1v1h-1zM626.3 88.9h1v1h-1zM635.9 69.9h1v1h-1zM638.3 80.3h1v1h-1zM631.6 93.0h1v1h-1zM620.9 62.1h1v1h-1zM634.0 74.0h1v1h-1zM627.2 89.4h1v1h-1zM633.1 65.0h1v1h-1zM628.4 83.6h1v1h-1zM638.4 58.6h1v1h-1zM632.1 72.9h1v1h-1zM624.0 74.8h1v1h-1zM624.5 71.5h1v1h-1zM637.7 80.8h1v1h-1zM634.3 81.5h1v1h-1zM632.6 84.8h1v1h-1zM626.4 73.1h1v1h-1zM634.6 69.9h1v1h-1zM629.3 86.9h1v1h-1zM637.4 71.0h1v1h-1zM627.8 81.4h1v1h-1zM632.3 70.4h1v1h-1zM633.6 81.2h1v1h-1zM631.5 102.1h1v1h-1zM636.7 83.5h1v1h-1zM635.4 102.4h1v1h-1zM635.7 70.0h1v1h-1zM632.5 77.0h1v1h-1zM628.8 78.6h1v1h-1zM632.2 75.9h1v1h-1zM629.2 83.7h1v1h-1zM624.6 83.6h1v1h-1zM631.2 78.8h1v1h-1zM621.4 91.2h1v1h-1zM624.1 68.8h1v1h-1zM633.8 71.0h1v1h-1zM629.5 56.7h1v1h-1zM629.4 78.3h1v1h-1zM634.0 73.9h1v1h-1zM632.1 80.2h1v1h-1zM628.4 69.8h1v1h-1zM639.2 68.9h1v1h-1zM636.3 77.0h1v1h-1zM637.2 70.8h1v1h-1zM633.3 79.3h1v1h-1zM630.3 79.1h1v1h-1zM628.0 75.7h1v1h-1zM629.5 83.1h1v1h-1zM630.8 64.1h1v1h-1zM629.7 75.5h1v1h-1zM627.5 88.1h1v1h-1zM632.9 83.8h1v1h-1zM628.0 72.9h1v1h-1zM635.3 63.8h1v1h-1zM632.7 77.2h1v1h-1zM629.1 77.2h1v1h-1zM626.8 78.4h1v1h-1zM626.2 65.1h1v1h-1zM637.0 70.2h1v1h-1zM622.5 85.0h1v1h-1zM628.0 45.3h1v1h-1zM631.0 84.6h1v1h-1zM632.6 91.6h1v1h-1zM630.7 81.7h1v1h-1z" fill="#555" fill-opacity="0.55"/>
<ellipse cx="593.30" cy="68.1" rx="8.77" ry="7.40" fill="#3c3c3c"/>
<path d="M593.6 59.5h1v1h-1zM585.1 72.0h1v1h-1zM600.6 63.7h1v1h-1zM583.2 67.8h1v1h-1zM588.4 74.9h1v1h-1zM603.0 70.0h1v1h-1zM597.8 74.7h1v1h-1zM594.9 76.5h1v1h-1zM584.4 73.6h1v1h-1zM596.6 59.5h1v1h-1zM589.8 61.1h1v1h-1zM589.2 75.1h1v1h-1zM596.1 75.7h1v1h-1zM595.7 60.3h1v1h-1zM598.4 75.5h1v1h-1zM602.5 66.4h1v1h-1zM599.7 74.7h1v1h-1zM583.2 66.0h1v1h-1zM585.0 62.6h1v1h-1zM603.2 68.9h1v1h-1zM585.1 62.9h1v1h-1zM595.2 76.1h1v1h-1zM592.2 76.7h1v1h-1zM601.1 71.7h1v1h-1zM602.9 65.2h1v1h-1zM593.2 75.8h1v1h-1zM585.1 71.2h1v1h-1zM600.2 75.2h1v1h-1zM595.7 76.4h1v1h-1zM591.3 59.7h1v1h-1zM590.4 75.3h1v1h-1zM585.1 61.9h1v1h-1zM586.4 73.0h1v1h-1zM584.4 67.7h1v1h-1zM587.5 75.1h1v1h-1zM593.7 76.0h1v1h-1zM587.8 62.2h1v1h-1zM600.0 75.3h1v1h-1zM600.5 61.5h1v1h-1zM584.7 64.6h1v1h-1zM600.3 72.9h1v1h-1zM600.6 73.3h1v1h-1zM585.1 71.1h1v1h-1zM601.2 72.9h1v1h-1zM598.8 73.8h1v1h-1zM594.9 76.7h1v1h-1zM588.1 61.4h1v1h-1zM594.8 76.0h1v1h-1zM602.4 68.6h1v1h-1zM584.6 69.1h1v1h-1zM585.1 64.3h1v1h-1zM601.7 70.6h1v1h-1zM582.7 68.8h1v1h-1zM602.4 71.0h1v1h-1zM591.3 75.7h1v1h-1zM602.0 64.2h1v1h-1zM591.3 75.8h1v1h-1zM603.8 67.1h1v1h-1zM584.7 71.7h1v1h-1zM584.7 70.0h1v1h-1zM602.1 66.6h1v1h-1zM595.0 75.4h1v1h-1zM603.3 64.9h1v1h-1zM587.1 62.0h1v1h-1zM585.2 64.3h1v1h-1zM600.7 62.9h1v1h-1zM599.5 61.5h1v1h-1zM589.0 60.5h1v1h-1zM595.0 59.5h1v1h-1zM589.6 61.1h1v1h-1zM592.6 75.6h1v1h-1zM599.2 61.8h1v1h-1zM603.1 68.1h1v1h-1zM600.3 61.3h1v1h-1zM603.1 64.7h1v1h-1zM597.5 75.3h1v1h-1zM590.7 60.1h1v1h-1zM587.8 73.8h1v1h-1zM601.3 62.7h1v1h-1zM599.5 62.3h1v1h-1zM593.4 76.9h1v1h-1zM587.7 61.2h1v1h-1zM601.9 69.7h1v1h-1zM594.6 59.2h1v1h-1zM586.9 75.2h1v1h-1zM597.5 75.5h1v1h-1zM587.7 74.7h1v1h-1zM596.3 75.5h1v1h-1zM583.9 70.0h1v1h-1zM596.0 76.0h1v1h-1zM595.9 77.1h1v1h-1zM593.8 75.5h1v1h-1zM592.0 76.2h1v1h-1zM583.9 70.9h1v1h-1zM600.5 73.1h1v1h-1zM583.0 64.9h1v1h-1zM600.6 62.8h1v1h-1zM590.5 75.2h1v1h-1zM586.8 62.1h1v1h-1zM583.3 69.5h1v1h-1zM583.3 70.0h1v1h-1zM591.1 75.6h1v1h-1zM601.6 63.8h1v1h-1zM601.7 66.0h1v1h-1zM601.1 64.7h1v1h-1zM593.2 59.9h1v1h-1zM599.9 73.4h1v1h-1zM583.7 69.1h1v1h-1zM584.5 68.7h1v1h-1zM602.5 67.8h1v1h-1zM591.5 59.2h1v1h-1zM602.1 66.9h1v1h-1zM600.7 63.1h1v1h-1zM588.2 61.8h1v1h-1zM599.3 74.5h1v1h-1zM601.0 63.6h1v1h-1zM602.9 65.6h1v1h-1zM604.0 69.2h1v1h-1zM600.1 73.0h1v1h-1zM583.3 64.6h1v1h-1zM599.3 73.8h1v1h-1zM601.8 70.2h1v1h-1zM584.5 71.5h1v1h-1zM584.5 67.6h1v1h-1zM584.8 71.5h1v1h-1zM601.7 65.0h1v1h-1zM587.0 62.2h1v1h-1zM595.0 60.0h1v1h-1zM603.2 67.7h1v1h-1zM588.2 74.7h1v1h-1zM599.0 62.0h1v1h-1zM601.7 64.6h1v1h-1zM601.6 65.5h1v1h-1zM595.3 60.4h1v1h-1zM594.7 76.2h1v1h-1zM601.6 70.9h1v1h-1zM598.8 61.5h1v1h-1zM588.6 74.5h1v1h-1zM598.1 74.5h1v1h-1zM584.8 69.9h1v1h-1zM595.9 75.7h1v1h-1zM601.1 62.1h1v1h-1zM601.5 65.1h1v1h-1zM600.8 74.3h1v1h-1zM590.4 60.9h1v1h-1zM583.5 71.8h1v1h-1zM597.7 59.8h1v1h-1zM584.4 68.4h1v1h-1zM584.7 66.3h1v1h-1zM599.8 73.1h1v1h-1zM593.2 75.6h1v1h-1zM592.8 76.5h1v1h-1zM589.2 61.6h1v1h-1zM599.9 61.3h1v1h-1zM601.7 65.5h1v1h-1zM592.1 60.0h1v1h-1zM590.4 59.4h1v1h-1zM602.4 72.4h1v1h-1zM599.5 61.6h1v1h-1zM585.5 72.8h1v1h-1zM599.8 74.7h1v1h-1zM584.1 65.5h1v1h-1zM591.1 60.9h1v1h-1zM601.8 70.3h1v1h-1zM602.4 72.3h1v1h-1zM599.5 73.9h1v1h-1zM588.3 61.8h1v1h-1zM602.4 63.3h1v1h-1zM585.8 73.3h1v1h-1zM595.7 59.1h1v1h-1zM590.0 60.7h1v1h-1zM602.8 70.3h1v1h-1zM587.9 61.0h1v1h-1zM587.2 75.4h1v1h-1zM585.6 63.8h1v1h-1zM593.7 75.5h1v1h-1zM591.1 60.6h1v1h-1zM598.9 62.0h1v1h-1zM589.8 76.2h1v1h-1zM585.3 74.4h1v1h-1zM583.4 64.5h1v1h-1zM599.6 73.2h1v1h-1zM603.9 68.9h1v1h-1zM583.3 69.3h1v1h-1zM582.5 66.6h1v1h-1zM596.8 60.7h1v1h-1zM597.2 75.2h1v1h-1zM586.2 73.0h1v1h-1zM591.0 59.5h1v1h-1zM597.6 61.5h1v1h-1zM598.2 75.4h1v1h-1zM592.2 59.5h1v1h-1zM600.8 63.7h1v1h-1zM601.7 71.3h1v1h-1zM589.3 74.8h1v1h-1zM589.2 60.8h1v1h-1zM585.8 61.9h1v1h-1zM583.9 64.0h1v1h-1zM597.1 60.7h1v1h-1zM586.4 62.7h1v1h-1zM585.6 73.6h1v1h-1zM585.9 63.5h1v1h-1zM587.8 61.5h1v1h-1zM601.1 73.6h1v1h-1zM582.5 68.3h1v1h-1zM600.4 63.7h1v1h-1zM592.3 76.5h1v1h-1zM596.5 76.5h1v1h-1zM588.3 60.0h1v1h-1zM587.4 74.9h1v1h-1zM585.3 63.1h1v1h-1zM602.0 65.6h1v1h-1zM594.5 76.8h1v1h-1zM598.9 74.7h1v1h-1zM602.7 64.1h1v1h-1zM590.1 61.2h1v1h-1zM602.6 67.1h1v1h-1zM591.1 75.3h1v1h-1zM598.7 73.9h1v1h-1zM584.7 65.2h1v1h-1zM590.4 76.5h1v1h-1zM601.5 71.9h1v1h-1zM596.7 59.8h1v1h-1zM590.9 60.3h1v1h-1zM598.3 74.7h1v1h-1zM592.0 59.5h1v1h-1zM585.1 62.4h1v1h-1zM583.7 64.6h1v1h-1zM600.7 63.9h1v1h-1zM600.0 75.4h1v1h-1zM590.6 75.7h1v1h-1zM584.0 72.2h1v1h-1zM602.8 68.7h1v1h-1zM584.7 69.9h1v1h-1zM583.3 71.1h1v1h-1zM601.8 70.5h1v1h-1zM585.8 63.0h1v1h-1zM593.9 60.4h1v1h-1zM599.9 73.5h1v1h-1zM597.8 61.2h1v1h-1zM585.1 73.3h1v1h-1zM585.7 64.3h1v1h-1zM585.5 74.3h1v1h-1zM603.4 69.7h1v1h-1zM589.6 76.1h1v1h-1zM598.4 75.3h1v1h-1zM598.9 62.4h1v1h-1zM601.8 66.1h1v1h-1zM603.7 68.8h1v1h-1zM584.5 67.5h1v1h-1zM588.0 61.4h1v1h-1zM604.2 67.8h1v1h-1zM600.2 62.5h1v1h-1zM597.5 60.3h1v1h-1zM591.9 76.6h1v1h-1zM590.7 75.6h1v1h-1zM601.1 71.7h1v1h-1zM582.8 68.0h1v1h-1zM595.7 60.9h1v1h-1zM584.5 66.1h1v1h-1zM595.9 75.6h1v1h-1zM588.7 59.9h1v1h-1zM600.7 72.5h1v1h-1zM593.2 60.1h1v1h-1zM585.4 73.8h1v1h-1zM604.1 69.1h1v1h-1zM591.8 76.9h1v1h-1zM598.6 60.5h1v1h-1zM586.0 62.4h1v1h-1zM602.2 70.4h1v1h-1zM586.9 62.7h1v1h-1zM589.3 60.7h1v1h-1zM588.1 60.4h1v1h-1zM588.3 75.3h1v1h-1zM603.1 70.7h1v1h-1zM597.3 60.4h1v1h-1zM589.8 60.5h1v1h-1zM588.6 75.9h1v1h-1zM599.9 74.1h1v1h-1zM601.2 73.5h1v1h-1zM583.4 68.0h1v1h-1zM597.8 75.0h1v1h-1zM588.3 61.4h1v1h-1zM591.8 60.8h1v1h-1zM587.7 73.9h1v1h-1zM592.6 60.3h1v1h-1zM593.2 59.5h1v1h-1zM602.8 70.0h1v1h-1zM596.9 59.6h1v1h-1zM600.8 72.0h1v1h-1zM583.7 71.1h1v1h-1zM601.7 74.1h1v1h-1zM591.2 60.9h1v1h-1zM592.9 60.2h1v1h-1zM597.8 75.6h1v1h-1zM591.2 60.0h1v1h-1zM593.1 75.6h1v1h-1zM601.6 70.9h1v1h-1zM587.4 74.0h1v1h-1zM602.8 71.9h1v1h-1zM596.7 75.0h1v1h-1zM595.7 75.7h1v1h-1zM587.0 62.9h1v1h-1zM598.4 74.1h1v1h-1zM584.5 73.6h1v1h-1zM595.4 59.4h1v1h-1zM601.0 64.2h1v1h-1zM587.7 61.8h1v1h-1zM586.6 74.6h1v1h-1zM584.2 65.0h1v1h-1zM591.9 77.1h1v1h-1zM587.8 61.2h1v1h-1zM593.9 59.1h1v1h-1zM597.4 74.9h1v1h-1zM603.1 66.7h1v1h-1zM600.3 63.1h1v1h-1zM602.6 67.4h1v1h-1zM596.9 59.6h1v1h-1zM584.0 67.3h1v1h-1zM584.4 68.2h1v1h-1zM603.0 72.1h1v1h-1zM588.2 62.0h1v1h-1zM585.7 64.0h1v1h-1zM598.2 61.5h1v1h-1zM603.2 69.0h1v1h-1zM603.4 67.8h1v1h-1zM601.9 66.3h1v1h-1zM590.6 76.5h1v1h-1zM584.6 69.9h1v1h-1zM588.3 74.5h1v1h-1z" fill="#111" fill-opacity="0.8"/>
<ellipse cx="593.30" cy="68.1" rx="9.38" ry="7.91" fill="none" stroke="#fff" stroke-width="0.6"/>
<ellipse cx="593.30" cy="68.1" rx="6.12" ry="5.16" fill="none" stroke="#999" stroke-width="0.5"/>
<ellipse cx="593.30" cy="68.1" rx="3.88" ry="3.27" fill="none" stroke="#888" stroke-width="0.5"/>
<ellipse cx="593.60" cy="68.1" rx="1.5" ry="1.2" fill="#f4f4f4"/>
</g>

<text transform="translate(651.10,96.9) scale(0.95,1)" font-size="8.6" fill="#2a2a2a">6.60</text>
<path d="M7.8 137V106" stroke="#000" stroke-width="2"/><path d="M4.2 107.2L8 99L11.8 107.2Z" fill="#000"/>
<text transform="translate(13.5,170.5) rotate(-90)" font-size="12.6" font-weight="bold" fill="#000">CD8<tspan font-size="9" dy="-5">+</tspan></text>
<text x="24.2" y="201.8" font-size="13.1" font-weight="bold" fill="#000">CD45.1<tspan font-size="10.5" dx="1.0" dy="-5.4">+</tspan></text>
<path d="M78.6 196.1H327" stroke="#000" stroke-width="2"/><path d="M326 191.8L334.3 196.1L326 200.4Z" fill="#000"/>
<path d="M66 276.3V422.7M65.3 422.0H202.2" stroke="#000" stroke-width="1.5" fill="none"/>
<path d="M60.5 422.0H66 M60.5 385.6H66 M60.5 349.1H66 M60.5 312.7H66 M60.5 276.3H66 M83 422.0V428.4 M108.7 422.0V428.4 M134.1 422.0V428.4 M159.4 422.0V428.4 M184.8 422.0V428.4" stroke="#000" stroke-width="1.5" fill="none"/>
<g font-size="14" font-weight="bold" text-anchor="end" fill="#000">
<text x="58.9" y="427.8" transform="matrix(1,0,0,1.12,0,-51.34)">0</text>
<text x="58.9" y="391.4" transform="matrix(1,0,0,1.12,0,-46.97)">20</text>
<text x="58.9" y="354.9" transform="matrix(1,0,0,1.12,0,-42.59)">40</text>
<text x="58.9" y="318.5" transform="matrix(1,0,0,1.12,0,-38.22)">60</text>
<text x="58.9" y="282.1" transform="matrix(1,0,0,1.12,0,-33.85)">80</text>
</g>
<text transform="translate(36.2,433.3) rotate(-90) scale(1.075,1)" font-size="15" font-weight="bold" fill="#000">% CD45.1<tspan font-size="10.8" dy="-5.9">+</tspan><tspan dy="5.9"> out of CD8</tspan><tspan font-size="10.8" dy="-5.9">+</tspan></text>
<rect x="75.75" y="421.23" width="14.50" height="0.77" fill="#000" stroke="#000" stroke-width="2.1"/>
<rect x="101.45" y="373.88" width="14.50" height="48.12" fill="#8282ff" stroke="#0000ff" stroke-width="2.1"/>
<rect x="126.85" y="322.52" width="14.50" height="99.48" fill="#ccccff" stroke="#0000ff" stroke-width="2.1"/>
<rect x="152.15" y="415.40" width="14.50" height="6.60" fill="#ff8a8a" stroke="#ff0000" stroke-width="2.1"/>
<rect x="177.55" y="408.48" width="14.50" height="13.52" fill="#ffcaca" stroke="#ff0000" stroke-width="2.1"/>
<path d="M108.7 398.0V347.3M104.4 347.3h8.6M104.4 398.0h8.6" stroke="#0000ff" stroke-width="1.0" fill="none"/>
<path d="M134.1 330.4V312.0M129.79999999999998 312.0h8.6M129.79999999999998 330.4h8.6" stroke="#0000ff" stroke-width="1.0" fill="none"/>
<path d="M184.8 414.7V398.3M180.5 398.3h8.6M180.5 414.7h8.6" stroke="#ff0000" stroke-width="1.0" fill="none"/>
<path d="M159.4 416.5V412.0M155.1 412.0h8.6M155.1 416.5h8.6" stroke="#ff0000" stroke-width="1.0" fill="none"/>
<rect x="75.40" y="417.40" width="4.2" height="4.2" fill="#000"/>
<rect x="78.90" y="416.90" width="4.2" height="4.2" fill="#000"/>
<rect x="82.40" y="417.70" width="4.2" height="4.2" fill="#000"/>
<rect x="86.40" y="416.90" width="4.2" height="4.2" fill="#000"/>
<rect x="106.10" y="331.80" width="5.4" height="5.4" fill="#0000ff"/>
<rect x="100.60" y="386.50" width="5.4" height="5.4" fill="#0000ff"/>
<rect x="106.50" y="380.50" width="5.4" height="5.4" fill="#0000ff"/>
<rect x="111.50" y="380.50" width="5.4" height="5.4" fill="#0000ff"/>
<rect x="125.85" y="311.95" width="4.9" height="4.9" fill="#fff" stroke="#0000ff" stroke-width="1.5"/>
<rect x="137.35" y="310.45" width="4.9" height="4.9" fill="#fff" stroke="#0000ff" stroke-width="1.5"/>
<rect x="131.45" y="329.85" width="4.9" height="4.9" fill="#fff" stroke="#0000ff" stroke-width="1.5"/>
<rect x="131.45" y="323.05" width="4.9" height="4.9" fill="#fff" stroke="#0000ff" stroke-width="1.5"/>
<circle cx="154.5" cy="414.3" r="2.7" fill="#ff0000"/>
<circle cx="157.5" cy="412.3" r="2.7" fill="#ff0000"/>
<circle cx="161" cy="412.5" r="2.7" fill="#ff0000"/>
<circle cx="164.5" cy="413" r="2.7" fill="#ff0000"/>
<circle cx="179.5" cy="409.5" r="2.3" fill="#fff" stroke="#ff0000" stroke-width="1.4"/>
<circle cx="184.8" cy="409" r="2.3" fill="#fff" stroke="#ff0000" stroke-width="1.4"/>
<circle cx="190.2" cy="409.5" r="2.3" fill="#fff" stroke="#ff0000" stroke-width="1.4"/>
<circle cx="184.8" cy="394.8" r="2.5999999999999996" fill="#fff" stroke="#ff0000" stroke-width="1.4"/>
<g stroke="#000" stroke-width="1.4" fill="none">
<path d="M83.2 240.4V232.7H134.4V240.4"/>
<path d="M108.6 271.4V263.4H131.4V271.4"/>
<path d="M136.6 271.4V263.4H184.7V271.4"/>
<path d="M83.2 302.4V294.6H108.7V302.4"/>
<path d="M134.2 302.4V294.6H159.4V302.4"/>
</g>
<g font-size="10.9" fill="#000">
<text x="88.6" y="225.8" transform="matrix(1,0,0,1.12,0,-27.10)">&lt;0.0001</text>
<text x="103" y="256.3" transform="matrix(1,0,0,1.12,0,-30.76)">0.0003</text>
<text x="140.6" y="256.3" transform="matrix(1,0,0,1.12,0,-30.76)">&lt;0.0001</text>
<text x="79" y="287.7" transform="matrix(1,0,0,1.12,0,-34.52)">0.0007</text>
<text x="126.7" y="287.7" transform="matrix(1,0,0,1.12,0,-34.52)">&lt;0.0001</text>
</g>
<path d="M278 276.1V418.7M277.3 418.0H473.8" stroke="#000" stroke-width="1.5" fill="none"/>
<path d="M273 418.0H278 M273 382.5H278 M273 347.1H278 M273 311.6H278 M273 276.1H278 M278.3 418.0V423.3 M350.7 418.0V423.3 M423.1 418.0V423.3 M314.5 418.0V421.5 M386.9 418.0V421.5 M459.3 418.0V421.5" stroke="#000" stroke-width="1.5" fill="none"/>
<g font-size="14" font-weight="bold" fill="#000">
<g text-anchor="end">
<text x="271.2" y="423.8" transform="matrix(1,0,0,1.12,0,-50.86)">0</text>
<text x="271.2" y="388.3" transform="matrix(1,0,0,1.12,0,-46.60)">20</text>
<text x="271.2" y="352.9" transform="matrix(1,0,0,1.12,0,-42.35)">40</text>
<text x="271.2" y="317.4" transform="matrix(1,0,0,1.12,0,-38.09)">60</text>
<text x="271.2" y="281.9" transform="matrix(1,0,0,1.12,0,-33.83)">80</text>
</g><g text-anchor="middle">
<text x="278.3" y="439.7" transform="matrix(1,0,0,1.12,0,-52.76)">0</text>
<text x="350.7" y="439.7" transform="matrix(1,0,0,1.12,0,-52.76)">10</text>
<text x="423.1" y="439.7" transform="matrix(1,0,0,1.12,0,-52.76)">20</text>
</g>
<text x="376.5" y="460.5" text-anchor="middle" font-size="14.5" transform="matrix(1,0,0,1.12,0,-55.26)">Day</text>
</g>
<text transform="translate(249.4,428.0) rotate(-90) scale(1.075,1)" font-size="14.5" font-weight="bold" fill="#000">% CD45.1<tspan font-size="10.4" dy="-5.7">+</tspan><tspan dy="5.7"> out of CD8</tspan><tspan font-size="10.4" dy="-5.7">+</tspan></text>
<polyline points="278.3,418.0 307.3,408.4 314.5,402.0 329.0,409.1 372.4,404.0 473.8,410.4" fill="none" stroke="#ff0000" stroke-width="1.0" stroke-dasharray="2.2 1.8"/>
<path d="M307.5 412.5V404.3M304.7 404.3h5.6M304.7 412.5h5.6M314.5 409.8V394.2M311.7 394.2h5.6M311.7 409.8h5.6M328.5 411.8V406.5M325.7 406.5h5.6M325.7 411.8h5.6M372.5 408.4V399.6M369.7 399.6h5.6M369.7 408.4h5.6M473.5 411.8V409.0M470.7 409.0h5.6M470.7 411.8h5.6" stroke="#ff0000" stroke-width="0.95" fill="none"/>
<circle cx="278.3" cy="418.0" r="2.5999999999999996" fill="#fff" stroke="#ff0000" stroke-width="1.4"/>
<circle cx="307.26" cy="408.42175" r="2.5999999999999996" fill="#fff" stroke="#ff0000" stroke-width="1.4"/>
<circle cx="314.5" cy="402.03625" r="2.5999999999999996" fill="#fff" stroke="#ff0000" stroke-width="1.4"/>
<circle cx="328.98" cy="409.13125" r="2.5999999999999996" fill="#fff" stroke="#ff0000" stroke-width="1.4"/>
<circle cx="372.42" cy="403.987375" r="2.5999999999999996" fill="#fff" stroke="#ff0000" stroke-width="1.4"/>
<circle cx="473.78000000000003" cy="410.372875" r="2.5999999999999996" fill="#fff" stroke="#ff0000" stroke-width="1.4"/>
<polyline points="278.3,418.0 307.3,409.1 314.5,409.7 329.0,409.1 372.4,406.3 473.8,413.0" fill="none" stroke="#ff0000" stroke-width="1.0"/>
<path d="M328.5 413.0V405.2M325.7 405.2h5.6M325.7 413.0h5.6M372.5 410.7V401.9M369.7 401.9h5.6M369.7 410.7h5.6" stroke="#ff0000" stroke-width="0.95" fill="none"/>
<circle cx="278.3" cy="418.0" r="3.0" fill="#ff0000"/>
<circle cx="307.26" cy="409.13125" r="3.0" fill="#ff0000"/>
<circle cx="314.5" cy="409.663375" r="3.0" fill="#ff0000"/>
<circle cx="328.98" cy="409.13125" r="3.0" fill="#ff0000"/>
<circle cx="372.42" cy="406.29325" r="3.0" fill="#ff0000"/>
<circle cx="473.78000000000003" cy="413.0335" r="3.0" fill="#ff0000"/>
<polyline points="278.3,418.0 307.3,390.3 314.5,319.9 329.0,359.3 372.4,363.0 473.8,414.8" fill="none" stroke="#0000ff" stroke-width="1.0" stroke-dasharray="2.2 1.8"/>
<path d="M307.5 393.0V387.7M304.7 387.7h5.6M304.7 393.0h5.6M314.5 328.8V311.0M311.7 311.0h5.6M311.7 328.8h5.6M328.5 368.2V350.4M325.7 350.4h5.6M325.7 368.2h5.6M372.5 377.9V348.1M369.7 348.1h5.6M369.7 377.9h5.6" stroke="#0000ff" stroke-width="0.95" fill="none"/>
<rect x="275.95" y="415.65" width="4.7" height="4.7" fill="#fff" stroke="#0000ff" stroke-width="1.5"/>
<rect x="304.91" y="387.98" width="4.7" height="4.7" fill="#fff" stroke="#0000ff" stroke-width="1.5"/>
<rect x="312.15" y="317.56" width="4.7" height="4.7" fill="#fff" stroke="#0000ff" stroke-width="1.5"/>
<rect x="326.63" y="356.94" width="4.7" height="4.7" fill="#fff" stroke="#0000ff" stroke-width="1.5"/>
<rect x="370.07" y="360.66" width="4.7" height="4.7" fill="#fff" stroke="#0000ff" stroke-width="1.5"/>
<rect x="471.43" y="412.46" width="4.7" height="4.7" fill="#fff" stroke="#0000ff" stroke-width="1.5"/>
<polyline points="278.3,418.0 307.3,394.2 314.5,369.6 329.0,383.6 372.4,402.2 473.8,413.9" fill="none" stroke="#0000ff" stroke-width="1.0"/>
<path d="M307.5 397.6V390.9M304.7 390.9h5.6M304.7 397.6h5.6M314.5 394.6V344.6M311.7 344.6h5.6M311.7 394.6h5.6M328.5 413.4V353.8M325.7 353.8h5.6M325.7 413.4h5.6M372.5 407.5V396.9M369.7 396.9h5.6M369.7 407.5h5.6" stroke="#0000ff" stroke-width="0.95" fill="none"/>
<rect x="275.50" y="415.20" width="5.6" height="5.6" fill="#0000ff"/>
<rect x="304.46" y="391.43" width="5.6" height="5.6" fill="#0000ff"/>
<rect x="311.70" y="366.78" width="5.6" height="5.6" fill="#0000ff"/>
<rect x="326.18" y="380.79" width="5.6" height="5.6" fill="#0000ff"/>
<rect x="369.62" y="399.41" width="5.6" height="5.6" fill="#0000ff"/>
<rect x="470.98" y="411.12" width="5.6" height="5.6" fill="#0000ff"/>
<polyline points="278.3,418.0 307.3,414.6 314.5,416.2 329.0,417.1 372.4,416.6 473.8,416.2" fill="none" stroke="#000" stroke-width="1.0"/>
<path d="M307.5 416.0V413.2M304.7 413.2h5.6M304.7 416.0h5.6M314.5 417.6V414.8M311.7 414.8h5.6M311.7 417.6h5.6" stroke="#000" stroke-width="0.95" fill="none"/>
<path d="M278.3 414.8L281.3 420.0H275.3Z" fill="#000"/>
<path d="M307.3 411.4L310.3 416.6H304.3Z" fill="#000"/>
<path d="M314.5 413.0L317.5 418.2H311.5Z" fill="#000"/>
<path d="M329.0 413.9L332.0 419.1H326.0Z" fill="#000"/>
<path d="M372.4 413.4L375.4 418.6H369.4Z" fill="#000"/>
<path d="M473.8 413.0L476.8 418.2H470.8Z" fill="#000"/>
<path d="M384.5 246H398" stroke="#000" stroke-width="1.1"/>
<path d="M391.4 242.9L394.29999999999995 248.0H388.5Z" fill="#000"/>
<text x="405.5" y="250.6" font-size="14.6" fill="#000" transform="matrix(1,0,0,1.12,0,-30.07)">Isotype mIgG1</text>
<path d="M384.5 269.3H398" stroke="#0000ff" stroke-width="1.1"/>
<rect x="388.75" y="266.65" width="5.3" height="5.3" fill="#0000ff"/>
<text x="405.5" y="273.9" font-size="14.6" fill="#000" transform="matrix(1,0,0,1.12,0,-32.87)">Anti-mCD27 mIgG1</text>
<path d="M384.5 293.3H398" stroke="#0000ff" stroke-width="1.1" stroke-dasharray="2 1.6"/>
<rect x="389.25" y="291.15" width="4.3" height="4.3" fill="#fff" stroke="#0000ff" stroke-width="1.5"/>
<text x="405.5" y="297.9" font-size="14.6" fill="#000" transform="matrix(1,0,0,1.12,0,-35.75)">Tetra anti-mCD27 mIgG1</text>
<path d="M384.5 316.3H398" stroke="#ff0000" stroke-width="1.1"/>
<circle cx="391.4" cy="316.3" r="2.8" fill="#ff0000"/>
<text x="405.5" y="320.9" font-size="14.6" fill="#000" transform="matrix(1,0,0,1.12,0,-38.51)">Anti-mCD27 mIgG1 NQ</text>
<path d="M384.5 340.3H398" stroke="#ff0000" stroke-width="1.1" stroke-dasharray="2 1.6"/>
<circle cx="391.4" cy="340.3" r="2.4000000000000004" fill="#fff" stroke="#ff0000" stroke-width="1.4"/>
<text x="405.5" y="344.9" font-size="14.6" fill="#000" transform="matrix(1,0,0,1.12,0,-41.39)">Tetra anti-mCD27 mIgG1 NQ</text>
<g stroke="#000" stroke-width="2" fill="none">
<path d="M534.2 243.6H538.6V266.6H534.2"/>
<path d="M569.6 267.6H574V289.4H569.6"/>
<path d="M569.6 293H574V316H569.6"/>
<path d="M617.0 241H621.4V290H617.0"/>
<path d="M617.0 293.8H621.4V336.4H617.0"/>
</g>
<g font-size="10.5" fill="#000">
<text x="543.3" y="258.5" transform="matrix(1,0,0,1.12,0,-31.02)">0.0191</text>
<text x="577.8" y="282" transform="matrix(1,0,0,1.12,0,-33.84)">0.0007</text>
<text x="577.6" y="308" transform="matrix(1,0,0,1.12,0,-36.96)">&lt;0.0001</text>
<text x="626.2" y="269.7" transform="matrix(1,0,0,1.12,0,-32.36)">&lt;0.0001</text>
<text x="626.2" y="319.2" transform="matrix(1,0,0,1.12,0,-38.30)">&lt;0.0001</text>
</g>
</svg></body></html>
